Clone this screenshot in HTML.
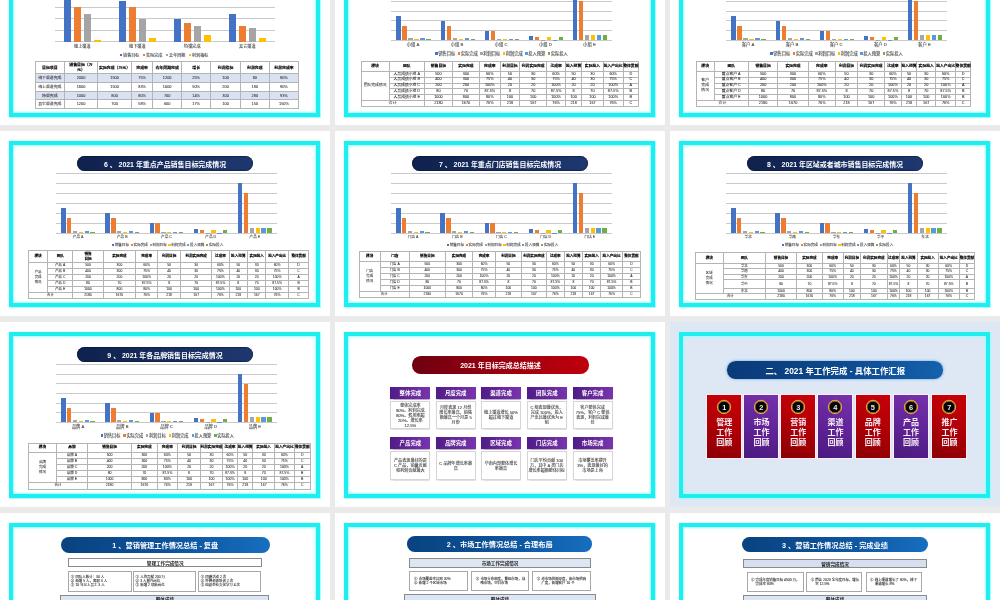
<!DOCTYPE html>
<html><head><meta charset="utf-8"><title>slides</title>
<style>
*{margin:0;padding:0}
html,body{width:1000px;height:600px;overflow:hidden;background:#eaeaea}
body{position:relative;font-family:"Liberation Sans","Noto Sans CJK SC",sans-serif}
.c{position:absolute;width:330px;height:185.4px;overflow:hidden}
.c div{position:absolute}
.c .t{display:flex;align-items:center;white-space:nowrap;overflow:visible}
.c .fr{left:9px;top:10.1px;width:311px;height:166.8px;border:4px solid #1eeef0;box-sizing:border-box;
  box-shadow:0 0 1.6px 1.2px rgba(150,255,255,.85), inset 0 0 1.6px 1.2px rgba(150,255,255,.85)}
</style></head><body>
<div class="c" style="left:0px;top:-60.4px;background:#fff"><div style="left:54.8px;top:101.7px;width:220.2px;height:1px;background:#c8cacd"></div><div style="left:54.8px;top:90.25px;width:220.2px;height:1px;background:#c8cacd"></div><div style="left:54.8px;top:78.8px;width:220.2px;height:1px;background:#c8cacd"></div><div style="left:54.8px;top:67.35px;width:220.2px;height:1px;background:#c8cacd"></div><div style="left:54.8px;top:55.9px;width:220.2px;height:1px;background:#c8cacd"></div><div style="left:54.8px;top:44.45px;width:220.2px;height:1px;background:#c8cacd"></div><div style="left:63.8px;top:56.4px;width:7.4px;height:45.8px;background:#4472c4"></div><div style="left:73.8px;top:67.85px;width:7.4px;height:34.35px;background:#ed7d31"></div><div style="left:83.8px;top:74.72px;width:7.4px;height:27.48px;background:#a5a5a5"></div><div style="left:93.8px;top:100.37px;width:7.4px;height:1.83px;background:#ffc000"></div><div class="t" style="left:54.8px;top:103.3px;width:55px;height:6px;font-size:4.1px;color:#404040;justify-content:center;text-align:center;-webkit-text-stroke:0.1px #555;">线上渠道</div><div style="left:118.8px;top:60.98px;width:7.4px;height:41.22px;background:#4472c4"></div><div style="left:128.8px;top:67.85px;width:7.4px;height:34.35px;background:#ed7d31"></div><div style="left:138.8px;top:79.3px;width:7.4px;height:22.9px;background:#a5a5a5"></div><div style="left:148.8px;top:98.08px;width:7.4px;height:4.12px;background:#ffc000"></div><div class="t" style="left:109.8px;top:103.3px;width:55px;height:6px;font-size:4.1px;color:#404040;justify-content:center;text-align:center;-webkit-text-stroke:0.1px #555;">线下渠道</div><div style="left:173.8px;top:79.3px;width:7.4px;height:22.9px;background:#4472c4"></div><div style="left:183.8px;top:83.88px;width:7.4px;height:18.32px;background:#ed7d31"></div><div style="left:193.8px;top:86.17px;width:7.4px;height:16.03px;background:#a5a5a5"></div><div style="left:203.8px;top:95.79px;width:7.4px;height:6.41px;background:#ffc000"></div><div class="t" style="left:164.8px;top:103.3px;width:55px;height:6px;font-size:4.1px;color:#404040;justify-content:center;text-align:center;-webkit-text-stroke:0.1px #555;">特渠完成</div><div style="left:228.8px;top:74.72px;width:7.4px;height:27.48px;background:#4472c4"></div><div style="left:238.8px;top:86.17px;width:7.4px;height:16.03px;background:#ed7d31"></div><div style="left:248.8px;top:88.46px;width:7.4px;height:13.74px;background:#a5a5a5"></div><div style="left:258.8px;top:98.76px;width:7.4px;height:3.44px;background:#ffc000"></div><div class="t" style="left:219.8px;top:103.3px;width:55px;height:6px;font-size:4.1px;color:#404040;justify-content:center;text-align:center;-webkit-text-stroke:0.1px #555;">其它渠道</div><div style="left:120.4px;top:114.75px;width:2.1px;height:2.1px;background:#4472c4"></div><div class="t" style="left:123.1px;top:112.8px;width:20.9px;height:6px;font-size:4.1px;color:#404040;justify-content:flex-start;text-align:left;-webkit-text-stroke:0.1px #555;">销售目标</div><div style="left:143.4px;top:114.75px;width:2.1px;height:2.1px;background:#ed7d31"></div><div class="t" style="left:146.1px;top:112.8px;width:20.9px;height:6px;font-size:4.1px;color:#404040;justify-content:flex-start;text-align:left;-webkit-text-stroke:0.1px #555;">实际完成</div><div style="left:166.4px;top:114.75px;width:2.1px;height:2.1px;background:#a5a5a5"></div><div class="t" style="left:169.1px;top:112.8px;width:20.9px;height:6px;font-size:4.1px;color:#404040;justify-content:flex-start;text-align:left;-webkit-text-stroke:0.1px #555;">去年同期</div><div style="left:189.4px;top:114.75px;width:2.1px;height:2.1px;background:#ffc000"></div><div class="t" style="left:192.1px;top:112.8px;width:20.9px;height:6px;font-size:4.1px;color:#404040;justify-content:flex-start;text-align:left;-webkit-text-stroke:0.1px #555;">利润指标</div><div style="left:35.3px;top:133.6px;width:263.3px;height:9.1px;background:#d9e1f2"></div><div style="left:35.3px;top:151.5px;width:263.3px;height:8.7px;background:#d9e1f2"></div><div style="left:63.95px;top:121.25px;width:0.9px;height:12.8px;background:#b4b4b4"></div><div style="left:34.85px;top:133.15px;width:30px;height:0.9px;background:#b4b4b4"></div><div class="t" style="left:35.3px;top:121.7px;width:29.1px;height:11.9px;font-size:3.9px;color:#000;font-weight:bold;justify-content:center;text-align:center;line-height:1.4;-webkit-text-stroke:0.1px #000;">目标项目</div><div style="left:97.15px;top:121.25px;width:0.9px;height:12.8px;background:#b4b4b4"></div><div style="left:63.95px;top:133.15px;width:34.1px;height:0.9px;background:#b4b4b4"></div><div class="t" style="left:64.4px;top:121.7px;width:33.2px;height:11.9px;font-size:3.9px;color:#000;font-weight:bold;justify-content:center;text-align:center;line-height:1.4;-webkit-text-stroke:0.1px #000;">销售目标（万<br>元）</div><div style="left:131.15px;top:121.25px;width:0.9px;height:12.8px;background:#b4b4b4"></div><div style="left:97.15px;top:133.15px;width:34.9px;height:0.9px;background:#b4b4b4"></div><div class="t" style="left:97.6px;top:121.7px;width:34px;height:11.9px;font-size:3.9px;color:#000;font-weight:bold;justify-content:center;text-align:center;line-height:1.4;-webkit-text-stroke:0.1px #000;">实际完成（万元）</div><div style="left:152.35px;top:121.25px;width:0.9px;height:12.8px;background:#b4b4b4"></div><div style="left:131.15px;top:133.15px;width:22.1px;height:0.9px;background:#b4b4b4"></div><div class="t" style="left:131.6px;top:121.7px;width:21.2px;height:11.9px;font-size:3.9px;color:#000;font-weight:bold;justify-content:center;text-align:center;line-height:1.4;-webkit-text-stroke:0.1px #000;">完成率</div><div style="left:181.05px;top:121.25px;width:0.9px;height:12.8px;background:#b4b4b4"></div><div style="left:152.35px;top:133.15px;width:29.6px;height:0.9px;background:#b4b4b4"></div><div class="t" style="left:152.8px;top:121.7px;width:28.7px;height:11.9px;font-size:3.9px;color:#000;font-weight:bold;justify-content:center;text-align:center;line-height:1.4;-webkit-text-stroke:0.1px #000;">去年同期完成</div><div style="left:210.35px;top:121.25px;width:0.9px;height:12.8px;background:#b4b4b4"></div><div style="left:181.05px;top:133.15px;width:30.2px;height:0.9px;background:#b4b4b4"></div><div class="t" style="left:181.5px;top:121.7px;width:29.3px;height:11.9px;font-size:3.9px;color:#000;font-weight:bold;justify-content:center;text-align:center;line-height:1.4;-webkit-text-stroke:0.1px #000;">增长</div><div style="left:239.95px;top:121.25px;width:0.9px;height:12.8px;background:#b4b4b4"></div><div style="left:210.35px;top:133.15px;width:30.5px;height:0.9px;background:#b4b4b4"></div><div class="t" style="left:210.8px;top:121.7px;width:29.6px;height:11.9px;font-size:3.9px;color:#000;font-weight:bold;justify-content:center;text-align:center;line-height:1.4;-webkit-text-stroke:0.1px #000;">利润指标</div><div style="left:268.85px;top:121.25px;width:0.9px;height:12.8px;background:#b4b4b4"></div><div style="left:239.95px;top:133.15px;width:29.8px;height:0.9px;background:#b4b4b4"></div><div class="t" style="left:240.4px;top:121.7px;width:28.9px;height:11.9px;font-size:3.9px;color:#000;font-weight:bold;justify-content:center;text-align:center;line-height:1.4;-webkit-text-stroke:0.1px #000;">利润完成</div><div style="left:298.15px;top:121.25px;width:0.9px;height:12.8px;background:#b4b4b4"></div><div style="left:268.85px;top:133.15px;width:30.2px;height:0.9px;background:#b4b4b4"></div><div class="t" style="left:269.3px;top:121.7px;width:29.3px;height:11.9px;font-size:3.9px;color:#000;font-weight:bold;justify-content:center;text-align:center;line-height:1.4;-webkit-text-stroke:0.1px #000;">利润完成率</div><div style="left:63.95px;top:133.15px;width:0.9px;height:10px;background:#b4b4b4"></div><div style="left:34.85px;top:142.25px;width:30px;height:0.9px;background:#b4b4b4"></div><div class="t" style="left:35.3px;top:133.6px;width:29.1px;height:9.1px;font-size:3.9px;color:#262626;justify-content:center;text-align:center;line-height:1.4;-webkit-text-stroke:0.05px #444;">线下渠道完成</div><div style="left:97.15px;top:133.15px;width:0.9px;height:10px;background:#b4b4b4"></div><div style="left:63.95px;top:142.25px;width:34.1px;height:0.9px;background:#b4b4b4"></div><div class="t" style="left:64.4px;top:133.6px;width:33.2px;height:9.1px;font-size:3.9px;color:#262626;justify-content:center;text-align:center;line-height:1.4;-webkit-text-stroke:0.05px #444;">2000</div><div style="left:131.15px;top:133.15px;width:0.9px;height:10px;background:#b4b4b4"></div><div style="left:97.15px;top:142.25px;width:34.9px;height:0.9px;background:#b4b4b4"></div><div class="t" style="left:97.6px;top:133.6px;width:34px;height:9.1px;font-size:3.9px;color:#262626;justify-content:center;text-align:center;line-height:1.4;-webkit-text-stroke:0.05px #444;">1500</div><div style="left:152.35px;top:133.15px;width:0.9px;height:10px;background:#b4b4b4"></div><div style="left:131.15px;top:142.25px;width:22.1px;height:0.9px;background:#b4b4b4"></div><div class="t" style="left:131.6px;top:133.6px;width:21.2px;height:9.1px;font-size:3.9px;color:#262626;justify-content:center;text-align:center;line-height:1.4;-webkit-text-stroke:0.05px #444;">75%</div><div style="left:181.05px;top:133.15px;width:0.9px;height:10px;background:#b4b4b4"></div><div style="left:152.35px;top:142.25px;width:29.6px;height:0.9px;background:#b4b4b4"></div><div class="t" style="left:152.8px;top:133.6px;width:28.7px;height:9.1px;font-size:3.9px;color:#262626;justify-content:center;text-align:center;line-height:1.4;-webkit-text-stroke:0.05px #444;">1200</div><div style="left:210.35px;top:133.15px;width:0.9px;height:10px;background:#b4b4b4"></div><div style="left:181.05px;top:142.25px;width:30.2px;height:0.9px;background:#b4b4b4"></div><div class="t" style="left:181.5px;top:133.6px;width:29.3px;height:9.1px;font-size:3.9px;color:#262626;justify-content:center;text-align:center;line-height:1.4;-webkit-text-stroke:0.05px #444;">25%</div><div style="left:239.95px;top:133.15px;width:0.9px;height:10px;background:#b4b4b4"></div><div style="left:210.35px;top:142.25px;width:30.5px;height:0.9px;background:#b4b4b4"></div><div class="t" style="left:210.8px;top:133.6px;width:29.6px;height:9.1px;font-size:3.9px;color:#262626;justify-content:center;text-align:center;line-height:1.4;-webkit-text-stroke:0.05px #444;">100</div><div style="left:268.85px;top:133.15px;width:0.9px;height:10px;background:#b4b4b4"></div><div style="left:239.95px;top:142.25px;width:29.8px;height:0.9px;background:#b4b4b4"></div><div class="t" style="left:240.4px;top:133.6px;width:28.9px;height:9.1px;font-size:3.9px;color:#262626;justify-content:center;text-align:center;line-height:1.4;-webkit-text-stroke:0.05px #444;">80</div><div style="left:298.15px;top:133.15px;width:0.9px;height:10px;background:#b4b4b4"></div><div style="left:268.85px;top:142.25px;width:30.2px;height:0.9px;background:#b4b4b4"></div><div class="t" style="left:269.3px;top:133.6px;width:29.3px;height:9.1px;font-size:3.9px;color:#262626;justify-content:center;text-align:center;line-height:1.4;-webkit-text-stroke:0.05px #444;">80%</div><div style="left:63.95px;top:142.25px;width:0.9px;height:9.7px;background:#b4b4b4"></div><div style="left:34.85px;top:151.05px;width:30px;height:0.9px;background:#b4b4b4"></div><div class="t" style="left:35.3px;top:142.7px;width:29.1px;height:8.8px;font-size:3.9px;color:#262626;justify-content:center;text-align:center;line-height:1.4;-webkit-text-stroke:0.05px #444;">线上渠道完成</div><div style="left:97.15px;top:142.25px;width:0.9px;height:9.7px;background:#b4b4b4"></div><div style="left:63.95px;top:151.05px;width:34.1px;height:0.9px;background:#b4b4b4"></div><div class="t" style="left:64.4px;top:142.7px;width:33.2px;height:8.8px;font-size:3.9px;color:#262626;justify-content:center;text-align:center;line-height:1.4;-webkit-text-stroke:0.05px #444;">1800</div><div style="left:131.15px;top:142.25px;width:0.9px;height:9.7px;background:#b4b4b4"></div><div style="left:97.15px;top:151.05px;width:34.9px;height:0.9px;background:#b4b4b4"></div><div class="t" style="left:97.6px;top:142.7px;width:34px;height:8.8px;font-size:3.9px;color:#262626;justify-content:center;text-align:center;line-height:1.4;-webkit-text-stroke:0.05px #444;">1500</div><div style="left:152.35px;top:142.25px;width:0.9px;height:9.7px;background:#b4b4b4"></div><div style="left:131.15px;top:151.05px;width:22.1px;height:0.9px;background:#b4b4b4"></div><div class="t" style="left:131.6px;top:142.7px;width:21.2px;height:8.8px;font-size:3.9px;color:#262626;justify-content:center;text-align:center;line-height:1.4;-webkit-text-stroke:0.05px #444;">83%</div><div style="left:181.05px;top:142.25px;width:0.9px;height:9.7px;background:#b4b4b4"></div><div style="left:152.35px;top:151.05px;width:29.6px;height:0.9px;background:#b4b4b4"></div><div class="t" style="left:152.8px;top:142.7px;width:28.7px;height:8.8px;font-size:3.9px;color:#262626;justify-content:center;text-align:center;line-height:1.4;-webkit-text-stroke:0.05px #444;">1000</div><div style="left:210.35px;top:142.25px;width:0.9px;height:9.7px;background:#b4b4b4"></div><div style="left:181.05px;top:151.05px;width:30.2px;height:0.9px;background:#b4b4b4"></div><div class="t" style="left:181.5px;top:142.7px;width:29.3px;height:8.8px;font-size:3.9px;color:#262626;justify-content:center;text-align:center;line-height:1.4;-webkit-text-stroke:0.05px #444;">50%</div><div style="left:239.95px;top:142.25px;width:0.9px;height:9.7px;background:#b4b4b4"></div><div style="left:210.35px;top:151.05px;width:30.5px;height:0.9px;background:#b4b4b4"></div><div class="t" style="left:210.8px;top:142.7px;width:29.6px;height:8.8px;font-size:3.9px;color:#262626;justify-content:center;text-align:center;line-height:1.4;-webkit-text-stroke:0.05px #444;">200</div><div style="left:268.85px;top:142.25px;width:0.9px;height:9.7px;background:#b4b4b4"></div><div style="left:239.95px;top:151.05px;width:29.8px;height:0.9px;background:#b4b4b4"></div><div class="t" style="left:240.4px;top:142.7px;width:28.9px;height:8.8px;font-size:3.9px;color:#262626;justify-content:center;text-align:center;line-height:1.4;-webkit-text-stroke:0.05px #444;">180</div><div style="left:298.15px;top:142.25px;width:0.9px;height:9.7px;background:#b4b4b4"></div><div style="left:268.85px;top:151.05px;width:30.2px;height:0.9px;background:#b4b4b4"></div><div class="t" style="left:269.3px;top:142.7px;width:29.3px;height:8.8px;font-size:3.9px;color:#262626;justify-content:center;text-align:center;line-height:1.4;-webkit-text-stroke:0.05px #444;">90%</div><div style="left:63.95px;top:151.05px;width:0.9px;height:9.6px;background:#b4b4b4"></div><div style="left:34.85px;top:159.75px;width:30px;height:0.9px;background:#b4b4b4"></div><div class="t" style="left:35.3px;top:151.5px;width:29.1px;height:8.7px;font-size:3.9px;color:#262626;justify-content:center;text-align:center;line-height:1.4;-webkit-text-stroke:0.05px #444;">特渠完成</div><div style="left:97.15px;top:151.05px;width:0.9px;height:9.6px;background:#b4b4b4"></div><div style="left:63.95px;top:159.75px;width:34.1px;height:0.9px;background:#b4b4b4"></div><div class="t" style="left:64.4px;top:151.5px;width:33.2px;height:8.7px;font-size:3.9px;color:#262626;justify-content:center;text-align:center;line-height:1.4;-webkit-text-stroke:0.05px #444;">1000</div><div style="left:131.15px;top:151.05px;width:0.9px;height:9.6px;background:#b4b4b4"></div><div style="left:97.15px;top:159.75px;width:34.9px;height:0.9px;background:#b4b4b4"></div><div class="t" style="left:97.6px;top:151.5px;width:34px;height:8.7px;font-size:3.9px;color:#262626;justify-content:center;text-align:center;line-height:1.4;-webkit-text-stroke:0.05px #444;">800</div><div style="left:152.35px;top:151.05px;width:0.9px;height:9.6px;background:#b4b4b4"></div><div style="left:131.15px;top:159.75px;width:22.1px;height:0.9px;background:#b4b4b4"></div><div class="t" style="left:131.6px;top:151.5px;width:21.2px;height:8.7px;font-size:3.9px;color:#262626;justify-content:center;text-align:center;line-height:1.4;-webkit-text-stroke:0.05px #444;">80%</div><div style="left:181.05px;top:151.05px;width:0.9px;height:9.6px;background:#b4b4b4"></div><div style="left:152.35px;top:159.75px;width:29.6px;height:0.9px;background:#b4b4b4"></div><div class="t" style="left:152.8px;top:151.5px;width:28.7px;height:8.7px;font-size:3.9px;color:#262626;justify-content:center;text-align:center;line-height:1.4;-webkit-text-stroke:0.05px #444;">700</div><div style="left:210.35px;top:151.05px;width:0.9px;height:9.6px;background:#b4b4b4"></div><div style="left:181.05px;top:159.75px;width:30.2px;height:0.9px;background:#b4b4b4"></div><div class="t" style="left:181.5px;top:151.5px;width:29.3px;height:8.7px;font-size:3.9px;color:#262626;justify-content:center;text-align:center;line-height:1.4;-webkit-text-stroke:0.05px #444;">14%</div><div style="left:239.95px;top:151.05px;width:0.9px;height:9.6px;background:#b4b4b4"></div><div style="left:210.35px;top:159.75px;width:30.5px;height:0.9px;background:#b4b4b4"></div><div class="t" style="left:210.8px;top:151.5px;width:29.6px;height:8.7px;font-size:3.9px;color:#262626;justify-content:center;text-align:center;line-height:1.4;-webkit-text-stroke:0.05px #444;">300</div><div style="left:268.85px;top:151.05px;width:0.9px;height:9.6px;background:#b4b4b4"></div><div style="left:239.95px;top:159.75px;width:29.8px;height:0.9px;background:#b4b4b4"></div><div class="t" style="left:240.4px;top:151.5px;width:28.9px;height:8.7px;font-size:3.9px;color:#262626;justify-content:center;text-align:center;line-height:1.4;-webkit-text-stroke:0.05px #444;">280</div><div style="left:298.15px;top:151.05px;width:0.9px;height:9.6px;background:#b4b4b4"></div><div style="left:268.85px;top:159.75px;width:30.2px;height:0.9px;background:#b4b4b4"></div><div class="t" style="left:269.3px;top:151.5px;width:29.3px;height:8.7px;font-size:3.9px;color:#262626;justify-content:center;text-align:center;line-height:1.4;-webkit-text-stroke:0.05px #444;">93%</div><div style="left:63.95px;top:159.75px;width:0.9px;height:9.7px;background:#b4b4b4"></div><div style="left:34.85px;top:168.55px;width:30px;height:0.9px;background:#b4b4b4"></div><div class="t" style="left:35.3px;top:160.2px;width:29.1px;height:8.8px;font-size:3.9px;color:#262626;justify-content:center;text-align:center;line-height:1.4;-webkit-text-stroke:0.05px #444;">其它渠道完成</div><div style="left:97.15px;top:159.75px;width:0.9px;height:9.7px;background:#b4b4b4"></div><div style="left:63.95px;top:168.55px;width:34.1px;height:0.9px;background:#b4b4b4"></div><div class="t" style="left:64.4px;top:160.2px;width:33.2px;height:8.8px;font-size:3.9px;color:#262626;justify-content:center;text-align:center;line-height:1.4;-webkit-text-stroke:0.05px #444;">1200</div><div style="left:131.15px;top:159.75px;width:0.9px;height:9.7px;background:#b4b4b4"></div><div style="left:97.15px;top:168.55px;width:34.9px;height:0.9px;background:#b4b4b4"></div><div class="t" style="left:97.6px;top:160.2px;width:34px;height:8.8px;font-size:3.9px;color:#262626;justify-content:center;text-align:center;line-height:1.4;-webkit-text-stroke:0.05px #444;">700</div><div style="left:152.35px;top:159.75px;width:0.9px;height:9.7px;background:#b4b4b4"></div><div style="left:131.15px;top:168.55px;width:22.1px;height:0.9px;background:#b4b4b4"></div><div class="t" style="left:131.6px;top:160.2px;width:21.2px;height:8.8px;font-size:3.9px;color:#262626;justify-content:center;text-align:center;line-height:1.4;-webkit-text-stroke:0.05px #444;">58%</div><div style="left:181.05px;top:159.75px;width:0.9px;height:9.7px;background:#b4b4b4"></div><div style="left:152.35px;top:168.55px;width:29.6px;height:0.9px;background:#b4b4b4"></div><div class="t" style="left:152.8px;top:160.2px;width:28.7px;height:8.8px;font-size:3.9px;color:#262626;justify-content:center;text-align:center;line-height:1.4;-webkit-text-stroke:0.05px #444;">600</div><div style="left:210.35px;top:159.75px;width:0.9px;height:9.7px;background:#b4b4b4"></div><div style="left:181.05px;top:168.55px;width:30.2px;height:0.9px;background:#b4b4b4"></div><div class="t" style="left:181.5px;top:160.2px;width:29.3px;height:8.8px;font-size:3.9px;color:#262626;justify-content:center;text-align:center;line-height:1.4;-webkit-text-stroke:0.05px #444;">17%</div><div style="left:239.95px;top:159.75px;width:0.9px;height:9.7px;background:#b4b4b4"></div><div style="left:210.35px;top:168.55px;width:30.5px;height:0.9px;background:#b4b4b4"></div><div class="t" style="left:210.8px;top:160.2px;width:29.6px;height:8.8px;font-size:3.9px;color:#262626;justify-content:center;text-align:center;line-height:1.4;-webkit-text-stroke:0.05px #444;">100</div><div style="left:268.85px;top:159.75px;width:0.9px;height:9.7px;background:#b4b4b4"></div><div style="left:239.95px;top:168.55px;width:29.8px;height:0.9px;background:#b4b4b4"></div><div class="t" style="left:240.4px;top:160.2px;width:28.9px;height:8.8px;font-size:3.9px;color:#262626;justify-content:center;text-align:center;line-height:1.4;-webkit-text-stroke:0.05px #444;">150</div><div style="left:298.15px;top:159.75px;width:0.9px;height:9.7px;background:#b4b4b4"></div><div style="left:268.85px;top:168.55px;width:30.2px;height:0.9px;background:#b4b4b4"></div><div class="t" style="left:269.3px;top:160.2px;width:29.3px;height:8.8px;font-size:3.9px;color:#262626;justify-content:center;text-align:center;line-height:1.4;-webkit-text-stroke:0.05px #444;">150%</div><div style="left:34.85px;top:121.25px;width:0.9px;height:48.2px;background:#b4b4b4"></div><div style="left:34.85px;top:121.25px;width:264.2px;height:0.9px;background:#b4b4b4"></div><div class="fr"></div></div><div class="c" style="left:335px;top:-60.4px;background:#fff"><div style="left:56px;top:100.1px;width:220.6px;height:1px;background:#c8cacd"></div><div style="left:56px;top:90.4px;width:220.6px;height:1px;background:#c8cacd"></div><div style="left:56px;top:80.7px;width:220.6px;height:1px;background:#c8cacd"></div><div style="left:56px;top:71px;width:220.6px;height:1px;background:#c8cacd"></div><div style="left:56px;top:61.3px;width:220.6px;height:1px;background:#c8cacd"></div><div style="left:56px;top:51.6px;width:220.6px;height:1px;background:#c8cacd"></div><div style="left:56px;top:41.9px;width:220.6px;height:1px;background:#c8cacd"></div><div style="left:61.4px;top:76.35px;width:4.5px;height:24.25px;background:#4472c4"></div><div style="left:67.4px;top:86.05px;width:4.5px;height:14.55px;background:#ed7d31"></div><div style="left:73.4px;top:98.17px;width:4.5px;height:2.42px;background:#a5a5a5"></div><div style="left:79.4px;top:99.14px;width:4.5px;height:1.45px;background:#ffc000"></div><div style="left:85.4px;top:98.17px;width:4.5px;height:2.42px;background:#5b9bd5"></div><div style="left:91.4px;top:99.14px;width:4.5px;height:1.45px;background:#70ad47"></div><div class="t" style="left:56px;top:101.8px;width:44.1px;height:6px;font-size:4.3px;color:#404040;justify-content:center;text-align:center;-webkit-text-stroke:0.1px #555;">小组 A</div><div style="left:105.5px;top:81.2px;width:4.5px;height:19.4px;background:#4472c4"></div><div style="left:111.5px;top:86.05px;width:4.5px;height:14.55px;background:#ed7d31"></div><div style="left:117.5px;top:98.66px;width:4.5px;height:1.94px;background:#a5a5a5"></div><div style="left:123.5px;top:99.14px;width:4.5px;height:1.45px;background:#ffc000"></div><div style="left:129.5px;top:98.66px;width:4.5px;height:1.94px;background:#5b9bd5"></div><div style="left:135.5px;top:99.14px;width:4.5px;height:1.45px;background:#70ad47"></div><div class="t" style="left:100.1px;top:101.8px;width:44.1px;height:6px;font-size:4.3px;color:#404040;justify-content:center;text-align:center;-webkit-text-stroke:0.1px #555;">小组 B</div><div style="left:149.6px;top:90.9px;width:4.5px;height:9.7px;background:#4472c4"></div><div style="left:155.6px;top:90.9px;width:4.5px;height:9.7px;background:#ed7d31"></div><div style="left:161.6px;top:99.63px;width:4.5px;height:0.97px;background:#a5a5a5"></div><div style="left:167.6px;top:99.63px;width:4.5px;height:0.97px;background:#ffc000"></div><div style="left:173.6px;top:99.63px;width:4.5px;height:0.97px;background:#5b9bd5"></div><div style="left:179.6px;top:99.63px;width:4.5px;height:0.97px;background:#70ad47"></div><div class="t" style="left:144.2px;top:101.8px;width:44.1px;height:6px;font-size:4.3px;color:#404040;justify-content:center;text-align:center;-webkit-text-stroke:0.1px #555;">小组 C</div><div style="left:193.7px;top:96.72px;width:4.5px;height:3.88px;background:#4472c4"></div><div style="left:199.7px;top:97.2px;width:4.5px;height:3.39px;background:#ed7d31"></div><div style="left:205.7px;top:100.21px;width:4.5px;height:0.39px;background:#a5a5a5"></div><div style="left:211.7px;top:97.2px;width:4.5px;height:3.39px;background:#ffc000"></div><div style="left:217.7px;top:100.21px;width:4.5px;height:0.39px;background:#5b9bd5"></div><div style="left:223.7px;top:97.2px;width:4.5px;height:3.39px;background:#70ad47"></div><div class="t" style="left:188.3px;top:101.8px;width:44.1px;height:6px;font-size:4.3px;color:#404040;justify-content:center;text-align:center;-webkit-text-stroke:0.1px #555;">小组 D</div><div style="left:237.8px;top:52.1px;width:4.5px;height:48.5px;background:#4472c4"></div><div style="left:243.8px;top:61.8px;width:4.5px;height:38.8px;background:#ed7d31"></div><div style="left:249.8px;top:95.75px;width:4.5px;height:4.85px;background:#a5a5a5"></div><div style="left:255.8px;top:95.75px;width:4.5px;height:4.85px;background:#ffc000"></div><div style="left:261.8px;top:95.75px;width:4.5px;height:4.85px;background:#5b9bd5"></div><div style="left:267.8px;top:95.75px;width:4.5px;height:4.85px;background:#70ad47"></div><div class="t" style="left:232.4px;top:101.8px;width:44.1px;height:6px;font-size:4.3px;color:#404040;justify-content:center;text-align:center;-webkit-text-stroke:0.1px #555;">小组 E</div><div style="left:100.2px;top:112.6px;width:2.4px;height:2.4px;background:#4472c4"></div><div class="t" style="left:103.2px;top:110.8px;width:20.1px;height:6px;font-size:4.3px;color:#404040;justify-content:flex-start;text-align:left;-webkit-text-stroke:0.1px #555;">销售目标</div><div style="left:122.7px;top:112.6px;width:2.4px;height:2.4px;background:#ed7d31"></div><div class="t" style="left:125.7px;top:110.8px;width:20.1px;height:6px;font-size:4.3px;color:#404040;justify-content:flex-start;text-align:left;-webkit-text-stroke:0.1px #555;">实际完成</div><div style="left:145.2px;top:112.6px;width:2.4px;height:2.4px;background:#a5a5a5"></div><div class="t" style="left:148.2px;top:110.8px;width:20.1px;height:6px;font-size:4.3px;color:#404040;justify-content:flex-start;text-align:left;-webkit-text-stroke:0.1px #555;">利润目标</div><div style="left:167.7px;top:112.6px;width:2.4px;height:2.4px;background:#ffc000"></div><div class="t" style="left:170.7px;top:110.8px;width:20.1px;height:6px;font-size:4.3px;color:#404040;justify-content:flex-start;text-align:left;-webkit-text-stroke:0.1px #555;">利润完成</div><div style="left:190.2px;top:112.6px;width:2.4px;height:2.4px;background:#5b9bd5"></div><div class="t" style="left:193.2px;top:110.8px;width:20.1px;height:6px;font-size:4.3px;color:#404040;justify-content:flex-start;text-align:left;-webkit-text-stroke:0.1px #555;">投入预算</div><div style="left:212.7px;top:112.6px;width:2.4px;height:2.4px;background:#70ad47"></div><div class="t" style="left:215.7px;top:110.8px;width:20.1px;height:6px;font-size:4.3px;color:#404040;justify-content:flex-start;text-align:left;-webkit-text-stroke:0.1px #555;">实际投入</div><div style="left:53.75px;top:121.05px;width:0.9px;height:11.1px;background:#b4b4b4"></div><div style="left:25.55px;top:131.25px;width:29.1px;height:0.9px;background:#b4b4b4"></div><div class="t" style="left:26px;top:121.5px;width:28.2px;height:10.2px;font-size:3.8px;color:#000;font-weight:bold;justify-content:center;text-align:center;line-height:1.4;-webkit-text-stroke:0.1px #000;">模块</div><div style="left:88.85px;top:121.05px;width:0.9px;height:11.1px;background:#b4b4b4"></div><div style="left:53.75px;top:131.25px;width:36px;height:0.9px;background:#b4b4b4"></div><div class="t" style="left:54.2px;top:121.5px;width:35.1px;height:10.2px;font-size:3.8px;color:#000;font-weight:bold;justify-content:center;text-align:center;line-height:1.4;-webkit-text-stroke:0.1px #000;">团队</div><div style="left:117.05px;top:121.05px;width:0.9px;height:11.1px;background:#b4b4b4"></div><div style="left:88.85px;top:131.25px;width:29.1px;height:0.9px;background:#b4b4b4"></div><div class="t" style="left:89.3px;top:121.5px;width:28.2px;height:10.2px;font-size:3.8px;color:#000;font-weight:bold;justify-content:center;text-align:center;line-height:1.4;-webkit-text-stroke:0.1px #000;">销售目标</div><div style="left:143.95px;top:121.05px;width:0.9px;height:11.1px;background:#b4b4b4"></div><div style="left:117.05px;top:131.25px;width:27.8px;height:0.9px;background:#b4b4b4"></div><div class="t" style="left:117.5px;top:121.5px;width:26.9px;height:10.2px;font-size:3.8px;color:#000;font-weight:bold;justify-content:center;text-align:center;line-height:1.4;-webkit-text-stroke:0.1px #000;">实际完成</div><div style="left:164.75px;top:121.05px;width:0.9px;height:11.1px;background:#b4b4b4"></div><div style="left:143.95px;top:131.25px;width:21.7px;height:0.9px;background:#b4b4b4"></div><div class="t" style="left:144.4px;top:121.5px;width:20.8px;height:10.2px;font-size:3.8px;color:#000;font-weight:bold;justify-content:center;text-align:center;line-height:1.4;-webkit-text-stroke:0.1px #000;">完成率</div><div style="left:184.25px;top:121.05px;width:0.9px;height:11.1px;background:#b4b4b4"></div><div style="left:164.75px;top:131.25px;width:20.4px;height:0.9px;background:#b4b4b4"></div><div class="t" style="left:165.2px;top:121.5px;width:19.5px;height:10.2px;font-size:3.8px;color:#000;font-weight:bold;justify-content:center;text-align:center;line-height:1.4;-webkit-text-stroke:0.1px #000;">利润目标</div><div style="left:211.25px;top:121.05px;width:0.9px;height:11.1px;background:#b4b4b4"></div><div style="left:184.25px;top:131.25px;width:27.9px;height:0.9px;background:#b4b4b4"></div><div class="t" style="left:184.7px;top:121.5px;width:27px;height:10.2px;font-size:3.8px;color:#000;font-weight:bold;justify-content:center;text-align:center;line-height:1.4;-webkit-text-stroke:0.1px #000;">利润实际完成</div><div style="left:230.05px;top:121.05px;width:0.9px;height:11.1px;background:#b4b4b4"></div><div style="left:211.25px;top:131.25px;width:19.7px;height:0.9px;background:#b4b4b4"></div><div class="t" style="left:211.7px;top:121.5px;width:18.8px;height:10.2px;font-size:3.8px;color:#000;font-weight:bold;justify-content:center;text-align:center;line-height:1.4;-webkit-text-stroke:0.1px #000;">达成率</div><div style="left:246.25px;top:121.05px;width:0.9px;height:11.1px;background:#b4b4b4"></div><div style="left:230.05px;top:131.25px;width:17.1px;height:0.9px;background:#b4b4b4"></div><div class="t" style="left:230.5px;top:121.5px;width:16.2px;height:10.2px;font-size:3.8px;color:#000;font-weight:bold;justify-content:center;text-align:center;line-height:1.4;-webkit-text-stroke:0.1px #000;">投入预算</div><div style="left:267.75px;top:121.05px;width:0.9px;height:11.1px;background:#b4b4b4"></div><div style="left:246.25px;top:131.25px;width:22.4px;height:0.9px;background:#b4b4b4"></div><div class="t" style="left:246.7px;top:121.5px;width:21.5px;height:10.2px;font-size:3.8px;color:#000;font-weight:bold;justify-content:center;text-align:center;line-height:1.4;-webkit-text-stroke:0.1px #000;">实际投入</div><div style="left:287.75px;top:121.05px;width:0.9px;height:11.1px;background:#b4b4b4"></div><div style="left:267.75px;top:131.25px;width:20.9px;height:0.9px;background:#b4b4b4"></div><div class="t" style="left:268.2px;top:121.5px;width:20px;height:10.2px;font-size:3.8px;color:#000;font-weight:bold;justify-content:center;text-align:center;line-height:1.4;-webkit-text-stroke:0.1px #000;">投入产出比</div><div style="left:303.15px;top:121.05px;width:0.9px;height:11.1px;background:#b4b4b4"></div><div style="left:287.75px;top:131.25px;width:16.3px;height:0.9px;background:#b4b4b4"></div><div class="t" style="left:288.2px;top:121.5px;width:15.4px;height:10.2px;font-size:3.8px;color:#000;font-weight:bold;justify-content:center;text-align:center;line-height:1.4;-webkit-text-stroke:0.1px #000;">整体贡献</div><div style="left:53.75px;top:131.25px;width:0.9px;height:29.8px;background:#b4b4b4"></div><div style="left:25.55px;top:160.15px;width:29.1px;height:0.9px;background:#b4b4b4"></div><div class="t" style="left:26px;top:131.7px;width:28.2px;height:28.9px;font-size:3.8px;color:#262626;justify-content:center;text-align:center;line-height:1.4;-webkit-text-stroke:0.05px #444;">团队完成情况</div><div style="left:88.85px;top:131.25px;width:0.9px;height:6.8px;background:#b4b4b4"></div><div style="left:53.75px;top:137.15px;width:36px;height:0.9px;background:#b4b4b4"></div><div class="t" style="left:54.2px;top:131.7px;width:35.1px;height:5.9px;font-size:3.8px;color:#262626;justify-content:center;text-align:center;line-height:1.4;-webkit-text-stroke:0.05px #444;">人员成绩小组 A</div><div style="left:117.05px;top:131.25px;width:0.9px;height:6.8px;background:#b4b4b4"></div><div style="left:88.85px;top:137.15px;width:29.1px;height:0.9px;background:#b4b4b4"></div><div class="t" style="left:89.3px;top:131.7px;width:28.2px;height:5.9px;font-size:3.8px;color:#262626;justify-content:center;text-align:center;line-height:1.4;-webkit-text-stroke:0.05px #444;">500</div><div style="left:143.95px;top:131.25px;width:0.9px;height:6.8px;background:#b4b4b4"></div><div style="left:117.05px;top:137.15px;width:27.8px;height:0.9px;background:#b4b4b4"></div><div class="t" style="left:117.5px;top:131.7px;width:26.9px;height:5.9px;font-size:3.8px;color:#262626;justify-content:center;text-align:center;line-height:1.4;-webkit-text-stroke:0.05px #444;">300</div><div style="left:164.75px;top:131.25px;width:0.9px;height:6.8px;background:#b4b4b4"></div><div style="left:143.95px;top:137.15px;width:21.7px;height:0.9px;background:#b4b4b4"></div><div class="t" style="left:144.4px;top:131.7px;width:20.8px;height:5.9px;font-size:3.8px;color:#262626;justify-content:center;text-align:center;line-height:1.4;-webkit-text-stroke:0.05px #444;">60%</div><div style="left:184.25px;top:131.25px;width:0.9px;height:6.8px;background:#b4b4b4"></div><div style="left:164.75px;top:137.15px;width:20.4px;height:0.9px;background:#b4b4b4"></div><div class="t" style="left:165.2px;top:131.7px;width:19.5px;height:5.9px;font-size:3.8px;color:#262626;justify-content:center;text-align:center;line-height:1.4;-webkit-text-stroke:0.05px #444;">50</div><div style="left:211.25px;top:131.25px;width:0.9px;height:6.8px;background:#b4b4b4"></div><div style="left:184.25px;top:137.15px;width:27.9px;height:0.9px;background:#b4b4b4"></div><div class="t" style="left:184.7px;top:131.7px;width:27px;height:5.9px;font-size:3.8px;color:#262626;justify-content:center;text-align:center;line-height:1.4;-webkit-text-stroke:0.05px #444;">30</div><div style="left:230.05px;top:131.25px;width:0.9px;height:6.8px;background:#b4b4b4"></div><div style="left:211.25px;top:137.15px;width:19.7px;height:0.9px;background:#b4b4b4"></div><div class="t" style="left:211.7px;top:131.7px;width:18.8px;height:5.9px;font-size:3.8px;color:#262626;justify-content:center;text-align:center;line-height:1.4;-webkit-text-stroke:0.05px #444;">60%</div><div style="left:246.25px;top:131.25px;width:0.9px;height:6.8px;background:#b4b4b4"></div><div style="left:230.05px;top:137.15px;width:17.1px;height:0.9px;background:#b4b4b4"></div><div class="t" style="left:230.5px;top:131.7px;width:16.2px;height:5.9px;font-size:3.8px;color:#262626;justify-content:center;text-align:center;line-height:1.4;-webkit-text-stroke:0.05px #444;">50</div><div style="left:267.75px;top:131.25px;width:0.9px;height:6.8px;background:#b4b4b4"></div><div style="left:246.25px;top:137.15px;width:22.4px;height:0.9px;background:#b4b4b4"></div><div class="t" style="left:246.7px;top:131.7px;width:21.5px;height:5.9px;font-size:3.8px;color:#262626;justify-content:center;text-align:center;line-height:1.4;-webkit-text-stroke:0.05px #444;">30</div><div style="left:287.75px;top:131.25px;width:0.9px;height:6.8px;background:#b4b4b4"></div><div style="left:267.75px;top:137.15px;width:20.9px;height:0.9px;background:#b4b4b4"></div><div class="t" style="left:268.2px;top:131.7px;width:20px;height:5.9px;font-size:3.8px;color:#262626;justify-content:center;text-align:center;line-height:1.4;-webkit-text-stroke:0.05px #444;">60%</div><div style="left:303.15px;top:131.25px;width:0.9px;height:6.8px;background:#b4b4b4"></div><div style="left:287.75px;top:137.15px;width:16.3px;height:0.9px;background:#b4b4b4"></div><div class="t" style="left:288.2px;top:131.7px;width:15.4px;height:5.9px;font-size:3.8px;color:#262626;justify-content:center;text-align:center;line-height:1.4;-webkit-text-stroke:0.05px #444;">D</div><div style="left:88.85px;top:137.15px;width:0.9px;height:6.8px;background:#b4b4b4"></div><div style="left:53.75px;top:143.05px;width:36px;height:0.9px;background:#b4b4b4"></div><div class="t" style="left:54.2px;top:137.6px;width:35.1px;height:5.9px;font-size:3.8px;color:#262626;justify-content:center;text-align:center;line-height:1.4;-webkit-text-stroke:0.05px #444;">人员成绩小组 B</div><div style="left:117.05px;top:137.15px;width:0.9px;height:6.8px;background:#b4b4b4"></div><div style="left:88.85px;top:143.05px;width:29.1px;height:0.9px;background:#b4b4b4"></div><div class="t" style="left:89.3px;top:137.6px;width:28.2px;height:5.9px;font-size:3.8px;color:#262626;justify-content:center;text-align:center;line-height:1.4;-webkit-text-stroke:0.05px #444;">400</div><div style="left:143.95px;top:137.15px;width:0.9px;height:6.8px;background:#b4b4b4"></div><div style="left:117.05px;top:143.05px;width:27.8px;height:0.9px;background:#b4b4b4"></div><div class="t" style="left:117.5px;top:137.6px;width:26.9px;height:5.9px;font-size:3.8px;color:#262626;justify-content:center;text-align:center;line-height:1.4;-webkit-text-stroke:0.05px #444;">300</div><div style="left:164.75px;top:137.15px;width:0.9px;height:6.8px;background:#b4b4b4"></div><div style="left:143.95px;top:143.05px;width:21.7px;height:0.9px;background:#b4b4b4"></div><div class="t" style="left:144.4px;top:137.6px;width:20.8px;height:5.9px;font-size:3.8px;color:#262626;justify-content:center;text-align:center;line-height:1.4;-webkit-text-stroke:0.05px #444;">75%</div><div style="left:184.25px;top:137.15px;width:0.9px;height:6.8px;background:#b4b4b4"></div><div style="left:164.75px;top:143.05px;width:20.4px;height:0.9px;background:#b4b4b4"></div><div class="t" style="left:165.2px;top:137.6px;width:19.5px;height:5.9px;font-size:3.8px;color:#262626;justify-content:center;text-align:center;line-height:1.4;-webkit-text-stroke:0.05px #444;">40</div><div style="left:211.25px;top:137.15px;width:0.9px;height:6.8px;background:#b4b4b4"></div><div style="left:184.25px;top:143.05px;width:27.9px;height:0.9px;background:#b4b4b4"></div><div class="t" style="left:184.7px;top:137.6px;width:27px;height:5.9px;font-size:3.8px;color:#262626;justify-content:center;text-align:center;line-height:1.4;-webkit-text-stroke:0.05px #444;">30</div><div style="left:230.05px;top:137.15px;width:0.9px;height:6.8px;background:#b4b4b4"></div><div style="left:211.25px;top:143.05px;width:19.7px;height:0.9px;background:#b4b4b4"></div><div class="t" style="left:211.7px;top:137.6px;width:18.8px;height:5.9px;font-size:3.8px;color:#262626;justify-content:center;text-align:center;line-height:1.4;-webkit-text-stroke:0.05px #444;">75%</div><div style="left:246.25px;top:137.15px;width:0.9px;height:6.8px;background:#b4b4b4"></div><div style="left:230.05px;top:143.05px;width:17.1px;height:0.9px;background:#b4b4b4"></div><div class="t" style="left:230.5px;top:137.6px;width:16.2px;height:5.9px;font-size:3.8px;color:#262626;justify-content:center;text-align:center;line-height:1.4;-webkit-text-stroke:0.05px #444;">40</div><div style="left:267.75px;top:137.15px;width:0.9px;height:6.8px;background:#b4b4b4"></div><div style="left:246.25px;top:143.05px;width:22.4px;height:0.9px;background:#b4b4b4"></div><div class="t" style="left:246.7px;top:137.6px;width:21.5px;height:5.9px;font-size:3.8px;color:#262626;justify-content:center;text-align:center;line-height:1.4;-webkit-text-stroke:0.05px #444;">30</div><div style="left:287.75px;top:137.15px;width:0.9px;height:6.8px;background:#b4b4b4"></div><div style="left:267.75px;top:143.05px;width:20.9px;height:0.9px;background:#b4b4b4"></div><div class="t" style="left:268.2px;top:137.6px;width:20px;height:5.9px;font-size:3.8px;color:#262626;justify-content:center;text-align:center;line-height:1.4;-webkit-text-stroke:0.05px #444;">75%</div><div style="left:303.15px;top:137.15px;width:0.9px;height:6.8px;background:#b4b4b4"></div><div style="left:287.75px;top:143.05px;width:16.3px;height:0.9px;background:#b4b4b4"></div><div class="t" style="left:288.2px;top:137.6px;width:15.4px;height:5.9px;font-size:3.8px;color:#262626;justify-content:center;text-align:center;line-height:1.4;-webkit-text-stroke:0.05px #444;">C</div><div style="left:88.85px;top:143.05px;width:0.9px;height:6.6px;background:#b4b4b4"></div><div style="left:53.75px;top:148.75px;width:36px;height:0.9px;background:#b4b4b4"></div><div class="t" style="left:54.2px;top:143.5px;width:35.1px;height:5.7px;font-size:3.8px;color:#262626;justify-content:center;text-align:center;line-height:1.4;-webkit-text-stroke:0.05px #444;">人员成绩小组 C</div><div style="left:117.05px;top:143.05px;width:0.9px;height:6.6px;background:#b4b4b4"></div><div style="left:88.85px;top:148.75px;width:29.1px;height:0.9px;background:#b4b4b4"></div><div class="t" style="left:89.3px;top:143.5px;width:28.2px;height:5.7px;font-size:3.8px;color:#262626;justify-content:center;text-align:center;line-height:1.4;-webkit-text-stroke:0.05px #444;">200</div><div style="left:143.95px;top:143.05px;width:0.9px;height:6.6px;background:#b4b4b4"></div><div style="left:117.05px;top:148.75px;width:27.8px;height:0.9px;background:#b4b4b4"></div><div class="t" style="left:117.5px;top:143.5px;width:26.9px;height:5.7px;font-size:3.8px;color:#262626;justify-content:center;text-align:center;line-height:1.4;-webkit-text-stroke:0.05px #444;">200</div><div style="left:164.75px;top:143.05px;width:0.9px;height:6.6px;background:#b4b4b4"></div><div style="left:143.95px;top:148.75px;width:21.7px;height:0.9px;background:#b4b4b4"></div><div class="t" style="left:144.4px;top:143.5px;width:20.8px;height:5.7px;font-size:3.8px;color:#262626;justify-content:center;text-align:center;line-height:1.4;-webkit-text-stroke:0.05px #444;">100%</div><div style="left:184.25px;top:143.05px;width:0.9px;height:6.6px;background:#b4b4b4"></div><div style="left:164.75px;top:148.75px;width:20.4px;height:0.9px;background:#b4b4b4"></div><div class="t" style="left:165.2px;top:143.5px;width:19.5px;height:5.7px;font-size:3.8px;color:#262626;justify-content:center;text-align:center;line-height:1.4;-webkit-text-stroke:0.05px #444;">20</div><div style="left:211.25px;top:143.05px;width:0.9px;height:6.6px;background:#b4b4b4"></div><div style="left:184.25px;top:148.75px;width:27.9px;height:0.9px;background:#b4b4b4"></div><div class="t" style="left:184.7px;top:143.5px;width:27px;height:5.7px;font-size:3.8px;color:#262626;justify-content:center;text-align:center;line-height:1.4;-webkit-text-stroke:0.05px #444;">20</div><div style="left:230.05px;top:143.05px;width:0.9px;height:6.6px;background:#b4b4b4"></div><div style="left:211.25px;top:148.75px;width:19.7px;height:0.9px;background:#b4b4b4"></div><div class="t" style="left:211.7px;top:143.5px;width:18.8px;height:5.7px;font-size:3.8px;color:#262626;justify-content:center;text-align:center;line-height:1.4;-webkit-text-stroke:0.05px #444;">100%</div><div style="left:246.25px;top:143.05px;width:0.9px;height:6.6px;background:#b4b4b4"></div><div style="left:230.05px;top:148.75px;width:17.1px;height:0.9px;background:#b4b4b4"></div><div class="t" style="left:230.5px;top:143.5px;width:16.2px;height:5.7px;font-size:3.8px;color:#262626;justify-content:center;text-align:center;line-height:1.4;-webkit-text-stroke:0.05px #444;">20</div><div style="left:267.75px;top:143.05px;width:0.9px;height:6.6px;background:#b4b4b4"></div><div style="left:246.25px;top:148.75px;width:22.4px;height:0.9px;background:#b4b4b4"></div><div class="t" style="left:246.7px;top:143.5px;width:21.5px;height:5.7px;font-size:3.8px;color:#262626;justify-content:center;text-align:center;line-height:1.4;-webkit-text-stroke:0.05px #444;">20</div><div style="left:287.75px;top:143.05px;width:0.9px;height:6.6px;background:#b4b4b4"></div><div style="left:267.75px;top:148.75px;width:20.9px;height:0.9px;background:#b4b4b4"></div><div class="t" style="left:268.2px;top:143.5px;width:20px;height:5.7px;font-size:3.8px;color:#262626;justify-content:center;text-align:center;line-height:1.4;-webkit-text-stroke:0.05px #444;">100%</div><div style="left:303.15px;top:143.05px;width:0.9px;height:6.6px;background:#b4b4b4"></div><div style="left:287.75px;top:148.75px;width:16.3px;height:0.9px;background:#b4b4b4"></div><div class="t" style="left:288.2px;top:143.5px;width:15.4px;height:5.7px;font-size:3.8px;color:#262626;justify-content:center;text-align:center;line-height:1.4;-webkit-text-stroke:0.05px #444;">A</div><div style="left:88.85px;top:148.75px;width:0.9px;height:6.5px;background:#b4b4b4"></div><div style="left:53.75px;top:154.35px;width:36px;height:0.9px;background:#b4b4b4"></div><div class="t" style="left:54.2px;top:149.2px;width:35.1px;height:5.6px;font-size:3.8px;color:#262626;justify-content:center;text-align:center;line-height:1.4;-webkit-text-stroke:0.05px #444;">人员成绩小组 D</div><div style="left:117.05px;top:148.75px;width:0.9px;height:6.5px;background:#b4b4b4"></div><div style="left:88.85px;top:154.35px;width:29.1px;height:0.9px;background:#b4b4b4"></div><div class="t" style="left:89.3px;top:149.2px;width:28.2px;height:5.6px;font-size:3.8px;color:#262626;justify-content:center;text-align:center;line-height:1.4;-webkit-text-stroke:0.05px #444;">80</div><div style="left:143.95px;top:148.75px;width:0.9px;height:6.5px;background:#b4b4b4"></div><div style="left:117.05px;top:154.35px;width:27.8px;height:0.9px;background:#b4b4b4"></div><div class="t" style="left:117.5px;top:149.2px;width:26.9px;height:5.6px;font-size:3.8px;color:#262626;justify-content:center;text-align:center;line-height:1.4;-webkit-text-stroke:0.05px #444;">70</div><div style="left:164.75px;top:148.75px;width:0.9px;height:6.5px;background:#b4b4b4"></div><div style="left:143.95px;top:154.35px;width:21.7px;height:0.9px;background:#b4b4b4"></div><div class="t" style="left:144.4px;top:149.2px;width:20.8px;height:5.6px;font-size:3.8px;color:#262626;justify-content:center;text-align:center;line-height:1.4;-webkit-text-stroke:0.05px #444;">87.5%</div><div style="left:184.25px;top:148.75px;width:0.9px;height:6.5px;background:#b4b4b4"></div><div style="left:164.75px;top:154.35px;width:20.4px;height:0.9px;background:#b4b4b4"></div><div class="t" style="left:165.2px;top:149.2px;width:19.5px;height:5.6px;font-size:3.8px;color:#262626;justify-content:center;text-align:center;line-height:1.4;-webkit-text-stroke:0.05px #444;">8</div><div style="left:211.25px;top:148.75px;width:0.9px;height:6.5px;background:#b4b4b4"></div><div style="left:184.25px;top:154.35px;width:27.9px;height:0.9px;background:#b4b4b4"></div><div class="t" style="left:184.7px;top:149.2px;width:27px;height:5.6px;font-size:3.8px;color:#262626;justify-content:center;text-align:center;line-height:1.4;-webkit-text-stroke:0.05px #444;">70</div><div style="left:230.05px;top:148.75px;width:0.9px;height:6.5px;background:#b4b4b4"></div><div style="left:211.25px;top:154.35px;width:19.7px;height:0.9px;background:#b4b4b4"></div><div class="t" style="left:211.7px;top:149.2px;width:18.8px;height:5.6px;font-size:3.8px;color:#262626;justify-content:center;text-align:center;line-height:1.4;-webkit-text-stroke:0.05px #444;">87.5%</div><div style="left:246.25px;top:148.75px;width:0.9px;height:6.5px;background:#b4b4b4"></div><div style="left:230.05px;top:154.35px;width:17.1px;height:0.9px;background:#b4b4b4"></div><div class="t" style="left:230.5px;top:149.2px;width:16.2px;height:5.6px;font-size:3.8px;color:#262626;justify-content:center;text-align:center;line-height:1.4;-webkit-text-stroke:0.05px #444;">8</div><div style="left:267.75px;top:148.75px;width:0.9px;height:6.5px;background:#b4b4b4"></div><div style="left:246.25px;top:154.35px;width:22.4px;height:0.9px;background:#b4b4b4"></div><div class="t" style="left:246.7px;top:149.2px;width:21.5px;height:5.6px;font-size:3.8px;color:#262626;justify-content:center;text-align:center;line-height:1.4;-webkit-text-stroke:0.05px #444;">70</div><div style="left:287.75px;top:148.75px;width:0.9px;height:6.5px;background:#b4b4b4"></div><div style="left:267.75px;top:154.35px;width:20.9px;height:0.9px;background:#b4b4b4"></div><div class="t" style="left:268.2px;top:149.2px;width:20px;height:5.6px;font-size:3.8px;color:#262626;justify-content:center;text-align:center;line-height:1.4;-webkit-text-stroke:0.05px #444;">87.5%</div><div style="left:303.15px;top:148.75px;width:0.9px;height:6.5px;background:#b4b4b4"></div><div style="left:287.75px;top:154.35px;width:16.3px;height:0.9px;background:#b4b4b4"></div><div class="t" style="left:288.2px;top:149.2px;width:15.4px;height:5.6px;font-size:3.8px;color:#262626;justify-content:center;text-align:center;line-height:1.4;-webkit-text-stroke:0.05px #444;">B</div><div style="left:88.85px;top:154.35px;width:0.9px;height:6.7px;background:#b4b4b4"></div><div style="left:53.75px;top:160.15px;width:36px;height:0.9px;background:#b4b4b4"></div><div class="t" style="left:54.2px;top:154.8px;width:35.1px;height:5.8px;font-size:3.8px;color:#262626;justify-content:center;text-align:center;line-height:1.4;-webkit-text-stroke:0.05px #444;">人员成绩小组 E</div><div style="left:117.05px;top:154.35px;width:0.9px;height:6.7px;background:#b4b4b4"></div><div style="left:88.85px;top:160.15px;width:29.1px;height:0.9px;background:#b4b4b4"></div><div class="t" style="left:89.3px;top:154.8px;width:28.2px;height:5.8px;font-size:3.8px;color:#262626;justify-content:center;text-align:center;line-height:1.4;-webkit-text-stroke:0.05px #444;">1000</div><div style="left:143.95px;top:154.35px;width:0.9px;height:6.7px;background:#b4b4b4"></div><div style="left:117.05px;top:160.15px;width:27.8px;height:0.9px;background:#b4b4b4"></div><div class="t" style="left:117.5px;top:154.8px;width:26.9px;height:5.8px;font-size:3.8px;color:#262626;justify-content:center;text-align:center;line-height:1.4;-webkit-text-stroke:0.05px #444;">800</div><div style="left:164.75px;top:154.35px;width:0.9px;height:6.7px;background:#b4b4b4"></div><div style="left:143.95px;top:160.15px;width:21.7px;height:0.9px;background:#b4b4b4"></div><div class="t" style="left:144.4px;top:154.8px;width:20.8px;height:5.8px;font-size:3.8px;color:#262626;justify-content:center;text-align:center;line-height:1.4;-webkit-text-stroke:0.05px #444;">80%</div><div style="left:184.25px;top:154.35px;width:0.9px;height:6.7px;background:#b4b4b4"></div><div style="left:164.75px;top:160.15px;width:20.4px;height:0.9px;background:#b4b4b4"></div><div class="t" style="left:165.2px;top:154.8px;width:19.5px;height:5.8px;font-size:3.8px;color:#262626;justify-content:center;text-align:center;line-height:1.4;-webkit-text-stroke:0.05px #444;">100</div><div style="left:211.25px;top:154.35px;width:0.9px;height:6.7px;background:#b4b4b4"></div><div style="left:184.25px;top:160.15px;width:27.9px;height:0.9px;background:#b4b4b4"></div><div class="t" style="left:184.7px;top:154.8px;width:27px;height:5.8px;font-size:3.8px;color:#262626;justify-content:center;text-align:center;line-height:1.4;-webkit-text-stroke:0.05px #444;">100</div><div style="left:230.05px;top:154.35px;width:0.9px;height:6.7px;background:#b4b4b4"></div><div style="left:211.25px;top:160.15px;width:19.7px;height:0.9px;background:#b4b4b4"></div><div class="t" style="left:211.7px;top:154.8px;width:18.8px;height:5.8px;font-size:3.8px;color:#262626;justify-content:center;text-align:center;line-height:1.4;-webkit-text-stroke:0.05px #444;">100%</div><div style="left:246.25px;top:154.35px;width:0.9px;height:6.7px;background:#b4b4b4"></div><div style="left:230.05px;top:160.15px;width:17.1px;height:0.9px;background:#b4b4b4"></div><div class="t" style="left:230.5px;top:154.8px;width:16.2px;height:5.8px;font-size:3.8px;color:#262626;justify-content:center;text-align:center;line-height:1.4;-webkit-text-stroke:0.05px #444;">100</div><div style="left:267.75px;top:154.35px;width:0.9px;height:6.7px;background:#b4b4b4"></div><div style="left:246.25px;top:160.15px;width:22.4px;height:0.9px;background:#b4b4b4"></div><div class="t" style="left:246.7px;top:154.8px;width:21.5px;height:5.8px;font-size:3.8px;color:#262626;justify-content:center;text-align:center;line-height:1.4;-webkit-text-stroke:0.05px #444;">100</div><div style="left:287.75px;top:154.35px;width:0.9px;height:6.7px;background:#b4b4b4"></div><div style="left:267.75px;top:160.15px;width:20.9px;height:0.9px;background:#b4b4b4"></div><div class="t" style="left:268.2px;top:154.8px;width:20px;height:5.8px;font-size:3.8px;color:#262626;justify-content:center;text-align:center;line-height:1.4;-webkit-text-stroke:0.05px #444;">100%</div><div style="left:303.15px;top:154.35px;width:0.9px;height:6.7px;background:#b4b4b4"></div><div style="left:287.75px;top:160.15px;width:16.3px;height:0.9px;background:#b4b4b4"></div><div class="t" style="left:288.2px;top:154.8px;width:15.4px;height:5.8px;font-size:3.8px;color:#262626;justify-content:center;text-align:center;line-height:1.4;-webkit-text-stroke:0.05px #444;">B</div><div style="left:88.85px;top:160.15px;width:0.9px;height:7.1px;background:#b4b4b4"></div><div style="left:25.55px;top:166.35px;width:64.2px;height:0.9px;background:#b4b4b4"></div><div class="t" style="left:26px;top:160.6px;width:63.3px;height:6.2px;font-size:3.8px;color:#262626;justify-content:center;text-align:center;line-height:1.4;-webkit-text-stroke:0.05px #444;">合计</div><div style="left:117.05px;top:160.15px;width:0.9px;height:7.1px;background:#b4b4b4"></div><div style="left:88.85px;top:166.35px;width:29.1px;height:0.9px;background:#b4b4b4"></div><div class="t" style="left:89.3px;top:160.6px;width:28.2px;height:6.2px;font-size:3.8px;color:#262626;justify-content:center;text-align:center;line-height:1.4;-webkit-text-stroke:0.05px #444;">2180</div><div style="left:143.95px;top:160.15px;width:0.9px;height:7.1px;background:#b4b4b4"></div><div style="left:117.05px;top:166.35px;width:27.8px;height:0.9px;background:#b4b4b4"></div><div class="t" style="left:117.5px;top:160.6px;width:26.9px;height:6.2px;font-size:3.8px;color:#262626;justify-content:center;text-align:center;line-height:1.4;-webkit-text-stroke:0.05px #444;">1670</div><div style="left:164.75px;top:160.15px;width:0.9px;height:7.1px;background:#b4b4b4"></div><div style="left:143.95px;top:166.35px;width:21.7px;height:0.9px;background:#b4b4b4"></div><div class="t" style="left:144.4px;top:160.6px;width:20.8px;height:6.2px;font-size:3.8px;color:#262626;justify-content:center;text-align:center;line-height:1.4;-webkit-text-stroke:0.05px #444;">76%</div><div style="left:184.25px;top:160.15px;width:0.9px;height:7.1px;background:#b4b4b4"></div><div style="left:164.75px;top:166.35px;width:20.4px;height:0.9px;background:#b4b4b4"></div><div class="t" style="left:165.2px;top:160.6px;width:19.5px;height:6.2px;font-size:3.8px;color:#262626;justify-content:center;text-align:center;line-height:1.4;-webkit-text-stroke:0.05px #444;">218</div><div style="left:211.25px;top:160.15px;width:0.9px;height:7.1px;background:#b4b4b4"></div><div style="left:184.25px;top:166.35px;width:27.9px;height:0.9px;background:#b4b4b4"></div><div class="t" style="left:184.7px;top:160.6px;width:27px;height:6.2px;font-size:3.8px;color:#262626;justify-content:center;text-align:center;line-height:1.4;-webkit-text-stroke:0.05px #444;">167</div><div style="left:230.05px;top:160.15px;width:0.9px;height:7.1px;background:#b4b4b4"></div><div style="left:211.25px;top:166.35px;width:19.7px;height:0.9px;background:#b4b4b4"></div><div class="t" style="left:211.7px;top:160.6px;width:18.8px;height:6.2px;font-size:3.8px;color:#262626;justify-content:center;text-align:center;line-height:1.4;-webkit-text-stroke:0.05px #444;">76%</div><div style="left:246.25px;top:160.15px;width:0.9px;height:7.1px;background:#b4b4b4"></div><div style="left:230.05px;top:166.35px;width:17.1px;height:0.9px;background:#b4b4b4"></div><div class="t" style="left:230.5px;top:160.6px;width:16.2px;height:6.2px;font-size:3.8px;color:#262626;justify-content:center;text-align:center;line-height:1.4;-webkit-text-stroke:0.05px #444;">218</div><div style="left:267.75px;top:160.15px;width:0.9px;height:7.1px;background:#b4b4b4"></div><div style="left:246.25px;top:166.35px;width:22.4px;height:0.9px;background:#b4b4b4"></div><div class="t" style="left:246.7px;top:160.6px;width:21.5px;height:6.2px;font-size:3.8px;color:#262626;justify-content:center;text-align:center;line-height:1.4;-webkit-text-stroke:0.05px #444;">167</div><div style="left:287.75px;top:160.15px;width:0.9px;height:7.1px;background:#b4b4b4"></div><div style="left:267.75px;top:166.35px;width:20.9px;height:0.9px;background:#b4b4b4"></div><div class="t" style="left:268.2px;top:160.6px;width:20px;height:6.2px;font-size:3.8px;color:#262626;justify-content:center;text-align:center;line-height:1.4;-webkit-text-stroke:0.05px #444;">76%</div><div style="left:303.15px;top:160.15px;width:0.9px;height:7.1px;background:#b4b4b4"></div><div style="left:287.75px;top:166.35px;width:16.3px;height:0.9px;background:#b4b4b4"></div><div class="t" style="left:288.2px;top:160.6px;width:15.4px;height:6.2px;font-size:3.8px;color:#262626;justify-content:center;text-align:center;line-height:1.4;-webkit-text-stroke:0.05px #444;">C</div><div style="left:25.55px;top:121.05px;width:0.9px;height:46.2px;background:#b4b4b4"></div><div style="left:25.55px;top:121.05px;width:278.5px;height:0.9px;background:#b4b4b4"></div><div class="fr"></div></div><div class="c" style="left:670px;top:-60.4px;background:#fff"><div style="left:56px;top:100.1px;width:220.6px;height:1px;background:#c8cacd"></div><div style="left:56px;top:90.4px;width:220.6px;height:1px;background:#c8cacd"></div><div style="left:56px;top:80.7px;width:220.6px;height:1px;background:#c8cacd"></div><div style="left:56px;top:71px;width:220.6px;height:1px;background:#c8cacd"></div><div style="left:56px;top:61.3px;width:220.6px;height:1px;background:#c8cacd"></div><div style="left:56px;top:51.6px;width:220.6px;height:1px;background:#c8cacd"></div><div style="left:56px;top:41.9px;width:220.6px;height:1px;background:#c8cacd"></div><div style="left:61.4px;top:76.35px;width:4.5px;height:24.25px;background:#4472c4"></div><div style="left:67.4px;top:86.05px;width:4.5px;height:14.55px;background:#ed7d31"></div><div style="left:73.4px;top:98.17px;width:4.5px;height:2.42px;background:#a5a5a5"></div><div style="left:79.4px;top:99.14px;width:4.5px;height:1.45px;background:#ffc000"></div><div style="left:85.4px;top:98.17px;width:4.5px;height:2.42px;background:#5b9bd5"></div><div style="left:91.4px;top:99.14px;width:4.5px;height:1.45px;background:#70ad47"></div><div class="t" style="left:56px;top:101.8px;width:44.1px;height:6px;font-size:4.3px;color:#404040;justify-content:center;text-align:center;-webkit-text-stroke:0.1px #555;">客户 A</div><div style="left:105.5px;top:81.2px;width:4.5px;height:19.4px;background:#4472c4"></div><div style="left:111.5px;top:86.05px;width:4.5px;height:14.55px;background:#ed7d31"></div><div style="left:117.5px;top:98.66px;width:4.5px;height:1.94px;background:#a5a5a5"></div><div style="left:123.5px;top:99.14px;width:4.5px;height:1.45px;background:#ffc000"></div><div style="left:129.5px;top:98.66px;width:4.5px;height:1.94px;background:#5b9bd5"></div><div style="left:135.5px;top:99.14px;width:4.5px;height:1.45px;background:#70ad47"></div><div class="t" style="left:100.1px;top:101.8px;width:44.1px;height:6px;font-size:4.3px;color:#404040;justify-content:center;text-align:center;-webkit-text-stroke:0.1px #555;">客户 B</div><div style="left:149.6px;top:90.9px;width:4.5px;height:9.7px;background:#4472c4"></div><div style="left:155.6px;top:90.9px;width:4.5px;height:9.7px;background:#ed7d31"></div><div style="left:161.6px;top:99.63px;width:4.5px;height:0.97px;background:#a5a5a5"></div><div style="left:167.6px;top:99.63px;width:4.5px;height:0.97px;background:#ffc000"></div><div style="left:173.6px;top:99.63px;width:4.5px;height:0.97px;background:#5b9bd5"></div><div style="left:179.6px;top:99.63px;width:4.5px;height:0.97px;background:#70ad47"></div><div class="t" style="left:144.2px;top:101.8px;width:44.1px;height:6px;font-size:4.3px;color:#404040;justify-content:center;text-align:center;-webkit-text-stroke:0.1px #555;">客户 C</div><div style="left:193.7px;top:96.72px;width:4.5px;height:3.88px;background:#4472c4"></div><div style="left:199.7px;top:97.2px;width:4.5px;height:3.39px;background:#ed7d31"></div><div style="left:205.7px;top:100.21px;width:4.5px;height:0.39px;background:#a5a5a5"></div><div style="left:211.7px;top:97.2px;width:4.5px;height:3.39px;background:#ffc000"></div><div style="left:217.7px;top:100.21px;width:4.5px;height:0.39px;background:#5b9bd5"></div><div style="left:223.7px;top:97.2px;width:4.5px;height:3.39px;background:#70ad47"></div><div class="t" style="left:188.3px;top:101.8px;width:44.1px;height:6px;font-size:4.3px;color:#404040;justify-content:center;text-align:center;-webkit-text-stroke:0.1px #555;">客户 D</div><div style="left:237.8px;top:52.1px;width:4.5px;height:48.5px;background:#4472c4"></div><div style="left:243.8px;top:61.8px;width:4.5px;height:38.8px;background:#ed7d31"></div><div style="left:249.8px;top:95.75px;width:4.5px;height:4.85px;background:#a5a5a5"></div><div style="left:255.8px;top:95.75px;width:4.5px;height:4.85px;background:#ffc000"></div><div style="left:261.8px;top:95.75px;width:4.5px;height:4.85px;background:#5b9bd5"></div><div style="left:267.8px;top:95.75px;width:4.5px;height:4.85px;background:#70ad47"></div><div class="t" style="left:232.4px;top:101.8px;width:44.1px;height:6px;font-size:4.3px;color:#404040;justify-content:center;text-align:center;-webkit-text-stroke:0.1px #555;">客户 E</div><div style="left:100.2px;top:112.6px;width:2.4px;height:2.4px;background:#4472c4"></div><div class="t" style="left:103.2px;top:110.8px;width:20.1px;height:6px;font-size:4.3px;color:#404040;justify-content:flex-start;text-align:left;-webkit-text-stroke:0.1px #555;">销售目标</div><div style="left:122.7px;top:112.6px;width:2.4px;height:2.4px;background:#ed7d31"></div><div class="t" style="left:125.7px;top:110.8px;width:20.1px;height:6px;font-size:4.3px;color:#404040;justify-content:flex-start;text-align:left;-webkit-text-stroke:0.1px #555;">实际完成</div><div style="left:145.2px;top:112.6px;width:2.4px;height:2.4px;background:#a5a5a5"></div><div class="t" style="left:148.2px;top:110.8px;width:20.1px;height:6px;font-size:4.3px;color:#404040;justify-content:flex-start;text-align:left;-webkit-text-stroke:0.1px #555;">利润目标</div><div style="left:167.7px;top:112.6px;width:2.4px;height:2.4px;background:#ffc000"></div><div class="t" style="left:170.7px;top:110.8px;width:20.1px;height:6px;font-size:4.3px;color:#404040;justify-content:flex-start;text-align:left;-webkit-text-stroke:0.1px #555;">利润完成</div><div style="left:190.2px;top:112.6px;width:2.4px;height:2.4px;background:#5b9bd5"></div><div class="t" style="left:193.2px;top:110.8px;width:20.1px;height:6px;font-size:4.3px;color:#404040;justify-content:flex-start;text-align:left;-webkit-text-stroke:0.1px #555;">投入预算</div><div style="left:212.7px;top:112.6px;width:2.4px;height:2.4px;background:#70ad47"></div><div class="t" style="left:215.7px;top:110.8px;width:20.1px;height:6px;font-size:4.3px;color:#404040;justify-content:flex-start;text-align:left;-webkit-text-stroke:0.1px #555;">实际投入</div><div style="left:43.55px;top:121.05px;width:0.9px;height:11.1px;background:#b4b4b4"></div><div style="left:25.85px;top:131.25px;width:18.6px;height:0.9px;background:#b4b4b4"></div><div class="t" style="left:26.3px;top:121.5px;width:17.7px;height:10.2px;font-size:3.8px;color:#000;font-weight:bold;justify-content:center;text-align:center;line-height:1.4;-webkit-text-stroke:0.1px #000;">模块</div><div style="left:78.05px;top:121.05px;width:0.9px;height:11.1px;background:#b4b4b4"></div><div style="left:43.55px;top:131.25px;width:35.4px;height:0.9px;background:#b4b4b4"></div><div class="t" style="left:44px;top:121.5px;width:34.5px;height:10.2px;font-size:3.8px;color:#000;font-weight:bold;justify-content:center;text-align:center;line-height:1.4;-webkit-text-stroke:0.1px #000;">团队</div><div style="left:107.25px;top:121.05px;width:0.9px;height:11.1px;background:#b4b4b4"></div><div style="left:78.05px;top:131.25px;width:30.1px;height:0.9px;background:#b4b4b4"></div><div class="t" style="left:78.5px;top:121.5px;width:29.2px;height:10.2px;font-size:3.8px;color:#000;font-weight:bold;justify-content:center;text-align:center;line-height:1.4;-webkit-text-stroke:0.1px #000;">销售目标</div><div style="left:137.95px;top:121.05px;width:0.9px;height:11.1px;background:#b4b4b4"></div><div style="left:107.25px;top:131.25px;width:31.6px;height:0.9px;background:#b4b4b4"></div><div class="t" style="left:107.7px;top:121.5px;width:30.7px;height:10.2px;font-size:3.8px;color:#000;font-weight:bold;justify-content:center;text-align:center;line-height:1.4;-webkit-text-stroke:0.1px #000;">实际完成</div><div style="left:164.75px;top:121.05px;width:0.9px;height:11.1px;background:#b4b4b4"></div><div style="left:137.95px;top:131.25px;width:27.7px;height:0.9px;background:#b4b4b4"></div><div class="t" style="left:138.4px;top:121.5px;width:26.8px;height:10.2px;font-size:3.8px;color:#000;font-weight:bold;justify-content:center;text-align:center;line-height:1.4;-webkit-text-stroke:0.1px #000;">完成率</div><div style="left:187.35px;top:121.05px;width:0.9px;height:11.1px;background:#b4b4b4"></div><div style="left:164.75px;top:131.25px;width:23.5px;height:0.9px;background:#b4b4b4"></div><div class="t" style="left:165.2px;top:121.5px;width:22.6px;height:10.2px;font-size:3.8px;color:#000;font-weight:bold;justify-content:center;text-align:center;line-height:1.4;-webkit-text-stroke:0.1px #000;">利润目标</div><div style="left:214.05px;top:121.05px;width:0.9px;height:11.1px;background:#b4b4b4"></div><div style="left:187.35px;top:131.25px;width:27.6px;height:0.9px;background:#b4b4b4"></div><div class="t" style="left:187.8px;top:121.5px;width:26.7px;height:10.2px;font-size:3.8px;color:#000;font-weight:bold;justify-content:center;text-align:center;line-height:1.4;-webkit-text-stroke:0.1px #000;">利润实际完成</div><div style="left:230.95px;top:121.05px;width:0.9px;height:11.1px;background:#b4b4b4"></div><div style="left:214.05px;top:131.25px;width:17.8px;height:0.9px;background:#b4b4b4"></div><div class="t" style="left:214.5px;top:121.5px;width:16.9px;height:10.2px;font-size:3.8px;color:#000;font-weight:bold;justify-content:center;text-align:center;line-height:1.4;-webkit-text-stroke:0.1px #000;">达成率</div><div style="left:246.25px;top:121.05px;width:0.9px;height:11.1px;background:#b4b4b4"></div><div style="left:230.95px;top:131.25px;width:16.2px;height:0.9px;background:#b4b4b4"></div><div class="t" style="left:231.4px;top:121.5px;width:15.3px;height:10.2px;font-size:3.8px;color:#000;font-weight:bold;justify-content:center;text-align:center;line-height:1.4;-webkit-text-stroke:0.1px #000;">投入预算</div><div style="left:265.25px;top:121.05px;width:0.9px;height:11.1px;background:#b4b4b4"></div><div style="left:246.25px;top:131.25px;width:19.9px;height:0.9px;background:#b4b4b4"></div><div class="t" style="left:246.7px;top:121.5px;width:19px;height:10.2px;font-size:3.8px;color:#000;font-weight:bold;justify-content:center;text-align:center;line-height:1.4;-webkit-text-stroke:0.1px #000;">实际投入</div><div style="left:285.25px;top:121.05px;width:0.9px;height:11.1px;background:#b4b4b4"></div><div style="left:265.25px;top:131.25px;width:20.9px;height:0.9px;background:#b4b4b4"></div><div class="t" style="left:265.7px;top:121.5px;width:20px;height:10.2px;font-size:3.8px;color:#000;font-weight:bold;justify-content:center;text-align:center;line-height:1.4;-webkit-text-stroke:0.1px #000;">投入产出比</div><div style="left:300.25px;top:121.05px;width:0.9px;height:11.1px;background:#b4b4b4"></div><div style="left:285.25px;top:131.25px;width:15.9px;height:0.9px;background:#b4b4b4"></div><div class="t" style="left:285.7px;top:121.5px;width:15px;height:10.2px;font-size:3.8px;color:#000;font-weight:bold;justify-content:center;text-align:center;line-height:1.4;-webkit-text-stroke:0.1px #000;">整体贡献</div><div style="left:43.55px;top:131.25px;width:0.9px;height:29.8px;background:#b4b4b4"></div><div style="left:25.85px;top:160.15px;width:18.6px;height:0.9px;background:#b4b4b4"></div><div class="t" style="left:26.3px;top:131.7px;width:17.7px;height:28.9px;font-size:3.8px;color:#262626;justify-content:center;text-align:center;line-height:1.4;-webkit-text-stroke:0.05px #444;">客户<br>完成<br>情况</div><div style="left:78.05px;top:131.25px;width:0.9px;height:6.8px;background:#b4b4b4"></div><div style="left:43.55px;top:137.15px;width:35.4px;height:0.9px;background:#b4b4b4"></div><div class="t" style="left:44px;top:131.7px;width:34.5px;height:5.9px;font-size:3.8px;color:#262626;justify-content:center;text-align:center;line-height:1.4;-webkit-text-stroke:0.05px #444;">重点客户 A</div><div style="left:107.25px;top:131.25px;width:0.9px;height:6.8px;background:#b4b4b4"></div><div style="left:78.05px;top:137.15px;width:30.1px;height:0.9px;background:#b4b4b4"></div><div class="t" style="left:78.5px;top:131.7px;width:29.2px;height:5.9px;font-size:3.8px;color:#262626;justify-content:center;text-align:center;line-height:1.4;-webkit-text-stroke:0.05px #444;">500</div><div style="left:137.95px;top:131.25px;width:0.9px;height:6.8px;background:#b4b4b4"></div><div style="left:107.25px;top:137.15px;width:31.6px;height:0.9px;background:#b4b4b4"></div><div class="t" style="left:107.7px;top:131.7px;width:30.7px;height:5.9px;font-size:3.8px;color:#262626;justify-content:center;text-align:center;line-height:1.4;-webkit-text-stroke:0.05px #444;">300</div><div style="left:164.75px;top:131.25px;width:0.9px;height:6.8px;background:#b4b4b4"></div><div style="left:137.95px;top:137.15px;width:27.7px;height:0.9px;background:#b4b4b4"></div><div class="t" style="left:138.4px;top:131.7px;width:26.8px;height:5.9px;font-size:3.8px;color:#262626;justify-content:center;text-align:center;line-height:1.4;-webkit-text-stroke:0.05px #444;">60%</div><div style="left:187.35px;top:131.25px;width:0.9px;height:6.8px;background:#b4b4b4"></div><div style="left:164.75px;top:137.15px;width:23.5px;height:0.9px;background:#b4b4b4"></div><div class="t" style="left:165.2px;top:131.7px;width:22.6px;height:5.9px;font-size:3.8px;color:#262626;justify-content:center;text-align:center;line-height:1.4;-webkit-text-stroke:0.05px #444;">50</div><div style="left:214.05px;top:131.25px;width:0.9px;height:6.8px;background:#b4b4b4"></div><div style="left:187.35px;top:137.15px;width:27.6px;height:0.9px;background:#b4b4b4"></div><div class="t" style="left:187.8px;top:131.7px;width:26.7px;height:5.9px;font-size:3.8px;color:#262626;justify-content:center;text-align:center;line-height:1.4;-webkit-text-stroke:0.05px #444;">30</div><div style="left:230.95px;top:131.25px;width:0.9px;height:6.8px;background:#b4b4b4"></div><div style="left:214.05px;top:137.15px;width:17.8px;height:0.9px;background:#b4b4b4"></div><div class="t" style="left:214.5px;top:131.7px;width:16.9px;height:5.9px;font-size:3.8px;color:#262626;justify-content:center;text-align:center;line-height:1.4;-webkit-text-stroke:0.05px #444;">60%</div><div style="left:246.25px;top:131.25px;width:0.9px;height:6.8px;background:#b4b4b4"></div><div style="left:230.95px;top:137.15px;width:16.2px;height:0.9px;background:#b4b4b4"></div><div class="t" style="left:231.4px;top:131.7px;width:15.3px;height:5.9px;font-size:3.8px;color:#262626;justify-content:center;text-align:center;line-height:1.4;-webkit-text-stroke:0.05px #444;">50</div><div style="left:265.25px;top:131.25px;width:0.9px;height:6.8px;background:#b4b4b4"></div><div style="left:246.25px;top:137.15px;width:19.9px;height:0.9px;background:#b4b4b4"></div><div class="t" style="left:246.7px;top:131.7px;width:19px;height:5.9px;font-size:3.8px;color:#262626;justify-content:center;text-align:center;line-height:1.4;-webkit-text-stroke:0.05px #444;">30</div><div style="left:285.25px;top:131.25px;width:0.9px;height:6.8px;background:#b4b4b4"></div><div style="left:265.25px;top:137.15px;width:20.9px;height:0.9px;background:#b4b4b4"></div><div class="t" style="left:265.7px;top:131.7px;width:20px;height:5.9px;font-size:3.8px;color:#262626;justify-content:center;text-align:center;line-height:1.4;-webkit-text-stroke:0.05px #444;">60%</div><div style="left:300.25px;top:131.25px;width:0.9px;height:6.8px;background:#b4b4b4"></div><div style="left:285.25px;top:137.15px;width:15.9px;height:0.9px;background:#b4b4b4"></div><div class="t" style="left:285.7px;top:131.7px;width:15px;height:5.9px;font-size:3.8px;color:#262626;justify-content:center;text-align:center;line-height:1.4;-webkit-text-stroke:0.05px #444;">D</div><div style="left:78.05px;top:137.15px;width:0.9px;height:6.8px;background:#b4b4b4"></div><div style="left:43.55px;top:143.05px;width:35.4px;height:0.9px;background:#b4b4b4"></div><div class="t" style="left:44px;top:137.6px;width:34.5px;height:5.9px;font-size:3.8px;color:#262626;justify-content:center;text-align:center;line-height:1.4;-webkit-text-stroke:0.05px #444;">重点客户 B</div><div style="left:107.25px;top:137.15px;width:0.9px;height:6.8px;background:#b4b4b4"></div><div style="left:78.05px;top:143.05px;width:30.1px;height:0.9px;background:#b4b4b4"></div><div class="t" style="left:78.5px;top:137.6px;width:29.2px;height:5.9px;font-size:3.8px;color:#262626;justify-content:center;text-align:center;line-height:1.4;-webkit-text-stroke:0.05px #444;">400</div><div style="left:137.95px;top:137.15px;width:0.9px;height:6.8px;background:#b4b4b4"></div><div style="left:107.25px;top:143.05px;width:31.6px;height:0.9px;background:#b4b4b4"></div><div class="t" style="left:107.7px;top:137.6px;width:30.7px;height:5.9px;font-size:3.8px;color:#262626;justify-content:center;text-align:center;line-height:1.4;-webkit-text-stroke:0.05px #444;">300</div><div style="left:164.75px;top:137.15px;width:0.9px;height:6.8px;background:#b4b4b4"></div><div style="left:137.95px;top:143.05px;width:27.7px;height:0.9px;background:#b4b4b4"></div><div class="t" style="left:138.4px;top:137.6px;width:26.8px;height:5.9px;font-size:3.8px;color:#262626;justify-content:center;text-align:center;line-height:1.4;-webkit-text-stroke:0.05px #444;">75%</div><div style="left:187.35px;top:137.15px;width:0.9px;height:6.8px;background:#b4b4b4"></div><div style="left:164.75px;top:143.05px;width:23.5px;height:0.9px;background:#b4b4b4"></div><div class="t" style="left:165.2px;top:137.6px;width:22.6px;height:5.9px;font-size:3.8px;color:#262626;justify-content:center;text-align:center;line-height:1.4;-webkit-text-stroke:0.05px #444;">40</div><div style="left:214.05px;top:137.15px;width:0.9px;height:6.8px;background:#b4b4b4"></div><div style="left:187.35px;top:143.05px;width:27.6px;height:0.9px;background:#b4b4b4"></div><div class="t" style="left:187.8px;top:137.6px;width:26.7px;height:5.9px;font-size:3.8px;color:#262626;justify-content:center;text-align:center;line-height:1.4;-webkit-text-stroke:0.05px #444;">30</div><div style="left:230.95px;top:137.15px;width:0.9px;height:6.8px;background:#b4b4b4"></div><div style="left:214.05px;top:143.05px;width:17.8px;height:0.9px;background:#b4b4b4"></div><div class="t" style="left:214.5px;top:137.6px;width:16.9px;height:5.9px;font-size:3.8px;color:#262626;justify-content:center;text-align:center;line-height:1.4;-webkit-text-stroke:0.05px #444;">75%</div><div style="left:246.25px;top:137.15px;width:0.9px;height:6.8px;background:#b4b4b4"></div><div style="left:230.95px;top:143.05px;width:16.2px;height:0.9px;background:#b4b4b4"></div><div class="t" style="left:231.4px;top:137.6px;width:15.3px;height:5.9px;font-size:3.8px;color:#262626;justify-content:center;text-align:center;line-height:1.4;-webkit-text-stroke:0.05px #444;">40</div><div style="left:265.25px;top:137.15px;width:0.9px;height:6.8px;background:#b4b4b4"></div><div style="left:246.25px;top:143.05px;width:19.9px;height:0.9px;background:#b4b4b4"></div><div class="t" style="left:246.7px;top:137.6px;width:19px;height:5.9px;font-size:3.8px;color:#262626;justify-content:center;text-align:center;line-height:1.4;-webkit-text-stroke:0.05px #444;">30</div><div style="left:285.25px;top:137.15px;width:0.9px;height:6.8px;background:#b4b4b4"></div><div style="left:265.25px;top:143.05px;width:20.9px;height:0.9px;background:#b4b4b4"></div><div class="t" style="left:265.7px;top:137.6px;width:20px;height:5.9px;font-size:3.8px;color:#262626;justify-content:center;text-align:center;line-height:1.4;-webkit-text-stroke:0.05px #444;">75%</div><div style="left:300.25px;top:137.15px;width:0.9px;height:6.8px;background:#b4b4b4"></div><div style="left:285.25px;top:143.05px;width:15.9px;height:0.9px;background:#b4b4b4"></div><div class="t" style="left:285.7px;top:137.6px;width:15px;height:5.9px;font-size:3.8px;color:#262626;justify-content:center;text-align:center;line-height:1.4;-webkit-text-stroke:0.05px #444;">C</div><div style="left:78.05px;top:143.05px;width:0.9px;height:6.6px;background:#b4b4b4"></div><div style="left:43.55px;top:148.75px;width:35.4px;height:0.9px;background:#b4b4b4"></div><div class="t" style="left:44px;top:143.5px;width:34.5px;height:5.7px;font-size:3.8px;color:#262626;justify-content:center;text-align:center;line-height:1.4;-webkit-text-stroke:0.05px #444;">重点客户 C</div><div style="left:107.25px;top:143.05px;width:0.9px;height:6.6px;background:#b4b4b4"></div><div style="left:78.05px;top:148.75px;width:30.1px;height:0.9px;background:#b4b4b4"></div><div class="t" style="left:78.5px;top:143.5px;width:29.2px;height:5.7px;font-size:3.8px;color:#262626;justify-content:center;text-align:center;line-height:1.4;-webkit-text-stroke:0.05px #444;">200</div><div style="left:137.95px;top:143.05px;width:0.9px;height:6.6px;background:#b4b4b4"></div><div style="left:107.25px;top:148.75px;width:31.6px;height:0.9px;background:#b4b4b4"></div><div class="t" style="left:107.7px;top:143.5px;width:30.7px;height:5.7px;font-size:3.8px;color:#262626;justify-content:center;text-align:center;line-height:1.4;-webkit-text-stroke:0.05px #444;">200</div><div style="left:164.75px;top:143.05px;width:0.9px;height:6.6px;background:#b4b4b4"></div><div style="left:137.95px;top:148.75px;width:27.7px;height:0.9px;background:#b4b4b4"></div><div class="t" style="left:138.4px;top:143.5px;width:26.8px;height:5.7px;font-size:3.8px;color:#262626;justify-content:center;text-align:center;line-height:1.4;-webkit-text-stroke:0.05px #444;">100%</div><div style="left:187.35px;top:143.05px;width:0.9px;height:6.6px;background:#b4b4b4"></div><div style="left:164.75px;top:148.75px;width:23.5px;height:0.9px;background:#b4b4b4"></div><div class="t" style="left:165.2px;top:143.5px;width:22.6px;height:5.7px;font-size:3.8px;color:#262626;justify-content:center;text-align:center;line-height:1.4;-webkit-text-stroke:0.05px #444;">20</div><div style="left:214.05px;top:143.05px;width:0.9px;height:6.6px;background:#b4b4b4"></div><div style="left:187.35px;top:148.75px;width:27.6px;height:0.9px;background:#b4b4b4"></div><div class="t" style="left:187.8px;top:143.5px;width:26.7px;height:5.7px;font-size:3.8px;color:#262626;justify-content:center;text-align:center;line-height:1.4;-webkit-text-stroke:0.05px #444;">20</div><div style="left:230.95px;top:143.05px;width:0.9px;height:6.6px;background:#b4b4b4"></div><div style="left:214.05px;top:148.75px;width:17.8px;height:0.9px;background:#b4b4b4"></div><div class="t" style="left:214.5px;top:143.5px;width:16.9px;height:5.7px;font-size:3.8px;color:#262626;justify-content:center;text-align:center;line-height:1.4;-webkit-text-stroke:0.05px #444;">100%</div><div style="left:246.25px;top:143.05px;width:0.9px;height:6.6px;background:#b4b4b4"></div><div style="left:230.95px;top:148.75px;width:16.2px;height:0.9px;background:#b4b4b4"></div><div class="t" style="left:231.4px;top:143.5px;width:15.3px;height:5.7px;font-size:3.8px;color:#262626;justify-content:center;text-align:center;line-height:1.4;-webkit-text-stroke:0.05px #444;">20</div><div style="left:265.25px;top:143.05px;width:0.9px;height:6.6px;background:#b4b4b4"></div><div style="left:246.25px;top:148.75px;width:19.9px;height:0.9px;background:#b4b4b4"></div><div class="t" style="left:246.7px;top:143.5px;width:19px;height:5.7px;font-size:3.8px;color:#262626;justify-content:center;text-align:center;line-height:1.4;-webkit-text-stroke:0.05px #444;">20</div><div style="left:285.25px;top:143.05px;width:0.9px;height:6.6px;background:#b4b4b4"></div><div style="left:265.25px;top:148.75px;width:20.9px;height:0.9px;background:#b4b4b4"></div><div class="t" style="left:265.7px;top:143.5px;width:20px;height:5.7px;font-size:3.8px;color:#262626;justify-content:center;text-align:center;line-height:1.4;-webkit-text-stroke:0.05px #444;">100%</div><div style="left:300.25px;top:143.05px;width:0.9px;height:6.6px;background:#b4b4b4"></div><div style="left:285.25px;top:148.75px;width:15.9px;height:0.9px;background:#b4b4b4"></div><div class="t" style="left:285.7px;top:143.5px;width:15px;height:5.7px;font-size:3.8px;color:#262626;justify-content:center;text-align:center;line-height:1.4;-webkit-text-stroke:0.05px #444;">A</div><div style="left:78.05px;top:148.75px;width:0.9px;height:6.5px;background:#b4b4b4"></div><div style="left:43.55px;top:154.35px;width:35.4px;height:0.9px;background:#b4b4b4"></div><div class="t" style="left:44px;top:149.2px;width:34.5px;height:5.6px;font-size:3.8px;color:#262626;justify-content:center;text-align:center;line-height:1.4;-webkit-text-stroke:0.05px #444;">重点客户 D</div><div style="left:107.25px;top:148.75px;width:0.9px;height:6.5px;background:#b4b4b4"></div><div style="left:78.05px;top:154.35px;width:30.1px;height:0.9px;background:#b4b4b4"></div><div class="t" style="left:78.5px;top:149.2px;width:29.2px;height:5.6px;font-size:3.8px;color:#262626;justify-content:center;text-align:center;line-height:1.4;-webkit-text-stroke:0.05px #444;">80</div><div style="left:137.95px;top:148.75px;width:0.9px;height:6.5px;background:#b4b4b4"></div><div style="left:107.25px;top:154.35px;width:31.6px;height:0.9px;background:#b4b4b4"></div><div class="t" style="left:107.7px;top:149.2px;width:30.7px;height:5.6px;font-size:3.8px;color:#262626;justify-content:center;text-align:center;line-height:1.4;-webkit-text-stroke:0.05px #444;">70</div><div style="left:164.75px;top:148.75px;width:0.9px;height:6.5px;background:#b4b4b4"></div><div style="left:137.95px;top:154.35px;width:27.7px;height:0.9px;background:#b4b4b4"></div><div class="t" style="left:138.4px;top:149.2px;width:26.8px;height:5.6px;font-size:3.8px;color:#262626;justify-content:center;text-align:center;line-height:1.4;-webkit-text-stroke:0.05px #444;">87.5%</div><div style="left:187.35px;top:148.75px;width:0.9px;height:6.5px;background:#b4b4b4"></div><div style="left:164.75px;top:154.35px;width:23.5px;height:0.9px;background:#b4b4b4"></div><div class="t" style="left:165.2px;top:149.2px;width:22.6px;height:5.6px;font-size:3.8px;color:#262626;justify-content:center;text-align:center;line-height:1.4;-webkit-text-stroke:0.05px #444;">8</div><div style="left:214.05px;top:148.75px;width:0.9px;height:6.5px;background:#b4b4b4"></div><div style="left:187.35px;top:154.35px;width:27.6px;height:0.9px;background:#b4b4b4"></div><div class="t" style="left:187.8px;top:149.2px;width:26.7px;height:5.6px;font-size:3.8px;color:#262626;justify-content:center;text-align:center;line-height:1.4;-webkit-text-stroke:0.05px #444;">70</div><div style="left:230.95px;top:148.75px;width:0.9px;height:6.5px;background:#b4b4b4"></div><div style="left:214.05px;top:154.35px;width:17.8px;height:0.9px;background:#b4b4b4"></div><div class="t" style="left:214.5px;top:149.2px;width:16.9px;height:5.6px;font-size:3.8px;color:#262626;justify-content:center;text-align:center;line-height:1.4;-webkit-text-stroke:0.05px #444;">87.5%</div><div style="left:246.25px;top:148.75px;width:0.9px;height:6.5px;background:#b4b4b4"></div><div style="left:230.95px;top:154.35px;width:16.2px;height:0.9px;background:#b4b4b4"></div><div class="t" style="left:231.4px;top:149.2px;width:15.3px;height:5.6px;font-size:3.8px;color:#262626;justify-content:center;text-align:center;line-height:1.4;-webkit-text-stroke:0.05px #444;">8</div><div style="left:265.25px;top:148.75px;width:0.9px;height:6.5px;background:#b4b4b4"></div><div style="left:246.25px;top:154.35px;width:19.9px;height:0.9px;background:#b4b4b4"></div><div class="t" style="left:246.7px;top:149.2px;width:19px;height:5.6px;font-size:3.8px;color:#262626;justify-content:center;text-align:center;line-height:1.4;-webkit-text-stroke:0.05px #444;">70</div><div style="left:285.25px;top:148.75px;width:0.9px;height:6.5px;background:#b4b4b4"></div><div style="left:265.25px;top:154.35px;width:20.9px;height:0.9px;background:#b4b4b4"></div><div class="t" style="left:265.7px;top:149.2px;width:20px;height:5.6px;font-size:3.8px;color:#262626;justify-content:center;text-align:center;line-height:1.4;-webkit-text-stroke:0.05px #444;">87.5%</div><div style="left:300.25px;top:148.75px;width:0.9px;height:6.5px;background:#b4b4b4"></div><div style="left:285.25px;top:154.35px;width:15.9px;height:0.9px;background:#b4b4b4"></div><div class="t" style="left:285.7px;top:149.2px;width:15px;height:5.6px;font-size:3.8px;color:#262626;justify-content:center;text-align:center;line-height:1.4;-webkit-text-stroke:0.05px #444;">B</div><div style="left:78.05px;top:154.35px;width:0.9px;height:6.7px;background:#b4b4b4"></div><div style="left:43.55px;top:160.15px;width:35.4px;height:0.9px;background:#b4b4b4"></div><div class="t" style="left:44px;top:154.8px;width:34.5px;height:5.8px;font-size:3.8px;color:#262626;justify-content:center;text-align:center;line-height:1.4;-webkit-text-stroke:0.05px #444;">重点客户 E</div><div style="left:107.25px;top:154.35px;width:0.9px;height:6.7px;background:#b4b4b4"></div><div style="left:78.05px;top:160.15px;width:30.1px;height:0.9px;background:#b4b4b4"></div><div class="t" style="left:78.5px;top:154.8px;width:29.2px;height:5.8px;font-size:3.8px;color:#262626;justify-content:center;text-align:center;line-height:1.4;-webkit-text-stroke:0.05px #444;">1000</div><div style="left:137.95px;top:154.35px;width:0.9px;height:6.7px;background:#b4b4b4"></div><div style="left:107.25px;top:160.15px;width:31.6px;height:0.9px;background:#b4b4b4"></div><div class="t" style="left:107.7px;top:154.8px;width:30.7px;height:5.8px;font-size:3.8px;color:#262626;justify-content:center;text-align:center;line-height:1.4;-webkit-text-stroke:0.05px #444;">800</div><div style="left:164.75px;top:154.35px;width:0.9px;height:6.7px;background:#b4b4b4"></div><div style="left:137.95px;top:160.15px;width:27.7px;height:0.9px;background:#b4b4b4"></div><div class="t" style="left:138.4px;top:154.8px;width:26.8px;height:5.8px;font-size:3.8px;color:#262626;justify-content:center;text-align:center;line-height:1.4;-webkit-text-stroke:0.05px #444;">80%</div><div style="left:187.35px;top:154.35px;width:0.9px;height:6.7px;background:#b4b4b4"></div><div style="left:164.75px;top:160.15px;width:23.5px;height:0.9px;background:#b4b4b4"></div><div class="t" style="left:165.2px;top:154.8px;width:22.6px;height:5.8px;font-size:3.8px;color:#262626;justify-content:center;text-align:center;line-height:1.4;-webkit-text-stroke:0.05px #444;">100</div><div style="left:214.05px;top:154.35px;width:0.9px;height:6.7px;background:#b4b4b4"></div><div style="left:187.35px;top:160.15px;width:27.6px;height:0.9px;background:#b4b4b4"></div><div class="t" style="left:187.8px;top:154.8px;width:26.7px;height:5.8px;font-size:3.8px;color:#262626;justify-content:center;text-align:center;line-height:1.4;-webkit-text-stroke:0.05px #444;">100</div><div style="left:230.95px;top:154.35px;width:0.9px;height:6.7px;background:#b4b4b4"></div><div style="left:214.05px;top:160.15px;width:17.8px;height:0.9px;background:#b4b4b4"></div><div class="t" style="left:214.5px;top:154.8px;width:16.9px;height:5.8px;font-size:3.8px;color:#262626;justify-content:center;text-align:center;line-height:1.4;-webkit-text-stroke:0.05px #444;">100%</div><div style="left:246.25px;top:154.35px;width:0.9px;height:6.7px;background:#b4b4b4"></div><div style="left:230.95px;top:160.15px;width:16.2px;height:0.9px;background:#b4b4b4"></div><div class="t" style="left:231.4px;top:154.8px;width:15.3px;height:5.8px;font-size:3.8px;color:#262626;justify-content:center;text-align:center;line-height:1.4;-webkit-text-stroke:0.05px #444;">100</div><div style="left:265.25px;top:154.35px;width:0.9px;height:6.7px;background:#b4b4b4"></div><div style="left:246.25px;top:160.15px;width:19.9px;height:0.9px;background:#b4b4b4"></div><div class="t" style="left:246.7px;top:154.8px;width:19px;height:5.8px;font-size:3.8px;color:#262626;justify-content:center;text-align:center;line-height:1.4;-webkit-text-stroke:0.05px #444;">100</div><div style="left:285.25px;top:154.35px;width:0.9px;height:6.7px;background:#b4b4b4"></div><div style="left:265.25px;top:160.15px;width:20.9px;height:0.9px;background:#b4b4b4"></div><div class="t" style="left:265.7px;top:154.8px;width:20px;height:5.8px;font-size:3.8px;color:#262626;justify-content:center;text-align:center;line-height:1.4;-webkit-text-stroke:0.05px #444;">100%</div><div style="left:300.25px;top:154.35px;width:0.9px;height:6.7px;background:#b4b4b4"></div><div style="left:285.25px;top:160.15px;width:15.9px;height:0.9px;background:#b4b4b4"></div><div class="t" style="left:285.7px;top:154.8px;width:15px;height:5.8px;font-size:3.8px;color:#262626;justify-content:center;text-align:center;line-height:1.4;-webkit-text-stroke:0.05px #444;">B</div><div style="left:78.05px;top:160.15px;width:0.9px;height:7.1px;background:#b4b4b4"></div><div style="left:25.85px;top:166.35px;width:53.1px;height:0.9px;background:#b4b4b4"></div><div class="t" style="left:26.3px;top:160.6px;width:52.2px;height:6.2px;font-size:3.8px;color:#262626;justify-content:center;text-align:center;line-height:1.4;-webkit-text-stroke:0.05px #444;">合计</div><div style="left:107.25px;top:160.15px;width:0.9px;height:7.1px;background:#b4b4b4"></div><div style="left:78.05px;top:166.35px;width:30.1px;height:0.9px;background:#b4b4b4"></div><div class="t" style="left:78.5px;top:160.6px;width:29.2px;height:6.2px;font-size:3.8px;color:#262626;justify-content:center;text-align:center;line-height:1.4;-webkit-text-stroke:0.05px #444;">2180</div><div style="left:137.95px;top:160.15px;width:0.9px;height:7.1px;background:#b4b4b4"></div><div style="left:107.25px;top:166.35px;width:31.6px;height:0.9px;background:#b4b4b4"></div><div class="t" style="left:107.7px;top:160.6px;width:30.7px;height:6.2px;font-size:3.8px;color:#262626;justify-content:center;text-align:center;line-height:1.4;-webkit-text-stroke:0.05px #444;">1670</div><div style="left:164.75px;top:160.15px;width:0.9px;height:7.1px;background:#b4b4b4"></div><div style="left:137.95px;top:166.35px;width:27.7px;height:0.9px;background:#b4b4b4"></div><div class="t" style="left:138.4px;top:160.6px;width:26.8px;height:6.2px;font-size:3.8px;color:#262626;justify-content:center;text-align:center;line-height:1.4;-webkit-text-stroke:0.05px #444;">76%</div><div style="left:187.35px;top:160.15px;width:0.9px;height:7.1px;background:#b4b4b4"></div><div style="left:164.75px;top:166.35px;width:23.5px;height:0.9px;background:#b4b4b4"></div><div class="t" style="left:165.2px;top:160.6px;width:22.6px;height:6.2px;font-size:3.8px;color:#262626;justify-content:center;text-align:center;line-height:1.4;-webkit-text-stroke:0.05px #444;">218</div><div style="left:214.05px;top:160.15px;width:0.9px;height:7.1px;background:#b4b4b4"></div><div style="left:187.35px;top:166.35px;width:27.6px;height:0.9px;background:#b4b4b4"></div><div class="t" style="left:187.8px;top:160.6px;width:26.7px;height:6.2px;font-size:3.8px;color:#262626;justify-content:center;text-align:center;line-height:1.4;-webkit-text-stroke:0.05px #444;">167</div><div style="left:230.95px;top:160.15px;width:0.9px;height:7.1px;background:#b4b4b4"></div><div style="left:214.05px;top:166.35px;width:17.8px;height:0.9px;background:#b4b4b4"></div><div class="t" style="left:214.5px;top:160.6px;width:16.9px;height:6.2px;font-size:3.8px;color:#262626;justify-content:center;text-align:center;line-height:1.4;-webkit-text-stroke:0.05px #444;">76%</div><div style="left:246.25px;top:160.15px;width:0.9px;height:7.1px;background:#b4b4b4"></div><div style="left:230.95px;top:166.35px;width:16.2px;height:0.9px;background:#b4b4b4"></div><div class="t" style="left:231.4px;top:160.6px;width:15.3px;height:6.2px;font-size:3.8px;color:#262626;justify-content:center;text-align:center;line-height:1.4;-webkit-text-stroke:0.05px #444;">218</div><div style="left:265.25px;top:160.15px;width:0.9px;height:7.1px;background:#b4b4b4"></div><div style="left:246.25px;top:166.35px;width:19.9px;height:0.9px;background:#b4b4b4"></div><div class="t" style="left:246.7px;top:160.6px;width:19px;height:6.2px;font-size:3.8px;color:#262626;justify-content:center;text-align:center;line-height:1.4;-webkit-text-stroke:0.05px #444;">167</div><div style="left:285.25px;top:160.15px;width:0.9px;height:7.1px;background:#b4b4b4"></div><div style="left:265.25px;top:166.35px;width:20.9px;height:0.9px;background:#b4b4b4"></div><div class="t" style="left:265.7px;top:160.6px;width:20px;height:6.2px;font-size:3.8px;color:#262626;justify-content:center;text-align:center;line-height:1.4;-webkit-text-stroke:0.05px #444;">76%</div><div style="left:300.25px;top:160.15px;width:0.9px;height:7.1px;background:#b4b4b4"></div><div style="left:285.25px;top:166.35px;width:15.9px;height:0.9px;background:#b4b4b4"></div><div class="t" style="left:285.7px;top:160.6px;width:15px;height:6.2px;font-size:3.8px;color:#262626;justify-content:center;text-align:center;line-height:1.4;-webkit-text-stroke:0.05px #444;">C</div><div style="left:25.85px;top:121.05px;width:0.9px;height:46.2px;background:#b4b4b4"></div><div style="left:25.85px;top:121.05px;width:275.3px;height:0.9px;background:#b4b4b4"></div><div class="fr"></div></div><div class="c" style="left:0px;top:130.6px;background:#fff"><div style="left:77px;top:25.5px;width:176px;height:15.4px;border-radius:7.7px;background:linear-gradient(90deg,#0f214d 0%,#172d5f 50%,#1e3870 100%);box-shadow:inset 0 0 0.7px 0.5px rgba(8,16,40,.8);"></div><div class="t" style="left:77px;top:25.5px;width:176px;height:15.4px;font-size:6.95px;color:#fff;font-weight:bold;justify-content:center;text-align:center;">6 、 2021 年重点产品销售目标完成情况</div><div style="left:56px;top:102.2px;width:220.6px;height:1px;background:#c8cacd"></div><div style="left:56px;top:92.2px;width:220.6px;height:1px;background:#c8cacd"></div><div style="left:56px;top:82.2px;width:220.6px;height:1px;background:#c8cacd"></div><div style="left:56px;top:72.2px;width:220.6px;height:1px;background:#c8cacd"></div><div style="left:56px;top:62.2px;width:220.6px;height:1px;background:#c8cacd"></div><div style="left:56px;top:52.2px;width:220.6px;height:1px;background:#c8cacd"></div><div style="left:56px;top:42.2px;width:220.6px;height:1px;background:#c8cacd"></div><div style="left:61.2px;top:77.7px;width:4.35px;height:25px;background:#4472c4"></div><div style="left:67.05px;top:87.7px;width:4.35px;height:15px;background:#ed7d31"></div><div style="left:72.9px;top:100.2px;width:4.35px;height:2.5px;background:#a5a5a5"></div><div style="left:78.75px;top:101.2px;width:4.35px;height:1.5px;background:#ffc000"></div><div style="left:84.6px;top:100.2px;width:4.35px;height:2.5px;background:#5b9bd5"></div><div style="left:90.45px;top:101.2px;width:4.35px;height:1.5px;background:#70ad47"></div><div class="t" style="left:56px;top:103.1px;width:44.2px;height:6px;font-size:3.6px;color:#404040;justify-content:center;text-align:center;-webkit-text-stroke:0.1px #555;">产品 A</div><div style="left:105.4px;top:82.7px;width:4.35px;height:20px;background:#4472c4"></div><div style="left:111.25px;top:87.7px;width:4.35px;height:15px;background:#ed7d31"></div><div style="left:117.1px;top:100.7px;width:4.35px;height:2px;background:#a5a5a5"></div><div style="left:122.95px;top:101.2px;width:4.35px;height:1.5px;background:#ffc000"></div><div style="left:128.8px;top:100.7px;width:4.35px;height:2px;background:#5b9bd5"></div><div style="left:134.65px;top:101.2px;width:4.35px;height:1.5px;background:#70ad47"></div><div class="t" style="left:100.2px;top:103.1px;width:44.2px;height:6px;font-size:3.6px;color:#404040;justify-content:center;text-align:center;-webkit-text-stroke:0.1px #555;">产品 B</div><div style="left:149.6px;top:92.7px;width:4.35px;height:10px;background:#4472c4"></div><div style="left:155.45px;top:92.7px;width:4.35px;height:10px;background:#ed7d31"></div><div style="left:161.3px;top:101.7px;width:4.35px;height:1px;background:#a5a5a5"></div><div style="left:167.15px;top:101.7px;width:4.35px;height:1px;background:#ffc000"></div><div style="left:173px;top:101.7px;width:4.35px;height:1px;background:#5b9bd5"></div><div style="left:178.85px;top:101.7px;width:4.35px;height:1px;background:#70ad47"></div><div class="t" style="left:144.4px;top:103.1px;width:44.2px;height:6px;font-size:3.6px;color:#404040;justify-content:center;text-align:center;-webkit-text-stroke:0.1px #555;">产品 C</div><div style="left:193.8px;top:98.7px;width:4.35px;height:4px;background:#4472c4"></div><div style="left:199.65px;top:99.2px;width:4.35px;height:3.5px;background:#ed7d31"></div><div style="left:205.5px;top:102.3px;width:4.35px;height:0.4px;background:#a5a5a5"></div><div style="left:211.35px;top:99.2px;width:4.35px;height:3.5px;background:#ffc000"></div><div style="left:217.2px;top:102.3px;width:4.35px;height:0.4px;background:#5b9bd5"></div><div style="left:223.05px;top:99.2px;width:4.35px;height:3.5px;background:#70ad47"></div><div class="t" style="left:188.6px;top:103.1px;width:44.2px;height:6px;font-size:3.6px;color:#404040;justify-content:center;text-align:center;-webkit-text-stroke:0.1px #555;">产品 D</div><div style="left:238px;top:52.7px;width:4.35px;height:50px;background:#4472c4"></div><div style="left:243.85px;top:62.7px;width:4.35px;height:40px;background:#ed7d31"></div><div style="left:249.7px;top:97.7px;width:4.35px;height:5px;background:#a5a5a5"></div><div style="left:255.55px;top:97.7px;width:4.35px;height:5px;background:#ffc000"></div><div style="left:261.4px;top:97.7px;width:4.35px;height:5px;background:#5b9bd5"></div><div style="left:267.25px;top:97.7px;width:4.35px;height:5px;background:#70ad47"></div><div class="t" style="left:232.8px;top:103.1px;width:44.2px;height:6px;font-size:3.6px;color:#404040;justify-content:center;text-align:center;-webkit-text-stroke:0.1px #555;">产品 E</div><div style="left:111.9px;top:113px;width:2.2px;height:2.2px;background:#4472c4"></div><div class="t" style="left:114.7px;top:111.1px;width:16.65px;height:6px;font-size:3.6px;color:#404040;justify-content:flex-start;text-align:left;-webkit-text-stroke:0.1px #555;">销售目标</div><div style="left:130.75px;top:113px;width:2.2px;height:2.2px;background:#ed7d31"></div><div class="t" style="left:133.55px;top:111.1px;width:16.65px;height:6px;font-size:3.6px;color:#404040;justify-content:flex-start;text-align:left;-webkit-text-stroke:0.1px #555;">实际完成</div><div style="left:149.6px;top:113px;width:2.2px;height:2.2px;background:#a5a5a5"></div><div class="t" style="left:152.4px;top:111.1px;width:16.65px;height:6px;font-size:3.6px;color:#404040;justify-content:flex-start;text-align:left;-webkit-text-stroke:0.1px #555;">利润目标</div><div style="left:168.45px;top:113px;width:2.2px;height:2.2px;background:#ffc000"></div><div class="t" style="left:171.25px;top:111.1px;width:16.65px;height:6px;font-size:3.6px;color:#404040;justify-content:flex-start;text-align:left;-webkit-text-stroke:0.1px #555;">利润完成</div><div style="left:187.3px;top:113px;width:2.2px;height:2.2px;background:#5b9bd5"></div><div class="t" style="left:190.1px;top:111.1px;width:16.65px;height:6px;font-size:3.6px;color:#404040;justify-content:flex-start;text-align:left;-webkit-text-stroke:0.1px #555;">投入预算</div><div style="left:206.15px;top:113px;width:2.2px;height:2.2px;background:#70ad47"></div><div class="t" style="left:208.95px;top:111.1px;width:16.65px;height:6px;font-size:3.6px;color:#404040;justify-content:flex-start;text-align:left;-webkit-text-stroke:0.1px #555;">实际投入</div><div style="left:47.35px;top:119.45px;width:0.9px;height:13.1px;background:#b4b4b4"></div><div style="left:27.85px;top:131.65px;width:20.4px;height:0.9px;background:#b4b4b4"></div><div class="t" style="left:28.3px;top:119.9px;width:19.5px;height:12.2px;font-size:3.6px;color:#000;font-weight:bold;justify-content:center;text-align:center;line-height:1.4;-webkit-text-stroke:0.1px #000;">模块</div><div style="left:72.25px;top:119.45px;width:0.9px;height:13.1px;background:#b4b4b4"></div><div style="left:47.35px;top:131.65px;width:25.8px;height:0.9px;background:#b4b4b4"></div><div class="t" style="left:47.8px;top:119.9px;width:24.9px;height:12.2px;font-size:3.6px;color:#000;font-weight:bold;justify-content:center;text-align:center;line-height:1.4;-webkit-text-stroke:0.1px #000;">团队</div><div style="left:102.85px;top:119.45px;width:0.9px;height:13.1px;background:#b4b4b4"></div><div style="left:72.25px;top:131.65px;width:31.5px;height:0.9px;background:#b4b4b4"></div><div class="t" style="left:72.7px;top:119.9px;width:30.6px;height:12.2px;font-size:3.6px;color:#000;font-weight:bold;justify-content:center;text-align:center;line-height:1.4;-webkit-text-stroke:0.1px #000;">销售<br>目标</div><div style="left:135.15px;top:119.45px;width:0.9px;height:13.1px;background:#b4b4b4"></div><div style="left:102.85px;top:131.65px;width:33.2px;height:0.9px;background:#b4b4b4"></div><div class="t" style="left:103.3px;top:119.9px;width:32.3px;height:12.2px;font-size:3.6px;color:#000;font-weight:bold;justify-content:center;text-align:center;line-height:1.4;-webkit-text-stroke:0.1px #000;">实际完成</div><div style="left:157.25px;top:119.45px;width:0.9px;height:13.1px;background:#b4b4b4"></div><div style="left:135.15px;top:131.65px;width:23px;height:0.9px;background:#b4b4b4"></div><div class="t" style="left:135.6px;top:119.9px;width:22.1px;height:12.2px;font-size:3.6px;color:#000;font-weight:bold;justify-content:center;text-align:center;line-height:1.4;-webkit-text-stroke:0.1px #000;">完成率</div><div style="left:180.05px;top:119.45px;width:0.9px;height:13.1px;background:#b4b4b4"></div><div style="left:157.25px;top:131.65px;width:23.7px;height:0.9px;background:#b4b4b4"></div><div class="t" style="left:157.7px;top:119.9px;width:22.8px;height:12.2px;font-size:3.6px;color:#000;font-weight:bold;justify-content:center;text-align:center;line-height:1.4;-webkit-text-stroke:0.1px #000;">利润目标</div><div style="left:211.45px;top:119.45px;width:0.9px;height:13.1px;background:#b4b4b4"></div><div style="left:180.05px;top:131.65px;width:32.3px;height:0.9px;background:#b4b4b4"></div><div class="t" style="left:180.5px;top:119.9px;width:31.4px;height:12.2px;font-size:3.6px;color:#000;font-weight:bold;justify-content:center;text-align:center;line-height:1.4;-webkit-text-stroke:0.1px #000;">利润实际完成</div><div style="left:228.55px;top:119.45px;width:0.9px;height:13.1px;background:#b4b4b4"></div><div style="left:211.45px;top:131.65px;width:18px;height:0.9px;background:#b4b4b4"></div><div class="t" style="left:211.9px;top:119.9px;width:17.1px;height:12.2px;font-size:3.6px;color:#000;font-weight:bold;justify-content:center;text-align:center;line-height:1.4;-webkit-text-stroke:0.1px #000;">达成率</div><div style="left:247.15px;top:119.45px;width:0.9px;height:13.1px;background:#b4b4b4"></div><div style="left:228.55px;top:131.65px;width:19.5px;height:0.9px;background:#b4b4b4"></div><div class="t" style="left:229px;top:119.9px;width:18.6px;height:12.2px;font-size:3.6px;color:#000;font-weight:bold;justify-content:center;text-align:center;line-height:1.4;-webkit-text-stroke:0.1px #000;">投入预算</div><div style="left:265.45px;top:119.45px;width:0.9px;height:13.1px;background:#b4b4b4"></div><div style="left:247.15px;top:131.65px;width:19.2px;height:0.9px;background:#b4b4b4"></div><div class="t" style="left:247.6px;top:119.9px;width:18.3px;height:12.2px;font-size:3.6px;color:#000;font-weight:bold;justify-content:center;text-align:center;line-height:1.4;-webkit-text-stroke:0.1px #000;">实际投入</div><div style="left:287.95px;top:119.45px;width:0.9px;height:13.1px;background:#b4b4b4"></div><div style="left:265.45px;top:131.65px;width:23.4px;height:0.9px;background:#b4b4b4"></div><div class="t" style="left:265.9px;top:119.9px;width:22.5px;height:12.2px;font-size:3.6px;color:#000;font-weight:bold;justify-content:center;text-align:center;line-height:1.4;-webkit-text-stroke:0.1px #000;">投入产出比</div><div style="left:308.35px;top:119.45px;width:0.9px;height:13.1px;background:#b4b4b4"></div><div style="left:287.95px;top:131.65px;width:21.3px;height:0.9px;background:#b4b4b4"></div><div class="t" style="left:288.4px;top:119.9px;width:20.4px;height:12.2px;font-size:3.6px;color:#000;font-weight:bold;justify-content:center;text-align:center;line-height:1.4;-webkit-text-stroke:0.1px #000;">整体贡献</div><div style="left:47.35px;top:131.65px;width:0.9px;height:30.7px;background:#b4b4b4"></div><div style="left:27.85px;top:161.45px;width:20.4px;height:0.9px;background:#b4b4b4"></div><div class="t" style="left:28.3px;top:132.1px;width:19.5px;height:29.8px;font-size:3.4px;color:#262626;justify-content:center;text-align:center;line-height:1.4;-webkit-text-stroke:0.05px #444;">产品<br>完成<br>情况</div><div style="left:72.25px;top:131.65px;width:0.9px;height:6.7px;background:#b4b4b4"></div><div style="left:47.35px;top:137.45px;width:25.8px;height:0.9px;background:#b4b4b4"></div><div class="t" style="left:47.8px;top:132.1px;width:24.9px;height:5.8px;font-size:3.4px;color:#262626;justify-content:center;text-align:center;line-height:1.4;-webkit-text-stroke:0.05px #444;">产品 A</div><div style="left:102.85px;top:131.65px;width:0.9px;height:6.7px;background:#b4b4b4"></div><div style="left:72.25px;top:137.45px;width:31.5px;height:0.9px;background:#b4b4b4"></div><div class="t" style="left:72.7px;top:132.1px;width:30.6px;height:5.8px;font-size:3.4px;color:#262626;justify-content:center;text-align:center;line-height:1.4;-webkit-text-stroke:0.05px #444;">500</div><div style="left:135.15px;top:131.65px;width:0.9px;height:6.7px;background:#b4b4b4"></div><div style="left:102.85px;top:137.45px;width:33.2px;height:0.9px;background:#b4b4b4"></div><div class="t" style="left:103.3px;top:132.1px;width:32.3px;height:5.8px;font-size:3.4px;color:#262626;justify-content:center;text-align:center;line-height:1.4;-webkit-text-stroke:0.05px #444;">300</div><div style="left:157.25px;top:131.65px;width:0.9px;height:6.7px;background:#b4b4b4"></div><div style="left:135.15px;top:137.45px;width:23px;height:0.9px;background:#b4b4b4"></div><div class="t" style="left:135.6px;top:132.1px;width:22.1px;height:5.8px;font-size:3.4px;color:#262626;justify-content:center;text-align:center;line-height:1.4;-webkit-text-stroke:0.05px #444;">60%</div><div style="left:180.05px;top:131.65px;width:0.9px;height:6.7px;background:#b4b4b4"></div><div style="left:157.25px;top:137.45px;width:23.7px;height:0.9px;background:#b4b4b4"></div><div class="t" style="left:157.7px;top:132.1px;width:22.8px;height:5.8px;font-size:3.4px;color:#262626;justify-content:center;text-align:center;line-height:1.4;-webkit-text-stroke:0.05px #444;">50</div><div style="left:211.45px;top:131.65px;width:0.9px;height:6.7px;background:#b4b4b4"></div><div style="left:180.05px;top:137.45px;width:32.3px;height:0.9px;background:#b4b4b4"></div><div class="t" style="left:180.5px;top:132.1px;width:31.4px;height:5.8px;font-size:3.4px;color:#262626;justify-content:center;text-align:center;line-height:1.4;-webkit-text-stroke:0.05px #444;">30</div><div style="left:228.55px;top:131.65px;width:0.9px;height:6.7px;background:#b4b4b4"></div><div style="left:211.45px;top:137.45px;width:18px;height:0.9px;background:#b4b4b4"></div><div class="t" style="left:211.9px;top:132.1px;width:17.1px;height:5.8px;font-size:3.4px;color:#262626;justify-content:center;text-align:center;line-height:1.4;-webkit-text-stroke:0.05px #444;">60%</div><div style="left:247.15px;top:131.65px;width:0.9px;height:6.7px;background:#b4b4b4"></div><div style="left:228.55px;top:137.45px;width:19.5px;height:0.9px;background:#b4b4b4"></div><div class="t" style="left:229px;top:132.1px;width:18.6px;height:5.8px;font-size:3.4px;color:#262626;justify-content:center;text-align:center;line-height:1.4;-webkit-text-stroke:0.05px #444;">50</div><div style="left:265.45px;top:131.65px;width:0.9px;height:6.7px;background:#b4b4b4"></div><div style="left:247.15px;top:137.45px;width:19.2px;height:0.9px;background:#b4b4b4"></div><div class="t" style="left:247.6px;top:132.1px;width:18.3px;height:5.8px;font-size:3.4px;color:#262626;justify-content:center;text-align:center;line-height:1.4;-webkit-text-stroke:0.05px #444;">30</div><div style="left:287.95px;top:131.65px;width:0.9px;height:6.7px;background:#b4b4b4"></div><div style="left:265.45px;top:137.45px;width:23.4px;height:0.9px;background:#b4b4b4"></div><div class="t" style="left:265.9px;top:132.1px;width:22.5px;height:5.8px;font-size:3.4px;color:#262626;justify-content:center;text-align:center;line-height:1.4;-webkit-text-stroke:0.05px #444;">60%</div><div style="left:308.35px;top:131.65px;width:0.9px;height:6.7px;background:#b4b4b4"></div><div style="left:287.95px;top:137.45px;width:21.3px;height:0.9px;background:#b4b4b4"></div><div class="t" style="left:288.4px;top:132.1px;width:20.4px;height:5.8px;font-size:3.4px;color:#262626;justify-content:center;text-align:center;line-height:1.4;-webkit-text-stroke:0.05px #444;">D</div><div style="left:72.25px;top:137.45px;width:0.9px;height:7.1px;background:#b4b4b4"></div><div style="left:47.35px;top:143.65px;width:25.8px;height:0.9px;background:#b4b4b4"></div><div class="t" style="left:47.8px;top:137.9px;width:24.9px;height:6.2px;font-size:3.4px;color:#262626;justify-content:center;text-align:center;line-height:1.4;-webkit-text-stroke:0.05px #444;">产品 B</div><div style="left:102.85px;top:137.45px;width:0.9px;height:7.1px;background:#b4b4b4"></div><div style="left:72.25px;top:143.65px;width:31.5px;height:0.9px;background:#b4b4b4"></div><div class="t" style="left:72.7px;top:137.9px;width:30.6px;height:6.2px;font-size:3.4px;color:#262626;justify-content:center;text-align:center;line-height:1.4;-webkit-text-stroke:0.05px #444;">400</div><div style="left:135.15px;top:137.45px;width:0.9px;height:7.1px;background:#b4b4b4"></div><div style="left:102.85px;top:143.65px;width:33.2px;height:0.9px;background:#b4b4b4"></div><div class="t" style="left:103.3px;top:137.9px;width:32.3px;height:6.2px;font-size:3.4px;color:#262626;justify-content:center;text-align:center;line-height:1.4;-webkit-text-stroke:0.05px #444;">300</div><div style="left:157.25px;top:137.45px;width:0.9px;height:7.1px;background:#b4b4b4"></div><div style="left:135.15px;top:143.65px;width:23px;height:0.9px;background:#b4b4b4"></div><div class="t" style="left:135.6px;top:137.9px;width:22.1px;height:6.2px;font-size:3.4px;color:#262626;justify-content:center;text-align:center;line-height:1.4;-webkit-text-stroke:0.05px #444;">75%</div><div style="left:180.05px;top:137.45px;width:0.9px;height:7.1px;background:#b4b4b4"></div><div style="left:157.25px;top:143.65px;width:23.7px;height:0.9px;background:#b4b4b4"></div><div class="t" style="left:157.7px;top:137.9px;width:22.8px;height:6.2px;font-size:3.4px;color:#262626;justify-content:center;text-align:center;line-height:1.4;-webkit-text-stroke:0.05px #444;">40</div><div style="left:211.45px;top:137.45px;width:0.9px;height:7.1px;background:#b4b4b4"></div><div style="left:180.05px;top:143.65px;width:32.3px;height:0.9px;background:#b4b4b4"></div><div class="t" style="left:180.5px;top:137.9px;width:31.4px;height:6.2px;font-size:3.4px;color:#262626;justify-content:center;text-align:center;line-height:1.4;-webkit-text-stroke:0.05px #444;">30</div><div style="left:228.55px;top:137.45px;width:0.9px;height:7.1px;background:#b4b4b4"></div><div style="left:211.45px;top:143.65px;width:18px;height:0.9px;background:#b4b4b4"></div><div class="t" style="left:211.9px;top:137.9px;width:17.1px;height:6.2px;font-size:3.4px;color:#262626;justify-content:center;text-align:center;line-height:1.4;-webkit-text-stroke:0.05px #444;">75%</div><div style="left:247.15px;top:137.45px;width:0.9px;height:7.1px;background:#b4b4b4"></div><div style="left:228.55px;top:143.65px;width:19.5px;height:0.9px;background:#b4b4b4"></div><div class="t" style="left:229px;top:137.9px;width:18.6px;height:6.2px;font-size:3.4px;color:#262626;justify-content:center;text-align:center;line-height:1.4;-webkit-text-stroke:0.05px #444;">40</div><div style="left:265.45px;top:137.45px;width:0.9px;height:7.1px;background:#b4b4b4"></div><div style="left:247.15px;top:143.65px;width:19.2px;height:0.9px;background:#b4b4b4"></div><div class="t" style="left:247.6px;top:137.9px;width:18.3px;height:6.2px;font-size:3.4px;color:#262626;justify-content:center;text-align:center;line-height:1.4;-webkit-text-stroke:0.05px #444;">30</div><div style="left:287.95px;top:137.45px;width:0.9px;height:7.1px;background:#b4b4b4"></div><div style="left:265.45px;top:143.65px;width:23.4px;height:0.9px;background:#b4b4b4"></div><div class="t" style="left:265.9px;top:137.9px;width:22.5px;height:6.2px;font-size:3.4px;color:#262626;justify-content:center;text-align:center;line-height:1.4;-webkit-text-stroke:0.05px #444;">75%</div><div style="left:308.35px;top:137.45px;width:0.9px;height:7.1px;background:#b4b4b4"></div><div style="left:287.95px;top:143.65px;width:21.3px;height:0.9px;background:#b4b4b4"></div><div class="t" style="left:288.4px;top:137.9px;width:20.4px;height:6.2px;font-size:3.4px;color:#262626;justify-content:center;text-align:center;line-height:1.4;-webkit-text-stroke:0.05px #444;">C</div><div style="left:72.25px;top:143.65px;width:0.9px;height:6.7px;background:#b4b4b4"></div><div style="left:47.35px;top:149.45px;width:25.8px;height:0.9px;background:#b4b4b4"></div><div class="t" style="left:47.8px;top:144.1px;width:24.9px;height:5.8px;font-size:3.4px;color:#262626;justify-content:center;text-align:center;line-height:1.4;-webkit-text-stroke:0.05px #444;">产品 C</div><div style="left:102.85px;top:143.65px;width:0.9px;height:6.7px;background:#b4b4b4"></div><div style="left:72.25px;top:149.45px;width:31.5px;height:0.9px;background:#b4b4b4"></div><div class="t" style="left:72.7px;top:144.1px;width:30.6px;height:5.8px;font-size:3.4px;color:#262626;justify-content:center;text-align:center;line-height:1.4;-webkit-text-stroke:0.05px #444;">200</div><div style="left:135.15px;top:143.65px;width:0.9px;height:6.7px;background:#b4b4b4"></div><div style="left:102.85px;top:149.45px;width:33.2px;height:0.9px;background:#b4b4b4"></div><div class="t" style="left:103.3px;top:144.1px;width:32.3px;height:5.8px;font-size:3.4px;color:#262626;justify-content:center;text-align:center;line-height:1.4;-webkit-text-stroke:0.05px #444;">200</div><div style="left:157.25px;top:143.65px;width:0.9px;height:6.7px;background:#b4b4b4"></div><div style="left:135.15px;top:149.45px;width:23px;height:0.9px;background:#b4b4b4"></div><div class="t" style="left:135.6px;top:144.1px;width:22.1px;height:5.8px;font-size:3.4px;color:#262626;justify-content:center;text-align:center;line-height:1.4;-webkit-text-stroke:0.05px #444;">100%</div><div style="left:180.05px;top:143.65px;width:0.9px;height:6.7px;background:#b4b4b4"></div><div style="left:157.25px;top:149.45px;width:23.7px;height:0.9px;background:#b4b4b4"></div><div class="t" style="left:157.7px;top:144.1px;width:22.8px;height:5.8px;font-size:3.4px;color:#262626;justify-content:center;text-align:center;line-height:1.4;-webkit-text-stroke:0.05px #444;">20</div><div style="left:211.45px;top:143.65px;width:0.9px;height:6.7px;background:#b4b4b4"></div><div style="left:180.05px;top:149.45px;width:32.3px;height:0.9px;background:#b4b4b4"></div><div class="t" style="left:180.5px;top:144.1px;width:31.4px;height:5.8px;font-size:3.4px;color:#262626;justify-content:center;text-align:center;line-height:1.4;-webkit-text-stroke:0.05px #444;">20</div><div style="left:228.55px;top:143.65px;width:0.9px;height:6.7px;background:#b4b4b4"></div><div style="left:211.45px;top:149.45px;width:18px;height:0.9px;background:#b4b4b4"></div><div class="t" style="left:211.9px;top:144.1px;width:17.1px;height:5.8px;font-size:3.4px;color:#262626;justify-content:center;text-align:center;line-height:1.4;-webkit-text-stroke:0.05px #444;">100%</div><div style="left:247.15px;top:143.65px;width:0.9px;height:6.7px;background:#b4b4b4"></div><div style="left:228.55px;top:149.45px;width:19.5px;height:0.9px;background:#b4b4b4"></div><div class="t" style="left:229px;top:144.1px;width:18.6px;height:5.8px;font-size:3.4px;color:#262626;justify-content:center;text-align:center;line-height:1.4;-webkit-text-stroke:0.05px #444;">20</div><div style="left:265.45px;top:143.65px;width:0.9px;height:6.7px;background:#b4b4b4"></div><div style="left:247.15px;top:149.45px;width:19.2px;height:0.9px;background:#b4b4b4"></div><div class="t" style="left:247.6px;top:144.1px;width:18.3px;height:5.8px;font-size:3.4px;color:#262626;justify-content:center;text-align:center;line-height:1.4;-webkit-text-stroke:0.05px #444;">20</div><div style="left:287.95px;top:143.65px;width:0.9px;height:6.7px;background:#b4b4b4"></div><div style="left:265.45px;top:149.45px;width:23.4px;height:0.9px;background:#b4b4b4"></div><div class="t" style="left:265.9px;top:144.1px;width:22.5px;height:5.8px;font-size:3.4px;color:#262626;justify-content:center;text-align:center;line-height:1.4;-webkit-text-stroke:0.05px #444;">100%</div><div style="left:308.35px;top:143.65px;width:0.9px;height:6.7px;background:#b4b4b4"></div><div style="left:287.95px;top:149.45px;width:21.3px;height:0.9px;background:#b4b4b4"></div><div class="t" style="left:288.4px;top:144.1px;width:20.4px;height:5.8px;font-size:3.4px;color:#262626;justify-content:center;text-align:center;line-height:1.4;-webkit-text-stroke:0.05px #444;">A</div><div style="left:72.25px;top:149.45px;width:0.9px;height:6.9px;background:#b4b4b4"></div><div style="left:47.35px;top:155.45px;width:25.8px;height:0.9px;background:#b4b4b4"></div><div class="t" style="left:47.8px;top:149.9px;width:24.9px;height:6px;font-size:3.4px;color:#262626;justify-content:center;text-align:center;line-height:1.4;-webkit-text-stroke:0.05px #444;">产品 D</div><div style="left:102.85px;top:149.45px;width:0.9px;height:6.9px;background:#b4b4b4"></div><div style="left:72.25px;top:155.45px;width:31.5px;height:0.9px;background:#b4b4b4"></div><div class="t" style="left:72.7px;top:149.9px;width:30.6px;height:6px;font-size:3.4px;color:#262626;justify-content:center;text-align:center;line-height:1.4;-webkit-text-stroke:0.05px #444;">80</div><div style="left:135.15px;top:149.45px;width:0.9px;height:6.9px;background:#b4b4b4"></div><div style="left:102.85px;top:155.45px;width:33.2px;height:0.9px;background:#b4b4b4"></div><div class="t" style="left:103.3px;top:149.9px;width:32.3px;height:6px;font-size:3.4px;color:#262626;justify-content:center;text-align:center;line-height:1.4;-webkit-text-stroke:0.05px #444;">70</div><div style="left:157.25px;top:149.45px;width:0.9px;height:6.9px;background:#b4b4b4"></div><div style="left:135.15px;top:155.45px;width:23px;height:0.9px;background:#b4b4b4"></div><div class="t" style="left:135.6px;top:149.9px;width:22.1px;height:6px;font-size:3.4px;color:#262626;justify-content:center;text-align:center;line-height:1.4;-webkit-text-stroke:0.05px #444;">87.5%</div><div style="left:180.05px;top:149.45px;width:0.9px;height:6.9px;background:#b4b4b4"></div><div style="left:157.25px;top:155.45px;width:23.7px;height:0.9px;background:#b4b4b4"></div><div class="t" style="left:157.7px;top:149.9px;width:22.8px;height:6px;font-size:3.4px;color:#262626;justify-content:center;text-align:center;line-height:1.4;-webkit-text-stroke:0.05px #444;">8</div><div style="left:211.45px;top:149.45px;width:0.9px;height:6.9px;background:#b4b4b4"></div><div style="left:180.05px;top:155.45px;width:32.3px;height:0.9px;background:#b4b4b4"></div><div class="t" style="left:180.5px;top:149.9px;width:31.4px;height:6px;font-size:3.4px;color:#262626;justify-content:center;text-align:center;line-height:1.4;-webkit-text-stroke:0.05px #444;">70</div><div style="left:228.55px;top:149.45px;width:0.9px;height:6.9px;background:#b4b4b4"></div><div style="left:211.45px;top:155.45px;width:18px;height:0.9px;background:#b4b4b4"></div><div class="t" style="left:211.9px;top:149.9px;width:17.1px;height:6px;font-size:3.4px;color:#262626;justify-content:center;text-align:center;line-height:1.4;-webkit-text-stroke:0.05px #444;">87.5%</div><div style="left:247.15px;top:149.45px;width:0.9px;height:6.9px;background:#b4b4b4"></div><div style="left:228.55px;top:155.45px;width:19.5px;height:0.9px;background:#b4b4b4"></div><div class="t" style="left:229px;top:149.9px;width:18.6px;height:6px;font-size:3.4px;color:#262626;justify-content:center;text-align:center;line-height:1.4;-webkit-text-stroke:0.05px #444;">8</div><div style="left:265.45px;top:149.45px;width:0.9px;height:6.9px;background:#b4b4b4"></div><div style="left:247.15px;top:155.45px;width:19.2px;height:0.9px;background:#b4b4b4"></div><div class="t" style="left:247.6px;top:149.9px;width:18.3px;height:6px;font-size:3.4px;color:#262626;justify-content:center;text-align:center;line-height:1.4;-webkit-text-stroke:0.05px #444;">70</div><div style="left:287.95px;top:149.45px;width:0.9px;height:6.9px;background:#b4b4b4"></div><div style="left:265.45px;top:155.45px;width:23.4px;height:0.9px;background:#b4b4b4"></div><div class="t" style="left:265.9px;top:149.9px;width:22.5px;height:6px;font-size:3.4px;color:#262626;justify-content:center;text-align:center;line-height:1.4;-webkit-text-stroke:0.05px #444;">87.5%</div><div style="left:308.35px;top:149.45px;width:0.9px;height:6.9px;background:#b4b4b4"></div><div style="left:287.95px;top:155.45px;width:21.3px;height:0.9px;background:#b4b4b4"></div><div class="t" style="left:288.4px;top:149.9px;width:20.4px;height:6px;font-size:3.4px;color:#262626;justify-content:center;text-align:center;line-height:1.4;-webkit-text-stroke:0.05px #444;">B</div><div style="left:72.25px;top:155.45px;width:0.9px;height:6.9px;background:#b4b4b4"></div><div style="left:47.35px;top:161.45px;width:25.8px;height:0.9px;background:#b4b4b4"></div><div class="t" style="left:47.8px;top:155.9px;width:24.9px;height:6px;font-size:3.4px;color:#262626;justify-content:center;text-align:center;line-height:1.4;-webkit-text-stroke:0.05px #444;">产品 E</div><div style="left:102.85px;top:155.45px;width:0.9px;height:6.9px;background:#b4b4b4"></div><div style="left:72.25px;top:161.45px;width:31.5px;height:0.9px;background:#b4b4b4"></div><div class="t" style="left:72.7px;top:155.9px;width:30.6px;height:6px;font-size:3.4px;color:#262626;justify-content:center;text-align:center;line-height:1.4;-webkit-text-stroke:0.05px #444;">1000</div><div style="left:135.15px;top:155.45px;width:0.9px;height:6.9px;background:#b4b4b4"></div><div style="left:102.85px;top:161.45px;width:33.2px;height:0.9px;background:#b4b4b4"></div><div class="t" style="left:103.3px;top:155.9px;width:32.3px;height:6px;font-size:3.4px;color:#262626;justify-content:center;text-align:center;line-height:1.4;-webkit-text-stroke:0.05px #444;">800</div><div style="left:157.25px;top:155.45px;width:0.9px;height:6.9px;background:#b4b4b4"></div><div style="left:135.15px;top:161.45px;width:23px;height:0.9px;background:#b4b4b4"></div><div class="t" style="left:135.6px;top:155.9px;width:22.1px;height:6px;font-size:3.4px;color:#262626;justify-content:center;text-align:center;line-height:1.4;-webkit-text-stroke:0.05px #444;">80%</div><div style="left:180.05px;top:155.45px;width:0.9px;height:6.9px;background:#b4b4b4"></div><div style="left:157.25px;top:161.45px;width:23.7px;height:0.9px;background:#b4b4b4"></div><div class="t" style="left:157.7px;top:155.9px;width:22.8px;height:6px;font-size:3.4px;color:#262626;justify-content:center;text-align:center;line-height:1.4;-webkit-text-stroke:0.05px #444;">100</div><div style="left:211.45px;top:155.45px;width:0.9px;height:6.9px;background:#b4b4b4"></div><div style="left:180.05px;top:161.45px;width:32.3px;height:0.9px;background:#b4b4b4"></div><div class="t" style="left:180.5px;top:155.9px;width:31.4px;height:6px;font-size:3.4px;color:#262626;justify-content:center;text-align:center;line-height:1.4;-webkit-text-stroke:0.05px #444;">100</div><div style="left:228.55px;top:155.45px;width:0.9px;height:6.9px;background:#b4b4b4"></div><div style="left:211.45px;top:161.45px;width:18px;height:0.9px;background:#b4b4b4"></div><div class="t" style="left:211.9px;top:155.9px;width:17.1px;height:6px;font-size:3.4px;color:#262626;justify-content:center;text-align:center;line-height:1.4;-webkit-text-stroke:0.05px #444;">100%</div><div style="left:247.15px;top:155.45px;width:0.9px;height:6.9px;background:#b4b4b4"></div><div style="left:228.55px;top:161.45px;width:19.5px;height:0.9px;background:#b4b4b4"></div><div class="t" style="left:229px;top:155.9px;width:18.6px;height:6px;font-size:3.4px;color:#262626;justify-content:center;text-align:center;line-height:1.4;-webkit-text-stroke:0.05px #444;">100</div><div style="left:265.45px;top:155.45px;width:0.9px;height:6.9px;background:#b4b4b4"></div><div style="left:247.15px;top:161.45px;width:19.2px;height:0.9px;background:#b4b4b4"></div><div class="t" style="left:247.6px;top:155.9px;width:18.3px;height:6px;font-size:3.4px;color:#262626;justify-content:center;text-align:center;line-height:1.4;-webkit-text-stroke:0.05px #444;">100</div><div style="left:287.95px;top:155.45px;width:0.9px;height:6.9px;background:#b4b4b4"></div><div style="left:265.45px;top:161.45px;width:23.4px;height:0.9px;background:#b4b4b4"></div><div class="t" style="left:265.9px;top:155.9px;width:22.5px;height:6px;font-size:3.4px;color:#262626;justify-content:center;text-align:center;line-height:1.4;-webkit-text-stroke:0.05px #444;">100%</div><div style="left:308.35px;top:155.45px;width:0.9px;height:6.9px;background:#b4b4b4"></div><div style="left:287.95px;top:161.45px;width:21.3px;height:0.9px;background:#b4b4b4"></div><div class="t" style="left:288.4px;top:155.9px;width:20.4px;height:6px;font-size:3.4px;color:#262626;justify-content:center;text-align:center;line-height:1.4;-webkit-text-stroke:0.05px #444;">B</div><div style="left:72.25px;top:161.45px;width:0.9px;height:6.9px;background:#b4b4b4"></div><div style="left:27.85px;top:167.45px;width:45.3px;height:0.9px;background:#b4b4b4"></div><div class="t" style="left:28.3px;top:161.9px;width:44.4px;height:6px;font-size:3.4px;color:#262626;justify-content:center;text-align:center;line-height:1.4;-webkit-text-stroke:0.05px #444;">合计</div><div style="left:102.85px;top:161.45px;width:0.9px;height:6.9px;background:#b4b4b4"></div><div style="left:72.25px;top:167.45px;width:31.5px;height:0.9px;background:#b4b4b4"></div><div class="t" style="left:72.7px;top:161.9px;width:30.6px;height:6px;font-size:3.4px;color:#262626;justify-content:center;text-align:center;line-height:1.4;-webkit-text-stroke:0.05px #444;">2180</div><div style="left:135.15px;top:161.45px;width:0.9px;height:6.9px;background:#b4b4b4"></div><div style="left:102.85px;top:167.45px;width:33.2px;height:0.9px;background:#b4b4b4"></div><div class="t" style="left:103.3px;top:161.9px;width:32.3px;height:6px;font-size:3.4px;color:#262626;justify-content:center;text-align:center;line-height:1.4;-webkit-text-stroke:0.05px #444;">1670</div><div style="left:157.25px;top:161.45px;width:0.9px;height:6.9px;background:#b4b4b4"></div><div style="left:135.15px;top:167.45px;width:23px;height:0.9px;background:#b4b4b4"></div><div class="t" style="left:135.6px;top:161.9px;width:22.1px;height:6px;font-size:3.4px;color:#262626;justify-content:center;text-align:center;line-height:1.4;-webkit-text-stroke:0.05px #444;">76%</div><div style="left:180.05px;top:161.45px;width:0.9px;height:6.9px;background:#b4b4b4"></div><div style="left:157.25px;top:167.45px;width:23.7px;height:0.9px;background:#b4b4b4"></div><div class="t" style="left:157.7px;top:161.9px;width:22.8px;height:6px;font-size:3.4px;color:#262626;justify-content:center;text-align:center;line-height:1.4;-webkit-text-stroke:0.05px #444;">218</div><div style="left:211.45px;top:161.45px;width:0.9px;height:6.9px;background:#b4b4b4"></div><div style="left:180.05px;top:167.45px;width:32.3px;height:0.9px;background:#b4b4b4"></div><div class="t" style="left:180.5px;top:161.9px;width:31.4px;height:6px;font-size:3.4px;color:#262626;justify-content:center;text-align:center;line-height:1.4;-webkit-text-stroke:0.05px #444;">167</div><div style="left:228.55px;top:161.45px;width:0.9px;height:6.9px;background:#b4b4b4"></div><div style="left:211.45px;top:167.45px;width:18px;height:0.9px;background:#b4b4b4"></div><div class="t" style="left:211.9px;top:161.9px;width:17.1px;height:6px;font-size:3.4px;color:#262626;justify-content:center;text-align:center;line-height:1.4;-webkit-text-stroke:0.05px #444;">76%</div><div style="left:247.15px;top:161.45px;width:0.9px;height:6.9px;background:#b4b4b4"></div><div style="left:228.55px;top:167.45px;width:19.5px;height:0.9px;background:#b4b4b4"></div><div class="t" style="left:229px;top:161.9px;width:18.6px;height:6px;font-size:3.4px;color:#262626;justify-content:center;text-align:center;line-height:1.4;-webkit-text-stroke:0.05px #444;">218</div><div style="left:265.45px;top:161.45px;width:0.9px;height:6.9px;background:#b4b4b4"></div><div style="left:247.15px;top:167.45px;width:19.2px;height:0.9px;background:#b4b4b4"></div><div class="t" style="left:247.6px;top:161.9px;width:18.3px;height:6px;font-size:3.4px;color:#262626;justify-content:center;text-align:center;line-height:1.4;-webkit-text-stroke:0.05px #444;">167</div><div style="left:287.95px;top:161.45px;width:0.9px;height:6.9px;background:#b4b4b4"></div><div style="left:265.45px;top:167.45px;width:23.4px;height:0.9px;background:#b4b4b4"></div><div class="t" style="left:265.9px;top:161.9px;width:22.5px;height:6px;font-size:3.4px;color:#262626;justify-content:center;text-align:center;line-height:1.4;-webkit-text-stroke:0.05px #444;">76%</div><div style="left:308.35px;top:161.45px;width:0.9px;height:6.9px;background:#b4b4b4"></div><div style="left:287.95px;top:167.45px;width:21.3px;height:0.9px;background:#b4b4b4"></div><div class="t" style="left:288.4px;top:161.9px;width:20.4px;height:6px;font-size:3.4px;color:#262626;justify-content:center;text-align:center;line-height:1.4;-webkit-text-stroke:0.05px #444;">C</div><div style="left:27.85px;top:119.45px;width:0.9px;height:48.9px;background:#b4b4b4"></div><div style="left:27.85px;top:119.45px;width:281.4px;height:0.9px;background:#b4b4b4"></div><div class="fr"></div></div><div class="c" style="left:335px;top:130.6px;background:#fff"><div style="left:77px;top:25.5px;width:176px;height:15.4px;border-radius:7.7px;background:linear-gradient(90deg,#0f214d 0%,#172d5f 50%,#1e3870 100%);box-shadow:inset 0 0 0.7px 0.5px rgba(8,16,40,.8);"></div><div class="t" style="left:77px;top:25.5px;width:176px;height:15.4px;font-size:6.95px;color:#fff;font-weight:bold;justify-content:center;text-align:center;">7 、 2021 年重点门店销售目标完成情况</div><div style="left:56px;top:102.2px;width:220.6px;height:1px;background:#c8cacd"></div><div style="left:56px;top:92.2px;width:220.6px;height:1px;background:#c8cacd"></div><div style="left:56px;top:82.2px;width:220.6px;height:1px;background:#c8cacd"></div><div style="left:56px;top:72.2px;width:220.6px;height:1px;background:#c8cacd"></div><div style="left:56px;top:62.2px;width:220.6px;height:1px;background:#c8cacd"></div><div style="left:56px;top:52.2px;width:220.6px;height:1px;background:#c8cacd"></div><div style="left:56px;top:42.2px;width:220.6px;height:1px;background:#c8cacd"></div><div style="left:61.2px;top:77.7px;width:4.35px;height:25px;background:#4472c4"></div><div style="left:67.05px;top:87.7px;width:4.35px;height:15px;background:#ed7d31"></div><div style="left:72.9px;top:100.2px;width:4.35px;height:2.5px;background:#a5a5a5"></div><div style="left:78.75px;top:101.2px;width:4.35px;height:1.5px;background:#ffc000"></div><div style="left:84.6px;top:100.2px;width:4.35px;height:2.5px;background:#5b9bd5"></div><div style="left:90.45px;top:101.2px;width:4.35px;height:1.5px;background:#70ad47"></div><div class="t" style="left:56px;top:103.1px;width:44.2px;height:6px;font-size:3.6px;color:#404040;justify-content:center;text-align:center;-webkit-text-stroke:0.1px #555;">门店 A</div><div style="left:105.4px;top:82.7px;width:4.35px;height:20px;background:#4472c4"></div><div style="left:111.25px;top:87.7px;width:4.35px;height:15px;background:#ed7d31"></div><div style="left:117.1px;top:100.7px;width:4.35px;height:2px;background:#a5a5a5"></div><div style="left:122.95px;top:101.2px;width:4.35px;height:1.5px;background:#ffc000"></div><div style="left:128.8px;top:100.7px;width:4.35px;height:2px;background:#5b9bd5"></div><div style="left:134.65px;top:101.2px;width:4.35px;height:1.5px;background:#70ad47"></div><div class="t" style="left:100.2px;top:103.1px;width:44.2px;height:6px;font-size:3.6px;color:#404040;justify-content:center;text-align:center;-webkit-text-stroke:0.1px #555;">门店 B</div><div style="left:149.6px;top:92.7px;width:4.35px;height:10px;background:#4472c4"></div><div style="left:155.45px;top:92.7px;width:4.35px;height:10px;background:#ed7d31"></div><div style="left:161.3px;top:101.7px;width:4.35px;height:1px;background:#a5a5a5"></div><div style="left:167.15px;top:101.7px;width:4.35px;height:1px;background:#ffc000"></div><div style="left:173px;top:101.7px;width:4.35px;height:1px;background:#5b9bd5"></div><div style="left:178.85px;top:101.7px;width:4.35px;height:1px;background:#70ad47"></div><div class="t" style="left:144.4px;top:103.1px;width:44.2px;height:6px;font-size:3.6px;color:#404040;justify-content:center;text-align:center;-webkit-text-stroke:0.1px #555;">门店 C</div><div style="left:193.8px;top:98.7px;width:4.35px;height:4px;background:#4472c4"></div><div style="left:199.65px;top:99.2px;width:4.35px;height:3.5px;background:#ed7d31"></div><div style="left:205.5px;top:102.3px;width:4.35px;height:0.4px;background:#a5a5a5"></div><div style="left:211.35px;top:99.2px;width:4.35px;height:3.5px;background:#ffc000"></div><div style="left:217.2px;top:102.3px;width:4.35px;height:0.4px;background:#5b9bd5"></div><div style="left:223.05px;top:99.2px;width:4.35px;height:3.5px;background:#70ad47"></div><div class="t" style="left:188.6px;top:103.1px;width:44.2px;height:6px;font-size:3.6px;color:#404040;justify-content:center;text-align:center;-webkit-text-stroke:0.1px #555;">门店 D</div><div style="left:238px;top:52.7px;width:4.35px;height:50px;background:#4472c4"></div><div style="left:243.85px;top:62.7px;width:4.35px;height:40px;background:#ed7d31"></div><div style="left:249.7px;top:97.7px;width:4.35px;height:5px;background:#a5a5a5"></div><div style="left:255.55px;top:97.7px;width:4.35px;height:5px;background:#ffc000"></div><div style="left:261.4px;top:97.7px;width:4.35px;height:5px;background:#5b9bd5"></div><div style="left:267.25px;top:97.7px;width:4.35px;height:5px;background:#70ad47"></div><div class="t" style="left:232.8px;top:103.1px;width:44.2px;height:6px;font-size:3.6px;color:#404040;justify-content:center;text-align:center;-webkit-text-stroke:0.1px #555;">门店 E</div><div style="left:111.9px;top:113px;width:2.2px;height:2.2px;background:#4472c4"></div><div class="t" style="left:114.7px;top:111.1px;width:16.65px;height:6px;font-size:3.6px;color:#404040;justify-content:flex-start;text-align:left;-webkit-text-stroke:0.1px #555;">销售目标</div><div style="left:130.75px;top:113px;width:2.2px;height:2.2px;background:#ed7d31"></div><div class="t" style="left:133.55px;top:111.1px;width:16.65px;height:6px;font-size:3.6px;color:#404040;justify-content:flex-start;text-align:left;-webkit-text-stroke:0.1px #555;">实际完成</div><div style="left:149.6px;top:113px;width:2.2px;height:2.2px;background:#a5a5a5"></div><div class="t" style="left:152.4px;top:111.1px;width:16.65px;height:6px;font-size:3.6px;color:#404040;justify-content:flex-start;text-align:left;-webkit-text-stroke:0.1px #555;">利润目标</div><div style="left:168.45px;top:113px;width:2.2px;height:2.2px;background:#ffc000"></div><div class="t" style="left:171.25px;top:111.1px;width:16.65px;height:6px;font-size:3.6px;color:#404040;justify-content:flex-start;text-align:left;-webkit-text-stroke:0.1px #555;">利润完成</div><div style="left:187.3px;top:113px;width:2.2px;height:2.2px;background:#5b9bd5"></div><div class="t" style="left:190.1px;top:111.1px;width:16.65px;height:6px;font-size:3.6px;color:#404040;justify-content:flex-start;text-align:left;-webkit-text-stroke:0.1px #555;">投入预算</div><div style="left:206.15px;top:113px;width:2.2px;height:2.2px;background:#70ad47"></div><div class="t" style="left:208.95px;top:111.1px;width:16.65px;height:6px;font-size:3.6px;color:#404040;justify-content:flex-start;text-align:left;-webkit-text-stroke:0.1px #555;">实际投入</div><div style="left:44.75px;top:120.25px;width:0.9px;height:11.1px;background:#b4b4b4"></div><div style="left:23.75px;top:130.45px;width:21.9px;height:0.9px;background:#b4b4b4"></div><div class="t" style="left:24.2px;top:120.7px;width:21px;height:10.2px;font-size:3.6px;color:#000;font-weight:bold;justify-content:center;text-align:center;line-height:1.4;-webkit-text-stroke:0.1px #000;">模块</div><div style="left:73.85px;top:120.25px;width:0.9px;height:11.1px;background:#b4b4b4"></div><div style="left:44.75px;top:130.45px;width:30px;height:0.9px;background:#b4b4b4"></div><div class="t" style="left:45.2px;top:120.7px;width:29.1px;height:10.2px;font-size:3.6px;color:#000;font-weight:bold;justify-content:center;text-align:center;line-height:1.4;-webkit-text-stroke:0.1px #000;">门店</div><div style="left:109.85px;top:120.25px;width:0.9px;height:11.1px;background:#b4b4b4"></div><div style="left:73.85px;top:130.45px;width:36.9px;height:0.9px;background:#b4b4b4"></div><div class="t" style="left:74.3px;top:120.7px;width:36px;height:10.2px;font-size:3.6px;color:#000;font-weight:bold;justify-content:center;text-align:center;line-height:1.4;-webkit-text-stroke:0.1px #000;">销售目标</div><div style="left:137.25px;top:120.25px;width:0.9px;height:11.1px;background:#b4b4b4"></div><div style="left:109.85px;top:130.45px;width:28.3px;height:0.9px;background:#b4b4b4"></div><div class="t" style="left:110.3px;top:120.7px;width:27.4px;height:10.2px;font-size:3.6px;color:#000;font-weight:bold;justify-content:center;text-align:center;line-height:1.4;-webkit-text-stroke:0.1px #000;">实际完成</div><div style="left:160.05px;top:120.25px;width:0.9px;height:11.1px;background:#b4b4b4"></div><div style="left:137.25px;top:130.45px;width:23.7px;height:0.9px;background:#b4b4b4"></div><div class="t" style="left:137.7px;top:120.7px;width:22.8px;height:10.2px;font-size:3.6px;color:#000;font-weight:bold;justify-content:center;text-align:center;line-height:1.4;-webkit-text-stroke:0.1px #000;">完成率</div><div style="left:185.75px;top:120.25px;width:0.9px;height:11.1px;background:#b4b4b4"></div><div style="left:160.05px;top:130.45px;width:26.6px;height:0.9px;background:#b4b4b4"></div><div class="t" style="left:160.5px;top:120.7px;width:25.7px;height:10.2px;font-size:3.6px;color:#000;font-weight:bold;justify-content:center;text-align:center;line-height:1.4;-webkit-text-stroke:0.1px #000;">利润目标</div><div style="left:211.25px;top:120.25px;width:0.9px;height:11.1px;background:#b4b4b4"></div><div style="left:185.75px;top:130.45px;width:26.4px;height:0.9px;background:#b4b4b4"></div><div class="t" style="left:186.2px;top:120.7px;width:25.5px;height:10.2px;font-size:3.6px;color:#000;font-weight:bold;justify-content:center;text-align:center;line-height:1.4;-webkit-text-stroke:0.1px #000;">利润实际完成</div><div style="left:228.55px;top:120.25px;width:0.9px;height:11.1px;background:#b4b4b4"></div><div style="left:211.25px;top:130.45px;width:18.2px;height:0.9px;background:#b4b4b4"></div><div class="t" style="left:211.7px;top:120.7px;width:17.3px;height:10.2px;font-size:3.6px;color:#000;font-weight:bold;justify-content:center;text-align:center;line-height:1.4;-webkit-text-stroke:0.1px #000;">达成率</div><div style="left:247.25px;top:120.25px;width:0.9px;height:11.1px;background:#b4b4b4"></div><div style="left:228.55px;top:130.45px;width:19.6px;height:0.9px;background:#b4b4b4"></div><div class="t" style="left:229px;top:120.7px;width:18.7px;height:10.2px;font-size:3.6px;color:#000;font-weight:bold;justify-content:center;text-align:center;line-height:1.4;-webkit-text-stroke:0.1px #000;">投入预算</div><div style="left:265.25px;top:120.25px;width:0.9px;height:11.1px;background:#b4b4b4"></div><div style="left:247.25px;top:130.45px;width:18.9px;height:0.9px;background:#b4b4b4"></div><div class="t" style="left:247.7px;top:120.7px;width:18px;height:10.2px;font-size:3.6px;color:#000;font-weight:bold;justify-content:center;text-align:center;line-height:1.4;-webkit-text-stroke:0.1px #000;">实际投入</div><div style="left:286.95px;top:120.25px;width:0.9px;height:11.1px;background:#b4b4b4"></div><div style="left:265.25px;top:130.45px;width:22.6px;height:0.9px;background:#b4b4b4"></div><div class="t" style="left:265.7px;top:120.7px;width:21.7px;height:10.2px;font-size:3.6px;color:#000;font-weight:bold;justify-content:center;text-align:center;line-height:1.4;-webkit-text-stroke:0.1px #000;">投入产出比</div><div style="left:304.95px;top:120.25px;width:0.9px;height:11.1px;background:#b4b4b4"></div><div style="left:286.95px;top:130.45px;width:18.9px;height:0.9px;background:#b4b4b4"></div><div class="t" style="left:287.4px;top:120.7px;width:18px;height:10.2px;font-size:3.6px;color:#000;font-weight:bold;justify-content:center;text-align:center;line-height:1.4;-webkit-text-stroke:0.1px #000;">整体贡献</div><div style="left:44.75px;top:130.45px;width:0.9px;height:30.9px;background:#b4b4b4"></div><div style="left:23.75px;top:160.45px;width:21.9px;height:0.9px;background:#b4b4b4"></div><div class="t" style="left:24.2px;top:130.9px;width:21px;height:30px;font-size:3.4px;color:#262626;justify-content:center;text-align:center;line-height:1.4;-webkit-text-stroke:0.05px #444;">门店<br>完成<br>情况</div><div style="left:73.85px;top:130.45px;width:0.9px;height:6.9px;background:#b4b4b4"></div><div style="left:44.75px;top:136.45px;width:30px;height:0.9px;background:#b4b4b4"></div><div class="t" style="left:45.2px;top:130.9px;width:29.1px;height:6px;font-size:3.4px;color:#262626;justify-content:center;text-align:center;line-height:1.4;-webkit-text-stroke:0.05px #444;">门店 A</div><div style="left:109.85px;top:130.45px;width:0.9px;height:6.9px;background:#b4b4b4"></div><div style="left:73.85px;top:136.45px;width:36.9px;height:0.9px;background:#b4b4b4"></div><div class="t" style="left:74.3px;top:130.9px;width:36px;height:6px;font-size:3.4px;color:#262626;justify-content:center;text-align:center;line-height:1.4;-webkit-text-stroke:0.05px #444;">500</div><div style="left:137.25px;top:130.45px;width:0.9px;height:6.9px;background:#b4b4b4"></div><div style="left:109.85px;top:136.45px;width:28.3px;height:0.9px;background:#b4b4b4"></div><div class="t" style="left:110.3px;top:130.9px;width:27.4px;height:6px;font-size:3.4px;color:#262626;justify-content:center;text-align:center;line-height:1.4;-webkit-text-stroke:0.05px #444;">300</div><div style="left:160.05px;top:130.45px;width:0.9px;height:6.9px;background:#b4b4b4"></div><div style="left:137.25px;top:136.45px;width:23.7px;height:0.9px;background:#b4b4b4"></div><div class="t" style="left:137.7px;top:130.9px;width:22.8px;height:6px;font-size:3.4px;color:#262626;justify-content:center;text-align:center;line-height:1.4;-webkit-text-stroke:0.05px #444;">60%</div><div style="left:185.75px;top:130.45px;width:0.9px;height:6.9px;background:#b4b4b4"></div><div style="left:160.05px;top:136.45px;width:26.6px;height:0.9px;background:#b4b4b4"></div><div class="t" style="left:160.5px;top:130.9px;width:25.7px;height:6px;font-size:3.4px;color:#262626;justify-content:center;text-align:center;line-height:1.4;-webkit-text-stroke:0.05px #444;">50</div><div style="left:211.25px;top:130.45px;width:0.9px;height:6.9px;background:#b4b4b4"></div><div style="left:185.75px;top:136.45px;width:26.4px;height:0.9px;background:#b4b4b4"></div><div class="t" style="left:186.2px;top:130.9px;width:25.5px;height:6px;font-size:3.4px;color:#262626;justify-content:center;text-align:center;line-height:1.4;-webkit-text-stroke:0.05px #444;">30</div><div style="left:228.55px;top:130.45px;width:0.9px;height:6.9px;background:#b4b4b4"></div><div style="left:211.25px;top:136.45px;width:18.2px;height:0.9px;background:#b4b4b4"></div><div class="t" style="left:211.7px;top:130.9px;width:17.3px;height:6px;font-size:3.4px;color:#262626;justify-content:center;text-align:center;line-height:1.4;-webkit-text-stroke:0.05px #444;">60%</div><div style="left:247.25px;top:130.45px;width:0.9px;height:6.9px;background:#b4b4b4"></div><div style="left:228.55px;top:136.45px;width:19.6px;height:0.9px;background:#b4b4b4"></div><div class="t" style="left:229px;top:130.9px;width:18.7px;height:6px;font-size:3.4px;color:#262626;justify-content:center;text-align:center;line-height:1.4;-webkit-text-stroke:0.05px #444;">50</div><div style="left:265.25px;top:130.45px;width:0.9px;height:6.9px;background:#b4b4b4"></div><div style="left:247.25px;top:136.45px;width:18.9px;height:0.9px;background:#b4b4b4"></div><div class="t" style="left:247.7px;top:130.9px;width:18px;height:6px;font-size:3.4px;color:#262626;justify-content:center;text-align:center;line-height:1.4;-webkit-text-stroke:0.05px #444;">30</div><div style="left:286.95px;top:130.45px;width:0.9px;height:6.9px;background:#b4b4b4"></div><div style="left:265.25px;top:136.45px;width:22.6px;height:0.9px;background:#b4b4b4"></div><div class="t" style="left:265.7px;top:130.9px;width:21.7px;height:6px;font-size:3.4px;color:#262626;justify-content:center;text-align:center;line-height:1.4;-webkit-text-stroke:0.05px #444;">60%</div><div style="left:304.95px;top:130.45px;width:0.9px;height:6.9px;background:#b4b4b4"></div><div style="left:286.95px;top:136.45px;width:18.9px;height:0.9px;background:#b4b4b4"></div><div class="t" style="left:287.4px;top:130.9px;width:18px;height:6px;font-size:3.4px;color:#262626;justify-content:center;text-align:center;line-height:1.4;-webkit-text-stroke:0.05px #444;">D</div><div style="left:73.85px;top:136.45px;width:0.9px;height:6.9px;background:#b4b4b4"></div><div style="left:44.75px;top:142.45px;width:30px;height:0.9px;background:#b4b4b4"></div><div class="t" style="left:45.2px;top:136.9px;width:29.1px;height:6px;font-size:3.4px;color:#262626;justify-content:center;text-align:center;line-height:1.4;-webkit-text-stroke:0.05px #444;">门店 B</div><div style="left:109.85px;top:136.45px;width:0.9px;height:6.9px;background:#b4b4b4"></div><div style="left:73.85px;top:142.45px;width:36.9px;height:0.9px;background:#b4b4b4"></div><div class="t" style="left:74.3px;top:136.9px;width:36px;height:6px;font-size:3.4px;color:#262626;justify-content:center;text-align:center;line-height:1.4;-webkit-text-stroke:0.05px #444;">400</div><div style="left:137.25px;top:136.45px;width:0.9px;height:6.9px;background:#b4b4b4"></div><div style="left:109.85px;top:142.45px;width:28.3px;height:0.9px;background:#b4b4b4"></div><div class="t" style="left:110.3px;top:136.9px;width:27.4px;height:6px;font-size:3.4px;color:#262626;justify-content:center;text-align:center;line-height:1.4;-webkit-text-stroke:0.05px #444;">300</div><div style="left:160.05px;top:136.45px;width:0.9px;height:6.9px;background:#b4b4b4"></div><div style="left:137.25px;top:142.45px;width:23.7px;height:0.9px;background:#b4b4b4"></div><div class="t" style="left:137.7px;top:136.9px;width:22.8px;height:6px;font-size:3.4px;color:#262626;justify-content:center;text-align:center;line-height:1.4;-webkit-text-stroke:0.05px #444;">75%</div><div style="left:185.75px;top:136.45px;width:0.9px;height:6.9px;background:#b4b4b4"></div><div style="left:160.05px;top:142.45px;width:26.6px;height:0.9px;background:#b4b4b4"></div><div class="t" style="left:160.5px;top:136.9px;width:25.7px;height:6px;font-size:3.4px;color:#262626;justify-content:center;text-align:center;line-height:1.4;-webkit-text-stroke:0.05px #444;">40</div><div style="left:211.25px;top:136.45px;width:0.9px;height:6.9px;background:#b4b4b4"></div><div style="left:185.75px;top:142.45px;width:26.4px;height:0.9px;background:#b4b4b4"></div><div class="t" style="left:186.2px;top:136.9px;width:25.5px;height:6px;font-size:3.4px;color:#262626;justify-content:center;text-align:center;line-height:1.4;-webkit-text-stroke:0.05px #444;">30</div><div style="left:228.55px;top:136.45px;width:0.9px;height:6.9px;background:#b4b4b4"></div><div style="left:211.25px;top:142.45px;width:18.2px;height:0.9px;background:#b4b4b4"></div><div class="t" style="left:211.7px;top:136.9px;width:17.3px;height:6px;font-size:3.4px;color:#262626;justify-content:center;text-align:center;line-height:1.4;-webkit-text-stroke:0.05px #444;">75%</div><div style="left:247.25px;top:136.45px;width:0.9px;height:6.9px;background:#b4b4b4"></div><div style="left:228.55px;top:142.45px;width:19.6px;height:0.9px;background:#b4b4b4"></div><div class="t" style="left:229px;top:136.9px;width:18.7px;height:6px;font-size:3.4px;color:#262626;justify-content:center;text-align:center;line-height:1.4;-webkit-text-stroke:0.05px #444;">40</div><div style="left:265.25px;top:136.45px;width:0.9px;height:6.9px;background:#b4b4b4"></div><div style="left:247.25px;top:142.45px;width:18.9px;height:0.9px;background:#b4b4b4"></div><div class="t" style="left:247.7px;top:136.9px;width:18px;height:6px;font-size:3.4px;color:#262626;justify-content:center;text-align:center;line-height:1.4;-webkit-text-stroke:0.05px #444;">30</div><div style="left:286.95px;top:136.45px;width:0.9px;height:6.9px;background:#b4b4b4"></div><div style="left:265.25px;top:142.45px;width:22.6px;height:0.9px;background:#b4b4b4"></div><div class="t" style="left:265.7px;top:136.9px;width:21.7px;height:6px;font-size:3.4px;color:#262626;justify-content:center;text-align:center;line-height:1.4;-webkit-text-stroke:0.05px #444;">75%</div><div style="left:304.95px;top:136.45px;width:0.9px;height:6.9px;background:#b4b4b4"></div><div style="left:286.95px;top:142.45px;width:18.9px;height:0.9px;background:#b4b4b4"></div><div class="t" style="left:287.4px;top:136.9px;width:18px;height:6px;font-size:3.4px;color:#262626;justify-content:center;text-align:center;line-height:1.4;-webkit-text-stroke:0.05px #444;">C</div><div style="left:73.85px;top:142.45px;width:0.9px;height:6.9px;background:#b4b4b4"></div><div style="left:44.75px;top:148.45px;width:30px;height:0.9px;background:#b4b4b4"></div><div class="t" style="left:45.2px;top:142.9px;width:29.1px;height:6px;font-size:3.4px;color:#262626;justify-content:center;text-align:center;line-height:1.4;-webkit-text-stroke:0.05px #444;">门店 C</div><div style="left:109.85px;top:142.45px;width:0.9px;height:6.9px;background:#b4b4b4"></div><div style="left:73.85px;top:148.45px;width:36.9px;height:0.9px;background:#b4b4b4"></div><div class="t" style="left:74.3px;top:142.9px;width:36px;height:6px;font-size:3.4px;color:#262626;justify-content:center;text-align:center;line-height:1.4;-webkit-text-stroke:0.05px #444;">200</div><div style="left:137.25px;top:142.45px;width:0.9px;height:6.9px;background:#b4b4b4"></div><div style="left:109.85px;top:148.45px;width:28.3px;height:0.9px;background:#b4b4b4"></div><div class="t" style="left:110.3px;top:142.9px;width:27.4px;height:6px;font-size:3.4px;color:#262626;justify-content:center;text-align:center;line-height:1.4;-webkit-text-stroke:0.05px #444;">200</div><div style="left:160.05px;top:142.45px;width:0.9px;height:6.9px;background:#b4b4b4"></div><div style="left:137.25px;top:148.45px;width:23.7px;height:0.9px;background:#b4b4b4"></div><div class="t" style="left:137.7px;top:142.9px;width:22.8px;height:6px;font-size:3.4px;color:#262626;justify-content:center;text-align:center;line-height:1.4;-webkit-text-stroke:0.05px #444;">100%</div><div style="left:185.75px;top:142.45px;width:0.9px;height:6.9px;background:#b4b4b4"></div><div style="left:160.05px;top:148.45px;width:26.6px;height:0.9px;background:#b4b4b4"></div><div class="t" style="left:160.5px;top:142.9px;width:25.7px;height:6px;font-size:3.4px;color:#262626;justify-content:center;text-align:center;line-height:1.4;-webkit-text-stroke:0.05px #444;">20</div><div style="left:211.25px;top:142.45px;width:0.9px;height:6.9px;background:#b4b4b4"></div><div style="left:185.75px;top:148.45px;width:26.4px;height:0.9px;background:#b4b4b4"></div><div class="t" style="left:186.2px;top:142.9px;width:25.5px;height:6px;font-size:3.4px;color:#262626;justify-content:center;text-align:center;line-height:1.4;-webkit-text-stroke:0.05px #444;">20</div><div style="left:228.55px;top:142.45px;width:0.9px;height:6.9px;background:#b4b4b4"></div><div style="left:211.25px;top:148.45px;width:18.2px;height:0.9px;background:#b4b4b4"></div><div class="t" style="left:211.7px;top:142.9px;width:17.3px;height:6px;font-size:3.4px;color:#262626;justify-content:center;text-align:center;line-height:1.4;-webkit-text-stroke:0.05px #444;">100%</div><div style="left:247.25px;top:142.45px;width:0.9px;height:6.9px;background:#b4b4b4"></div><div style="left:228.55px;top:148.45px;width:19.6px;height:0.9px;background:#b4b4b4"></div><div class="t" style="left:229px;top:142.9px;width:18.7px;height:6px;font-size:3.4px;color:#262626;justify-content:center;text-align:center;line-height:1.4;-webkit-text-stroke:0.05px #444;">20</div><div style="left:265.25px;top:142.45px;width:0.9px;height:6.9px;background:#b4b4b4"></div><div style="left:247.25px;top:148.45px;width:18.9px;height:0.9px;background:#b4b4b4"></div><div class="t" style="left:247.7px;top:142.9px;width:18px;height:6px;font-size:3.4px;color:#262626;justify-content:center;text-align:center;line-height:1.4;-webkit-text-stroke:0.05px #444;">20</div><div style="left:286.95px;top:142.45px;width:0.9px;height:6.9px;background:#b4b4b4"></div><div style="left:265.25px;top:148.45px;width:22.6px;height:0.9px;background:#b4b4b4"></div><div class="t" style="left:265.7px;top:142.9px;width:21.7px;height:6px;font-size:3.4px;color:#262626;justify-content:center;text-align:center;line-height:1.4;-webkit-text-stroke:0.05px #444;">100%</div><div style="left:304.95px;top:142.45px;width:0.9px;height:6.9px;background:#b4b4b4"></div><div style="left:286.95px;top:148.45px;width:18.9px;height:0.9px;background:#b4b4b4"></div><div class="t" style="left:287.4px;top:142.9px;width:18px;height:6px;font-size:3.4px;color:#262626;justify-content:center;text-align:center;line-height:1.4;-webkit-text-stroke:0.05px #444;">A</div><div style="left:73.85px;top:148.45px;width:0.9px;height:6.9px;background:#b4b4b4"></div><div style="left:44.75px;top:154.45px;width:30px;height:0.9px;background:#b4b4b4"></div><div class="t" style="left:45.2px;top:148.9px;width:29.1px;height:6px;font-size:3.4px;color:#262626;justify-content:center;text-align:center;line-height:1.4;-webkit-text-stroke:0.05px #444;">门店 D</div><div style="left:109.85px;top:148.45px;width:0.9px;height:6.9px;background:#b4b4b4"></div><div style="left:73.85px;top:154.45px;width:36.9px;height:0.9px;background:#b4b4b4"></div><div class="t" style="left:74.3px;top:148.9px;width:36px;height:6px;font-size:3.4px;color:#262626;justify-content:center;text-align:center;line-height:1.4;-webkit-text-stroke:0.05px #444;">80</div><div style="left:137.25px;top:148.45px;width:0.9px;height:6.9px;background:#b4b4b4"></div><div style="left:109.85px;top:154.45px;width:28.3px;height:0.9px;background:#b4b4b4"></div><div class="t" style="left:110.3px;top:148.9px;width:27.4px;height:6px;font-size:3.4px;color:#262626;justify-content:center;text-align:center;line-height:1.4;-webkit-text-stroke:0.05px #444;">70</div><div style="left:160.05px;top:148.45px;width:0.9px;height:6.9px;background:#b4b4b4"></div><div style="left:137.25px;top:154.45px;width:23.7px;height:0.9px;background:#b4b4b4"></div><div class="t" style="left:137.7px;top:148.9px;width:22.8px;height:6px;font-size:3.4px;color:#262626;justify-content:center;text-align:center;line-height:1.4;-webkit-text-stroke:0.05px #444;">87.5%</div><div style="left:185.75px;top:148.45px;width:0.9px;height:6.9px;background:#b4b4b4"></div><div style="left:160.05px;top:154.45px;width:26.6px;height:0.9px;background:#b4b4b4"></div><div class="t" style="left:160.5px;top:148.9px;width:25.7px;height:6px;font-size:3.4px;color:#262626;justify-content:center;text-align:center;line-height:1.4;-webkit-text-stroke:0.05px #444;">8</div><div style="left:211.25px;top:148.45px;width:0.9px;height:6.9px;background:#b4b4b4"></div><div style="left:185.75px;top:154.45px;width:26.4px;height:0.9px;background:#b4b4b4"></div><div class="t" style="left:186.2px;top:148.9px;width:25.5px;height:6px;font-size:3.4px;color:#262626;justify-content:center;text-align:center;line-height:1.4;-webkit-text-stroke:0.05px #444;">70</div><div style="left:228.55px;top:148.45px;width:0.9px;height:6.9px;background:#b4b4b4"></div><div style="left:211.25px;top:154.45px;width:18.2px;height:0.9px;background:#b4b4b4"></div><div class="t" style="left:211.7px;top:148.9px;width:17.3px;height:6px;font-size:3.4px;color:#262626;justify-content:center;text-align:center;line-height:1.4;-webkit-text-stroke:0.05px #444;">87.5%</div><div style="left:247.25px;top:148.45px;width:0.9px;height:6.9px;background:#b4b4b4"></div><div style="left:228.55px;top:154.45px;width:19.6px;height:0.9px;background:#b4b4b4"></div><div class="t" style="left:229px;top:148.9px;width:18.7px;height:6px;font-size:3.4px;color:#262626;justify-content:center;text-align:center;line-height:1.4;-webkit-text-stroke:0.05px #444;">8</div><div style="left:265.25px;top:148.45px;width:0.9px;height:6.9px;background:#b4b4b4"></div><div style="left:247.25px;top:154.45px;width:18.9px;height:0.9px;background:#b4b4b4"></div><div class="t" style="left:247.7px;top:148.9px;width:18px;height:6px;font-size:3.4px;color:#262626;justify-content:center;text-align:center;line-height:1.4;-webkit-text-stroke:0.05px #444;">70</div><div style="left:286.95px;top:148.45px;width:0.9px;height:6.9px;background:#b4b4b4"></div><div style="left:265.25px;top:154.45px;width:22.6px;height:0.9px;background:#b4b4b4"></div><div class="t" style="left:265.7px;top:148.9px;width:21.7px;height:6px;font-size:3.4px;color:#262626;justify-content:center;text-align:center;line-height:1.4;-webkit-text-stroke:0.05px #444;">87.5%</div><div style="left:304.95px;top:148.45px;width:0.9px;height:6.9px;background:#b4b4b4"></div><div style="left:286.95px;top:154.45px;width:18.9px;height:0.9px;background:#b4b4b4"></div><div class="t" style="left:287.4px;top:148.9px;width:18px;height:6px;font-size:3.4px;color:#262626;justify-content:center;text-align:center;line-height:1.4;-webkit-text-stroke:0.05px #444;">B</div><div style="left:73.85px;top:154.45px;width:0.9px;height:6.9px;background:#b4b4b4"></div><div style="left:44.75px;top:160.45px;width:30px;height:0.9px;background:#b4b4b4"></div><div class="t" style="left:45.2px;top:154.9px;width:29.1px;height:6px;font-size:3.4px;color:#262626;justify-content:center;text-align:center;line-height:1.4;-webkit-text-stroke:0.05px #444;">门店 E</div><div style="left:109.85px;top:154.45px;width:0.9px;height:6.9px;background:#b4b4b4"></div><div style="left:73.85px;top:160.45px;width:36.9px;height:0.9px;background:#b4b4b4"></div><div class="t" style="left:74.3px;top:154.9px;width:36px;height:6px;font-size:3.4px;color:#262626;justify-content:center;text-align:center;line-height:1.4;-webkit-text-stroke:0.05px #444;">1000</div><div style="left:137.25px;top:154.45px;width:0.9px;height:6.9px;background:#b4b4b4"></div><div style="left:109.85px;top:160.45px;width:28.3px;height:0.9px;background:#b4b4b4"></div><div class="t" style="left:110.3px;top:154.9px;width:27.4px;height:6px;font-size:3.4px;color:#262626;justify-content:center;text-align:center;line-height:1.4;-webkit-text-stroke:0.05px #444;">800</div><div style="left:160.05px;top:154.45px;width:0.9px;height:6.9px;background:#b4b4b4"></div><div style="left:137.25px;top:160.45px;width:23.7px;height:0.9px;background:#b4b4b4"></div><div class="t" style="left:137.7px;top:154.9px;width:22.8px;height:6px;font-size:3.4px;color:#262626;justify-content:center;text-align:center;line-height:1.4;-webkit-text-stroke:0.05px #444;">80%</div><div style="left:185.75px;top:154.45px;width:0.9px;height:6.9px;background:#b4b4b4"></div><div style="left:160.05px;top:160.45px;width:26.6px;height:0.9px;background:#b4b4b4"></div><div class="t" style="left:160.5px;top:154.9px;width:25.7px;height:6px;font-size:3.4px;color:#262626;justify-content:center;text-align:center;line-height:1.4;-webkit-text-stroke:0.05px #444;">100</div><div style="left:211.25px;top:154.45px;width:0.9px;height:6.9px;background:#b4b4b4"></div><div style="left:185.75px;top:160.45px;width:26.4px;height:0.9px;background:#b4b4b4"></div><div class="t" style="left:186.2px;top:154.9px;width:25.5px;height:6px;font-size:3.4px;color:#262626;justify-content:center;text-align:center;line-height:1.4;-webkit-text-stroke:0.05px #444;">100</div><div style="left:228.55px;top:154.45px;width:0.9px;height:6.9px;background:#b4b4b4"></div><div style="left:211.25px;top:160.45px;width:18.2px;height:0.9px;background:#b4b4b4"></div><div class="t" style="left:211.7px;top:154.9px;width:17.3px;height:6px;font-size:3.4px;color:#262626;justify-content:center;text-align:center;line-height:1.4;-webkit-text-stroke:0.05px #444;">100%</div><div style="left:247.25px;top:154.45px;width:0.9px;height:6.9px;background:#b4b4b4"></div><div style="left:228.55px;top:160.45px;width:19.6px;height:0.9px;background:#b4b4b4"></div><div class="t" style="left:229px;top:154.9px;width:18.7px;height:6px;font-size:3.4px;color:#262626;justify-content:center;text-align:center;line-height:1.4;-webkit-text-stroke:0.05px #444;">100</div><div style="left:265.25px;top:154.45px;width:0.9px;height:6.9px;background:#b4b4b4"></div><div style="left:247.25px;top:160.45px;width:18.9px;height:0.9px;background:#b4b4b4"></div><div class="t" style="left:247.7px;top:154.9px;width:18px;height:6px;font-size:3.4px;color:#262626;justify-content:center;text-align:center;line-height:1.4;-webkit-text-stroke:0.05px #444;">100</div><div style="left:286.95px;top:154.45px;width:0.9px;height:6.9px;background:#b4b4b4"></div><div style="left:265.25px;top:160.45px;width:22.6px;height:0.9px;background:#b4b4b4"></div><div class="t" style="left:265.7px;top:154.9px;width:21.7px;height:6px;font-size:3.4px;color:#262626;justify-content:center;text-align:center;line-height:1.4;-webkit-text-stroke:0.05px #444;">100%</div><div style="left:304.95px;top:154.45px;width:0.9px;height:6.9px;background:#b4b4b4"></div><div style="left:286.95px;top:160.45px;width:18.9px;height:0.9px;background:#b4b4b4"></div><div class="t" style="left:287.4px;top:154.9px;width:18px;height:6px;font-size:3.4px;color:#262626;justify-content:center;text-align:center;line-height:1.4;-webkit-text-stroke:0.05px #444;">B</div><div style="left:73.85px;top:160.45px;width:0.9px;height:6.9px;background:#b4b4b4"></div><div style="left:23.75px;top:166.45px;width:51px;height:0.9px;background:#b4b4b4"></div><div class="t" style="left:24.2px;top:160.9px;width:50.1px;height:6px;font-size:3.4px;color:#262626;justify-content:center;text-align:center;line-height:1.4;-webkit-text-stroke:0.05px #444;">合计</div><div style="left:109.85px;top:160.45px;width:0.9px;height:6.9px;background:#b4b4b4"></div><div style="left:73.85px;top:166.45px;width:36.9px;height:0.9px;background:#b4b4b4"></div><div class="t" style="left:74.3px;top:160.9px;width:36px;height:6px;font-size:3.4px;color:#262626;justify-content:center;text-align:center;line-height:1.4;-webkit-text-stroke:0.05px #444;">2180</div><div style="left:137.25px;top:160.45px;width:0.9px;height:6.9px;background:#b4b4b4"></div><div style="left:109.85px;top:166.45px;width:28.3px;height:0.9px;background:#b4b4b4"></div><div class="t" style="left:110.3px;top:160.9px;width:27.4px;height:6px;font-size:3.4px;color:#262626;justify-content:center;text-align:center;line-height:1.4;-webkit-text-stroke:0.05px #444;">1670</div><div style="left:160.05px;top:160.45px;width:0.9px;height:6.9px;background:#b4b4b4"></div><div style="left:137.25px;top:166.45px;width:23.7px;height:0.9px;background:#b4b4b4"></div><div class="t" style="left:137.7px;top:160.9px;width:22.8px;height:6px;font-size:3.4px;color:#262626;justify-content:center;text-align:center;line-height:1.4;-webkit-text-stroke:0.05px #444;">76%</div><div style="left:185.75px;top:160.45px;width:0.9px;height:6.9px;background:#b4b4b4"></div><div style="left:160.05px;top:166.45px;width:26.6px;height:0.9px;background:#b4b4b4"></div><div class="t" style="left:160.5px;top:160.9px;width:25.7px;height:6px;font-size:3.4px;color:#262626;justify-content:center;text-align:center;line-height:1.4;-webkit-text-stroke:0.05px #444;">218</div><div style="left:211.25px;top:160.45px;width:0.9px;height:6.9px;background:#b4b4b4"></div><div style="left:185.75px;top:166.45px;width:26.4px;height:0.9px;background:#b4b4b4"></div><div class="t" style="left:186.2px;top:160.9px;width:25.5px;height:6px;font-size:3.4px;color:#262626;justify-content:center;text-align:center;line-height:1.4;-webkit-text-stroke:0.05px #444;">167</div><div style="left:228.55px;top:160.45px;width:0.9px;height:6.9px;background:#b4b4b4"></div><div style="left:211.25px;top:166.45px;width:18.2px;height:0.9px;background:#b4b4b4"></div><div class="t" style="left:211.7px;top:160.9px;width:17.3px;height:6px;font-size:3.4px;color:#262626;justify-content:center;text-align:center;line-height:1.4;-webkit-text-stroke:0.05px #444;">76%</div><div style="left:247.25px;top:160.45px;width:0.9px;height:6.9px;background:#b4b4b4"></div><div style="left:228.55px;top:166.45px;width:19.6px;height:0.9px;background:#b4b4b4"></div><div class="t" style="left:229px;top:160.9px;width:18.7px;height:6px;font-size:3.4px;color:#262626;justify-content:center;text-align:center;line-height:1.4;-webkit-text-stroke:0.05px #444;">218</div><div style="left:265.25px;top:160.45px;width:0.9px;height:6.9px;background:#b4b4b4"></div><div style="left:247.25px;top:166.45px;width:18.9px;height:0.9px;background:#b4b4b4"></div><div class="t" style="left:247.7px;top:160.9px;width:18px;height:6px;font-size:3.4px;color:#262626;justify-content:center;text-align:center;line-height:1.4;-webkit-text-stroke:0.05px #444;">167</div><div style="left:286.95px;top:160.45px;width:0.9px;height:6.9px;background:#b4b4b4"></div><div style="left:265.25px;top:166.45px;width:22.6px;height:0.9px;background:#b4b4b4"></div><div class="t" style="left:265.7px;top:160.9px;width:21.7px;height:6px;font-size:3.4px;color:#262626;justify-content:center;text-align:center;line-height:1.4;-webkit-text-stroke:0.05px #444;">76%</div><div style="left:304.95px;top:160.45px;width:0.9px;height:6.9px;background:#b4b4b4"></div><div style="left:286.95px;top:166.45px;width:18.9px;height:0.9px;background:#b4b4b4"></div><div class="t" style="left:287.4px;top:160.9px;width:18px;height:6px;font-size:3.4px;color:#262626;justify-content:center;text-align:center;line-height:1.4;-webkit-text-stroke:0.05px #444;">C</div><div style="left:23.75px;top:120.25px;width:0.9px;height:47.1px;background:#b4b4b4"></div><div style="left:23.75px;top:120.25px;width:282.1px;height:0.9px;background:#b4b4b4"></div><div class="fr"></div></div><div class="c" style="left:670px;top:130.6px;background:#fff"><div style="left:77px;top:25.5px;width:176px;height:15.4px;border-radius:7.7px;background:linear-gradient(90deg,#0f214d 0%,#172d5f 50%,#1e3870 100%);box-shadow:inset 0 0 0.7px 0.5px rgba(8,16,40,.8);"></div><div class="t" style="left:77px;top:25.5px;width:176px;height:15.4px;font-size:6.95px;color:#fff;font-weight:bold;justify-content:center;text-align:center;">8 、 2021 年区域或者城市销售目标完成情况</div><div style="left:56px;top:102.2px;width:220.6px;height:1px;background:#c8cacd"></div><div style="left:56px;top:92.2px;width:220.6px;height:1px;background:#c8cacd"></div><div style="left:56px;top:82.2px;width:220.6px;height:1px;background:#c8cacd"></div><div style="left:56px;top:72.2px;width:220.6px;height:1px;background:#c8cacd"></div><div style="left:56px;top:62.2px;width:220.6px;height:1px;background:#c8cacd"></div><div style="left:56px;top:52.2px;width:220.6px;height:1px;background:#c8cacd"></div><div style="left:56px;top:42.2px;width:220.6px;height:1px;background:#c8cacd"></div><div style="left:61.2px;top:77.7px;width:4.35px;height:25px;background:#4472c4"></div><div style="left:67.05px;top:87.7px;width:4.35px;height:15px;background:#ed7d31"></div><div style="left:72.9px;top:100.2px;width:4.35px;height:2.5px;background:#a5a5a5"></div><div style="left:78.75px;top:101.2px;width:4.35px;height:1.5px;background:#ffc000"></div><div style="left:84.6px;top:100.2px;width:4.35px;height:2.5px;background:#5b9bd5"></div><div style="left:90.45px;top:101.2px;width:4.35px;height:1.5px;background:#70ad47"></div><div class="t" style="left:56px;top:103.1px;width:44.2px;height:6px;font-size:3.6px;color:#404040;justify-content:center;text-align:center;-webkit-text-stroke:0.1px #555;">华北</div><div style="left:105.4px;top:82.7px;width:4.35px;height:20px;background:#4472c4"></div><div style="left:111.25px;top:87.7px;width:4.35px;height:15px;background:#ed7d31"></div><div style="left:117.1px;top:100.7px;width:4.35px;height:2px;background:#a5a5a5"></div><div style="left:122.95px;top:101.2px;width:4.35px;height:1.5px;background:#ffc000"></div><div style="left:128.8px;top:100.7px;width:4.35px;height:2px;background:#5b9bd5"></div><div style="left:134.65px;top:101.2px;width:4.35px;height:1.5px;background:#70ad47"></div><div class="t" style="left:100.2px;top:103.1px;width:44.2px;height:6px;font-size:3.6px;color:#404040;justify-content:center;text-align:center;-webkit-text-stroke:0.1px #555;">华南</div><div style="left:149.6px;top:92.7px;width:4.35px;height:10px;background:#4472c4"></div><div style="left:155.45px;top:92.7px;width:4.35px;height:10px;background:#ed7d31"></div><div style="left:161.3px;top:101.7px;width:4.35px;height:1px;background:#a5a5a5"></div><div style="left:167.15px;top:101.7px;width:4.35px;height:1px;background:#ffc000"></div><div style="left:173px;top:101.7px;width:4.35px;height:1px;background:#5b9bd5"></div><div style="left:178.85px;top:101.7px;width:4.35px;height:1px;background:#70ad47"></div><div class="t" style="left:144.4px;top:103.1px;width:44.2px;height:6px;font-size:3.6px;color:#404040;justify-content:center;text-align:center;-webkit-text-stroke:0.1px #555;">华东</div><div style="left:193.8px;top:98.7px;width:4.35px;height:4px;background:#4472c4"></div><div style="left:199.65px;top:99.2px;width:4.35px;height:3.5px;background:#ed7d31"></div><div style="left:205.5px;top:102.3px;width:4.35px;height:0.4px;background:#a5a5a5"></div><div style="left:211.35px;top:99.2px;width:4.35px;height:3.5px;background:#ffc000"></div><div style="left:217.2px;top:102.3px;width:4.35px;height:0.4px;background:#5b9bd5"></div><div style="left:223.05px;top:99.2px;width:4.35px;height:3.5px;background:#70ad47"></div><div class="t" style="left:188.6px;top:103.1px;width:44.2px;height:6px;font-size:3.6px;color:#404040;justify-content:center;text-align:center;-webkit-text-stroke:0.1px #555;">华中</div><div style="left:238px;top:52.7px;width:4.35px;height:50px;background:#4472c4"></div><div style="left:243.85px;top:62.7px;width:4.35px;height:40px;background:#ed7d31"></div><div style="left:249.7px;top:97.7px;width:4.35px;height:5px;background:#a5a5a5"></div><div style="left:255.55px;top:97.7px;width:4.35px;height:5px;background:#ffc000"></div><div style="left:261.4px;top:97.7px;width:4.35px;height:5px;background:#5b9bd5"></div><div style="left:267.25px;top:97.7px;width:4.35px;height:5px;background:#70ad47"></div><div class="t" style="left:232.8px;top:103.1px;width:44.2px;height:6px;font-size:3.6px;color:#404040;justify-content:center;text-align:center;-webkit-text-stroke:0.1px #555;">东北</div><div style="left:111.9px;top:113px;width:2.2px;height:2.2px;background:#4472c4"></div><div class="t" style="left:114.7px;top:111.1px;width:16.65px;height:6px;font-size:3.6px;color:#404040;justify-content:flex-start;text-align:left;-webkit-text-stroke:0.1px #555;">销售目标</div><div style="left:130.75px;top:113px;width:2.2px;height:2.2px;background:#ed7d31"></div><div class="t" style="left:133.55px;top:111.1px;width:16.65px;height:6px;font-size:3.6px;color:#404040;justify-content:flex-start;text-align:left;-webkit-text-stroke:0.1px #555;">实际完成</div><div style="left:149.6px;top:113px;width:2.2px;height:2.2px;background:#a5a5a5"></div><div class="t" style="left:152.4px;top:111.1px;width:16.65px;height:6px;font-size:3.6px;color:#404040;justify-content:flex-start;text-align:left;-webkit-text-stroke:0.1px #555;">利润目标</div><div style="left:168.45px;top:113px;width:2.2px;height:2.2px;background:#ffc000"></div><div class="t" style="left:171.25px;top:111.1px;width:16.65px;height:6px;font-size:3.6px;color:#404040;justify-content:flex-start;text-align:left;-webkit-text-stroke:0.1px #555;">利润完成</div><div style="left:187.3px;top:113px;width:2.2px;height:2.2px;background:#5b9bd5"></div><div class="t" style="left:190.1px;top:111.1px;width:16.65px;height:6px;font-size:3.6px;color:#404040;justify-content:flex-start;text-align:left;-webkit-text-stroke:0.1px #555;">投入预算</div><div style="left:206.15px;top:113px;width:2.2px;height:2.2px;background:#70ad47"></div><div class="t" style="left:208.95px;top:111.1px;width:16.65px;height:6px;font-size:3.6px;color:#404040;justify-content:flex-start;text-align:left;-webkit-text-stroke:0.1px #555;">实际投入</div><div style="left:52.85px;top:121.75px;width:0.9px;height:11.5px;background:#b4b4b4"></div><div style="left:24.75px;top:132.35px;width:29px;height:0.9px;background:#b4b4b4"></div><div class="t" style="left:25.2px;top:122.2px;width:28.1px;height:10.6px;font-size:3.6px;color:#000;font-weight:bold;justify-content:center;text-align:center;line-height:1.4;-webkit-text-stroke:0.1px #000;">模块</div><div style="left:94.95px;top:121.75px;width:0.9px;height:11.5px;background:#b4b4b4"></div><div style="left:52.85px;top:132.35px;width:43px;height:0.9px;background:#b4b4b4"></div><div class="t" style="left:53.3px;top:122.2px;width:42.1px;height:10.6px;font-size:3.6px;color:#000;font-weight:bold;justify-content:center;text-align:center;line-height:1.4;-webkit-text-stroke:0.1px #000;">团队</div><div style="left:126.25px;top:121.75px;width:0.9px;height:11.5px;background:#b4b4b4"></div><div style="left:94.95px;top:132.35px;width:32.2px;height:0.9px;background:#b4b4b4"></div><div class="t" style="left:95.4px;top:122.2px;width:31.3px;height:10.6px;font-size:3.6px;color:#000;font-weight:bold;justify-content:center;text-align:center;line-height:1.4;-webkit-text-stroke:0.1px #000;">销售目标</div><div style="left:151.75px;top:121.75px;width:0.9px;height:11.5px;background:#b4b4b4"></div><div style="left:126.25px;top:132.35px;width:26.4px;height:0.9px;background:#b4b4b4"></div><div class="t" style="left:126.7px;top:122.2px;width:25.5px;height:10.6px;font-size:3.6px;color:#000;font-weight:bold;justify-content:center;text-align:center;line-height:1.4;-webkit-text-stroke:0.1px #000;">实际完成</div><div style="left:172.75px;top:121.75px;width:0.9px;height:11.5px;background:#b4b4b4"></div><div style="left:151.75px;top:132.35px;width:21.9px;height:0.9px;background:#b4b4b4"></div><div class="t" style="left:152.2px;top:122.2px;width:21px;height:10.6px;font-size:3.6px;color:#000;font-weight:bold;justify-content:center;text-align:center;line-height:1.4;-webkit-text-stroke:0.1px #000;">完成率</div><div style="left:190.05px;top:121.75px;width:0.9px;height:11.5px;background:#b4b4b4"></div><div style="left:172.75px;top:132.35px;width:18.2px;height:0.9px;background:#b4b4b4"></div><div class="t" style="left:173.2px;top:122.2px;width:17.3px;height:10.6px;font-size:3.6px;color:#000;font-weight:bold;justify-content:center;text-align:center;line-height:1.4;-webkit-text-stroke:0.1px #000;">利润目标</div><div style="left:216.75px;top:121.75px;width:0.9px;height:11.5px;background:#b4b4b4"></div><div style="left:190.05px;top:132.35px;width:27.6px;height:0.9px;background:#b4b4b4"></div><div class="t" style="left:190.5px;top:122.2px;width:26.7px;height:10.6px;font-size:3.6px;color:#000;font-weight:bold;justify-content:center;text-align:center;line-height:1.4;-webkit-text-stroke:0.1px #000;">利润实际完成</div><div style="left:229.35px;top:121.75px;width:0.9px;height:11.5px;background:#b4b4b4"></div><div style="left:216.75px;top:132.35px;width:13.5px;height:0.9px;background:#b4b4b4"></div><div class="t" style="left:217.2px;top:122.2px;width:12.6px;height:10.6px;font-size:3.6px;color:#000;font-weight:bold;justify-content:center;text-align:center;line-height:1.4;-webkit-text-stroke:0.1px #000;">达成率</div><div style="left:246.75px;top:121.75px;width:0.9px;height:11.5px;background:#b4b4b4"></div><div style="left:229.35px;top:132.35px;width:18.3px;height:0.9px;background:#b4b4b4"></div><div class="t" style="left:229.8px;top:122.2px;width:17.4px;height:10.6px;font-size:3.6px;color:#000;font-weight:bold;justify-content:center;text-align:center;line-height:1.4;-webkit-text-stroke:0.1px #000;">投入预算</div><div style="left:267.65px;top:121.75px;width:0.9px;height:11.5px;background:#b4b4b4"></div><div style="left:246.75px;top:132.35px;width:21.8px;height:0.9px;background:#b4b4b4"></div><div class="t" style="left:247.2px;top:122.2px;width:20.9px;height:10.6px;font-size:3.6px;color:#000;font-weight:bold;justify-content:center;text-align:center;line-height:1.4;-webkit-text-stroke:0.1px #000;">实际投入</div><div style="left:288.95px;top:121.75px;width:0.9px;height:11.5px;background:#b4b4b4"></div><div style="left:267.65px;top:132.35px;width:22.2px;height:0.9px;background:#b4b4b4"></div><div class="t" style="left:268.1px;top:122.2px;width:21.3px;height:10.6px;font-size:3.6px;color:#000;font-weight:bold;justify-content:center;text-align:center;line-height:1.4;-webkit-text-stroke:0.1px #000;">投入产出比</div><div style="left:303.95px;top:121.75px;width:0.9px;height:11.5px;background:#b4b4b4"></div><div style="left:288.95px;top:132.35px;width:15.9px;height:0.9px;background:#b4b4b4"></div><div class="t" style="left:289.4px;top:122.2px;width:15px;height:10.6px;font-size:3.6px;color:#000;font-weight:bold;justify-content:center;text-align:center;line-height:1.4;-webkit-text-stroke:0.1px #000;">整体贡献</div><div style="left:52.85px;top:132.35px;width:0.9px;height:30.9px;background:#b4b4b4"></div><div style="left:24.75px;top:162.35px;width:29px;height:0.9px;background:#b4b4b4"></div><div class="t" style="left:25.2px;top:132.8px;width:28.1px;height:30px;font-size:3.4px;color:#262626;justify-content:center;text-align:center;line-height:1.4;-webkit-text-stroke:0.05px #444;">区域<br>完成<br>情况</div><div style="left:94.95px;top:132.35px;width:0.9px;height:6px;background:#b4b4b4"></div><div style="left:52.85px;top:137.45px;width:43px;height:0.9px;background:#b4b4b4"></div><div class="t" style="left:53.3px;top:132.8px;width:42.1px;height:5.1px;font-size:3.4px;color:#262626;justify-content:center;text-align:center;line-height:1.4;-webkit-text-stroke:0.05px #444;">华北</div><div style="left:126.25px;top:132.35px;width:0.9px;height:6px;background:#b4b4b4"></div><div style="left:94.95px;top:137.45px;width:32.2px;height:0.9px;background:#b4b4b4"></div><div class="t" style="left:95.4px;top:132.8px;width:31.3px;height:5.1px;font-size:3.4px;color:#262626;justify-content:center;text-align:center;line-height:1.4;-webkit-text-stroke:0.05px #444;">500</div><div style="left:151.75px;top:132.35px;width:0.9px;height:6px;background:#b4b4b4"></div><div style="left:126.25px;top:137.45px;width:26.4px;height:0.9px;background:#b4b4b4"></div><div class="t" style="left:126.7px;top:132.8px;width:25.5px;height:5.1px;font-size:3.4px;color:#262626;justify-content:center;text-align:center;line-height:1.4;-webkit-text-stroke:0.05px #444;">300</div><div style="left:172.75px;top:132.35px;width:0.9px;height:6px;background:#b4b4b4"></div><div style="left:151.75px;top:137.45px;width:21.9px;height:0.9px;background:#b4b4b4"></div><div class="t" style="left:152.2px;top:132.8px;width:21px;height:5.1px;font-size:3.4px;color:#262626;justify-content:center;text-align:center;line-height:1.4;-webkit-text-stroke:0.05px #444;">60%</div><div style="left:190.05px;top:132.35px;width:0.9px;height:6px;background:#b4b4b4"></div><div style="left:172.75px;top:137.45px;width:18.2px;height:0.9px;background:#b4b4b4"></div><div class="t" style="left:173.2px;top:132.8px;width:17.3px;height:5.1px;font-size:3.4px;color:#262626;justify-content:center;text-align:center;line-height:1.4;-webkit-text-stroke:0.05px #444;">50</div><div style="left:216.75px;top:132.35px;width:0.9px;height:6px;background:#b4b4b4"></div><div style="left:190.05px;top:137.45px;width:27.6px;height:0.9px;background:#b4b4b4"></div><div class="t" style="left:190.5px;top:132.8px;width:26.7px;height:5.1px;font-size:3.4px;color:#262626;justify-content:center;text-align:center;line-height:1.4;-webkit-text-stroke:0.05px #444;">30</div><div style="left:229.35px;top:132.35px;width:0.9px;height:6px;background:#b4b4b4"></div><div style="left:216.75px;top:137.45px;width:13.5px;height:0.9px;background:#b4b4b4"></div><div class="t" style="left:217.2px;top:132.8px;width:12.6px;height:5.1px;font-size:3.4px;color:#262626;justify-content:center;text-align:center;line-height:1.4;-webkit-text-stroke:0.05px #444;">60%</div><div style="left:246.75px;top:132.35px;width:0.9px;height:6px;background:#b4b4b4"></div><div style="left:229.35px;top:137.45px;width:18.3px;height:0.9px;background:#b4b4b4"></div><div class="t" style="left:229.8px;top:132.8px;width:17.4px;height:5.1px;font-size:3.4px;color:#262626;justify-content:center;text-align:center;line-height:1.4;-webkit-text-stroke:0.05px #444;">50</div><div style="left:267.65px;top:132.35px;width:0.9px;height:6px;background:#b4b4b4"></div><div style="left:246.75px;top:137.45px;width:21.8px;height:0.9px;background:#b4b4b4"></div><div class="t" style="left:247.2px;top:132.8px;width:20.9px;height:5.1px;font-size:3.4px;color:#262626;justify-content:center;text-align:center;line-height:1.4;-webkit-text-stroke:0.05px #444;">30</div><div style="left:288.95px;top:132.35px;width:0.9px;height:6px;background:#b4b4b4"></div><div style="left:267.65px;top:137.45px;width:22.2px;height:0.9px;background:#b4b4b4"></div><div class="t" style="left:268.1px;top:132.8px;width:21.3px;height:5.1px;font-size:3.4px;color:#262626;justify-content:center;text-align:center;line-height:1.4;-webkit-text-stroke:0.05px #444;">60%</div><div style="left:303.95px;top:132.35px;width:0.9px;height:6px;background:#b4b4b4"></div><div style="left:288.95px;top:137.45px;width:15.9px;height:0.9px;background:#b4b4b4"></div><div class="t" style="left:289.4px;top:132.8px;width:15px;height:5.1px;font-size:3.4px;color:#262626;justify-content:center;text-align:center;line-height:1.4;-webkit-text-stroke:0.05px #444;">D</div><div style="left:94.95px;top:137.45px;width:0.9px;height:6.6px;background:#b4b4b4"></div><div style="left:52.85px;top:143.15px;width:43px;height:0.9px;background:#b4b4b4"></div><div class="t" style="left:53.3px;top:137.9px;width:42.1px;height:5.7px;font-size:3.4px;color:#262626;justify-content:center;text-align:center;line-height:1.4;-webkit-text-stroke:0.05px #444;">华南</div><div style="left:126.25px;top:137.45px;width:0.9px;height:6.6px;background:#b4b4b4"></div><div style="left:94.95px;top:143.15px;width:32.2px;height:0.9px;background:#b4b4b4"></div><div class="t" style="left:95.4px;top:137.9px;width:31.3px;height:5.7px;font-size:3.4px;color:#262626;justify-content:center;text-align:center;line-height:1.4;-webkit-text-stroke:0.05px #444;">400</div><div style="left:151.75px;top:137.45px;width:0.9px;height:6.6px;background:#b4b4b4"></div><div style="left:126.25px;top:143.15px;width:26.4px;height:0.9px;background:#b4b4b4"></div><div class="t" style="left:126.7px;top:137.9px;width:25.5px;height:5.7px;font-size:3.4px;color:#262626;justify-content:center;text-align:center;line-height:1.4;-webkit-text-stroke:0.05px #444;">300</div><div style="left:172.75px;top:137.45px;width:0.9px;height:6.6px;background:#b4b4b4"></div><div style="left:151.75px;top:143.15px;width:21.9px;height:0.9px;background:#b4b4b4"></div><div class="t" style="left:152.2px;top:137.9px;width:21px;height:5.7px;font-size:3.4px;color:#262626;justify-content:center;text-align:center;line-height:1.4;-webkit-text-stroke:0.05px #444;">75%</div><div style="left:190.05px;top:137.45px;width:0.9px;height:6.6px;background:#b4b4b4"></div><div style="left:172.75px;top:143.15px;width:18.2px;height:0.9px;background:#b4b4b4"></div><div class="t" style="left:173.2px;top:137.9px;width:17.3px;height:5.7px;font-size:3.4px;color:#262626;justify-content:center;text-align:center;line-height:1.4;-webkit-text-stroke:0.05px #444;">40</div><div style="left:216.75px;top:137.45px;width:0.9px;height:6.6px;background:#b4b4b4"></div><div style="left:190.05px;top:143.15px;width:27.6px;height:0.9px;background:#b4b4b4"></div><div class="t" style="left:190.5px;top:137.9px;width:26.7px;height:5.7px;font-size:3.4px;color:#262626;justify-content:center;text-align:center;line-height:1.4;-webkit-text-stroke:0.05px #444;">30</div><div style="left:229.35px;top:137.45px;width:0.9px;height:6.6px;background:#b4b4b4"></div><div style="left:216.75px;top:143.15px;width:13.5px;height:0.9px;background:#b4b4b4"></div><div class="t" style="left:217.2px;top:137.9px;width:12.6px;height:5.7px;font-size:3.4px;color:#262626;justify-content:center;text-align:center;line-height:1.4;-webkit-text-stroke:0.05px #444;">75%</div><div style="left:246.75px;top:137.45px;width:0.9px;height:6.6px;background:#b4b4b4"></div><div style="left:229.35px;top:143.15px;width:18.3px;height:0.9px;background:#b4b4b4"></div><div class="t" style="left:229.8px;top:137.9px;width:17.4px;height:5.7px;font-size:3.4px;color:#262626;justify-content:center;text-align:center;line-height:1.4;-webkit-text-stroke:0.05px #444;">40</div><div style="left:267.65px;top:137.45px;width:0.9px;height:6.6px;background:#b4b4b4"></div><div style="left:246.75px;top:143.15px;width:21.8px;height:0.9px;background:#b4b4b4"></div><div class="t" style="left:247.2px;top:137.9px;width:20.9px;height:5.7px;font-size:3.4px;color:#262626;justify-content:center;text-align:center;line-height:1.4;-webkit-text-stroke:0.05px #444;">30</div><div style="left:288.95px;top:137.45px;width:0.9px;height:6.6px;background:#b4b4b4"></div><div style="left:267.65px;top:143.15px;width:22.2px;height:0.9px;background:#b4b4b4"></div><div class="t" style="left:268.1px;top:137.9px;width:21.3px;height:5.7px;font-size:3.4px;color:#262626;justify-content:center;text-align:center;line-height:1.4;-webkit-text-stroke:0.05px #444;">75%</div><div style="left:303.95px;top:137.45px;width:0.9px;height:6.6px;background:#b4b4b4"></div><div style="left:288.95px;top:143.15px;width:15.9px;height:0.9px;background:#b4b4b4"></div><div class="t" style="left:289.4px;top:137.9px;width:15px;height:5.7px;font-size:3.4px;color:#262626;justify-content:center;text-align:center;line-height:1.4;-webkit-text-stroke:0.05px #444;">C</div><div style="left:94.95px;top:143.15px;width:0.9px;height:6.5px;background:#b4b4b4"></div><div style="left:52.85px;top:148.75px;width:43px;height:0.9px;background:#b4b4b4"></div><div class="t" style="left:53.3px;top:143.6px;width:42.1px;height:5.6px;font-size:3.4px;color:#262626;justify-content:center;text-align:center;line-height:1.4;-webkit-text-stroke:0.05px #444;">华东</div><div style="left:126.25px;top:143.15px;width:0.9px;height:6.5px;background:#b4b4b4"></div><div style="left:94.95px;top:148.75px;width:32.2px;height:0.9px;background:#b4b4b4"></div><div class="t" style="left:95.4px;top:143.6px;width:31.3px;height:5.6px;font-size:3.4px;color:#262626;justify-content:center;text-align:center;line-height:1.4;-webkit-text-stroke:0.05px #444;">200</div><div style="left:151.75px;top:143.15px;width:0.9px;height:6.5px;background:#b4b4b4"></div><div style="left:126.25px;top:148.75px;width:26.4px;height:0.9px;background:#b4b4b4"></div><div class="t" style="left:126.7px;top:143.6px;width:25.5px;height:5.6px;font-size:3.4px;color:#262626;justify-content:center;text-align:center;line-height:1.4;-webkit-text-stroke:0.05px #444;">200</div><div style="left:172.75px;top:143.15px;width:0.9px;height:6.5px;background:#b4b4b4"></div><div style="left:151.75px;top:148.75px;width:21.9px;height:0.9px;background:#b4b4b4"></div><div class="t" style="left:152.2px;top:143.6px;width:21px;height:5.6px;font-size:3.4px;color:#262626;justify-content:center;text-align:center;line-height:1.4;-webkit-text-stroke:0.05px #444;">100%</div><div style="left:190.05px;top:143.15px;width:0.9px;height:6.5px;background:#b4b4b4"></div><div style="left:172.75px;top:148.75px;width:18.2px;height:0.9px;background:#b4b4b4"></div><div class="t" style="left:173.2px;top:143.6px;width:17.3px;height:5.6px;font-size:3.4px;color:#262626;justify-content:center;text-align:center;line-height:1.4;-webkit-text-stroke:0.05px #444;">20</div><div style="left:216.75px;top:143.15px;width:0.9px;height:6.5px;background:#b4b4b4"></div><div style="left:190.05px;top:148.75px;width:27.6px;height:0.9px;background:#b4b4b4"></div><div class="t" style="left:190.5px;top:143.6px;width:26.7px;height:5.6px;font-size:3.4px;color:#262626;justify-content:center;text-align:center;line-height:1.4;-webkit-text-stroke:0.05px #444;">20</div><div style="left:229.35px;top:143.15px;width:0.9px;height:6.5px;background:#b4b4b4"></div><div style="left:216.75px;top:148.75px;width:13.5px;height:0.9px;background:#b4b4b4"></div><div class="t" style="left:217.2px;top:143.6px;width:12.6px;height:5.6px;font-size:3.4px;color:#262626;justify-content:center;text-align:center;line-height:1.4;-webkit-text-stroke:0.05px #444;">100%</div><div style="left:246.75px;top:143.15px;width:0.9px;height:6.5px;background:#b4b4b4"></div><div style="left:229.35px;top:148.75px;width:18.3px;height:0.9px;background:#b4b4b4"></div><div class="t" style="left:229.8px;top:143.6px;width:17.4px;height:5.6px;font-size:3.4px;color:#262626;justify-content:center;text-align:center;line-height:1.4;-webkit-text-stroke:0.05px #444;">20</div><div style="left:267.65px;top:143.15px;width:0.9px;height:6.5px;background:#b4b4b4"></div><div style="left:246.75px;top:148.75px;width:21.8px;height:0.9px;background:#b4b4b4"></div><div class="t" style="left:247.2px;top:143.6px;width:20.9px;height:5.6px;font-size:3.4px;color:#262626;justify-content:center;text-align:center;line-height:1.4;-webkit-text-stroke:0.05px #444;">20</div><div style="left:288.95px;top:143.15px;width:0.9px;height:6.5px;background:#b4b4b4"></div><div style="left:267.65px;top:148.75px;width:22.2px;height:0.9px;background:#b4b4b4"></div><div class="t" style="left:268.1px;top:143.6px;width:21.3px;height:5.6px;font-size:3.4px;color:#262626;justify-content:center;text-align:center;line-height:1.4;-webkit-text-stroke:0.05px #444;">100%</div><div style="left:303.95px;top:143.15px;width:0.9px;height:6.5px;background:#b4b4b4"></div><div style="left:288.95px;top:148.75px;width:15.9px;height:0.9px;background:#b4b4b4"></div><div class="t" style="left:289.4px;top:143.6px;width:15px;height:5.6px;font-size:3.4px;color:#262626;justify-content:center;text-align:center;line-height:1.4;-webkit-text-stroke:0.05px #444;">A</div><div style="left:94.95px;top:148.75px;width:0.9px;height:9.6px;background:#b4b4b4"></div><div style="left:52.85px;top:157.45px;width:43px;height:0.9px;background:#b4b4b4"></div><div class="t" style="left:53.3px;top:149.2px;width:42.1px;height:8.7px;font-size:3.4px;color:#262626;justify-content:center;text-align:center;line-height:1.4;-webkit-text-stroke:0.05px #444;">华中</div><div style="left:126.25px;top:148.75px;width:0.9px;height:9.6px;background:#b4b4b4"></div><div style="left:94.95px;top:157.45px;width:32.2px;height:0.9px;background:#b4b4b4"></div><div class="t" style="left:95.4px;top:149.2px;width:31.3px;height:8.7px;font-size:3.4px;color:#262626;justify-content:center;text-align:center;line-height:1.4;-webkit-text-stroke:0.05px #444;">80</div><div style="left:151.75px;top:148.75px;width:0.9px;height:9.6px;background:#b4b4b4"></div><div style="left:126.25px;top:157.45px;width:26.4px;height:0.9px;background:#b4b4b4"></div><div class="t" style="left:126.7px;top:149.2px;width:25.5px;height:8.7px;font-size:3.4px;color:#262626;justify-content:center;text-align:center;line-height:1.4;-webkit-text-stroke:0.05px #444;">70</div><div style="left:172.75px;top:148.75px;width:0.9px;height:9.6px;background:#b4b4b4"></div><div style="left:151.75px;top:157.45px;width:21.9px;height:0.9px;background:#b4b4b4"></div><div class="t" style="left:152.2px;top:149.2px;width:21px;height:8.7px;font-size:3.4px;color:#262626;justify-content:center;text-align:center;line-height:1.4;-webkit-text-stroke:0.05px #444;">87.5%</div><div style="left:190.05px;top:148.75px;width:0.9px;height:9.6px;background:#b4b4b4"></div><div style="left:172.75px;top:157.45px;width:18.2px;height:0.9px;background:#b4b4b4"></div><div class="t" style="left:173.2px;top:149.2px;width:17.3px;height:8.7px;font-size:3.4px;color:#262626;justify-content:center;text-align:center;line-height:1.4;-webkit-text-stroke:0.05px #444;">8</div><div style="left:216.75px;top:148.75px;width:0.9px;height:9.6px;background:#b4b4b4"></div><div style="left:190.05px;top:157.45px;width:27.6px;height:0.9px;background:#b4b4b4"></div><div class="t" style="left:190.5px;top:149.2px;width:26.7px;height:8.7px;font-size:3.4px;color:#262626;justify-content:center;text-align:center;line-height:1.4;-webkit-text-stroke:0.05px #444;">70</div><div style="left:229.35px;top:148.75px;width:0.9px;height:9.6px;background:#b4b4b4"></div><div style="left:216.75px;top:157.45px;width:13.5px;height:0.9px;background:#b4b4b4"></div><div class="t" style="left:217.2px;top:149.2px;width:12.6px;height:8.7px;font-size:3.4px;color:#262626;justify-content:center;text-align:center;line-height:1.4;-webkit-text-stroke:0.05px #444;">87.5%</div><div style="left:246.75px;top:148.75px;width:0.9px;height:9.6px;background:#b4b4b4"></div><div style="left:229.35px;top:157.45px;width:18.3px;height:0.9px;background:#b4b4b4"></div><div class="t" style="left:229.8px;top:149.2px;width:17.4px;height:8.7px;font-size:3.4px;color:#262626;justify-content:center;text-align:center;line-height:1.4;-webkit-text-stroke:0.05px #444;">8</div><div style="left:267.65px;top:148.75px;width:0.9px;height:9.6px;background:#b4b4b4"></div><div style="left:246.75px;top:157.45px;width:21.8px;height:0.9px;background:#b4b4b4"></div><div class="t" style="left:247.2px;top:149.2px;width:20.9px;height:8.7px;font-size:3.4px;color:#262626;justify-content:center;text-align:center;line-height:1.4;-webkit-text-stroke:0.05px #444;">70</div><div style="left:288.95px;top:148.75px;width:0.9px;height:9.6px;background:#b4b4b4"></div><div style="left:267.65px;top:157.45px;width:22.2px;height:0.9px;background:#b4b4b4"></div><div class="t" style="left:268.1px;top:149.2px;width:21.3px;height:8.7px;font-size:3.4px;color:#262626;justify-content:center;text-align:center;line-height:1.4;-webkit-text-stroke:0.05px #444;">87.5%</div><div style="left:303.95px;top:148.75px;width:0.9px;height:9.6px;background:#b4b4b4"></div><div style="left:288.95px;top:157.45px;width:15.9px;height:0.9px;background:#b4b4b4"></div><div class="t" style="left:289.4px;top:149.2px;width:15px;height:8.7px;font-size:3.4px;color:#262626;justify-content:center;text-align:center;line-height:1.4;-webkit-text-stroke:0.05px #444;">B</div><div style="left:94.95px;top:157.45px;width:0.9px;height:5.8px;background:#b4b4b4"></div><div style="left:52.85px;top:162.35px;width:43px;height:0.9px;background:#b4b4b4"></div><div class="t" style="left:53.3px;top:157.9px;width:42.1px;height:4.9px;font-size:3.4px;color:#262626;justify-content:center;text-align:center;line-height:1.4;-webkit-text-stroke:0.05px #444;">东北</div><div style="left:126.25px;top:157.45px;width:0.9px;height:5.8px;background:#b4b4b4"></div><div style="left:94.95px;top:162.35px;width:32.2px;height:0.9px;background:#b4b4b4"></div><div class="t" style="left:95.4px;top:157.9px;width:31.3px;height:4.9px;font-size:3.4px;color:#262626;justify-content:center;text-align:center;line-height:1.4;-webkit-text-stroke:0.05px #444;">1000</div><div style="left:151.75px;top:157.45px;width:0.9px;height:5.8px;background:#b4b4b4"></div><div style="left:126.25px;top:162.35px;width:26.4px;height:0.9px;background:#b4b4b4"></div><div class="t" style="left:126.7px;top:157.9px;width:25.5px;height:4.9px;font-size:3.4px;color:#262626;justify-content:center;text-align:center;line-height:1.4;-webkit-text-stroke:0.05px #444;">800</div><div style="left:172.75px;top:157.45px;width:0.9px;height:5.8px;background:#b4b4b4"></div><div style="left:151.75px;top:162.35px;width:21.9px;height:0.9px;background:#b4b4b4"></div><div class="t" style="left:152.2px;top:157.9px;width:21px;height:4.9px;font-size:3.4px;color:#262626;justify-content:center;text-align:center;line-height:1.4;-webkit-text-stroke:0.05px #444;">80%</div><div style="left:190.05px;top:157.45px;width:0.9px;height:5.8px;background:#b4b4b4"></div><div style="left:172.75px;top:162.35px;width:18.2px;height:0.9px;background:#b4b4b4"></div><div class="t" style="left:173.2px;top:157.9px;width:17.3px;height:4.9px;font-size:3.4px;color:#262626;justify-content:center;text-align:center;line-height:1.4;-webkit-text-stroke:0.05px #444;">100</div><div style="left:216.75px;top:157.45px;width:0.9px;height:5.8px;background:#b4b4b4"></div><div style="left:190.05px;top:162.35px;width:27.6px;height:0.9px;background:#b4b4b4"></div><div class="t" style="left:190.5px;top:157.9px;width:26.7px;height:4.9px;font-size:3.4px;color:#262626;justify-content:center;text-align:center;line-height:1.4;-webkit-text-stroke:0.05px #444;">100</div><div style="left:229.35px;top:157.45px;width:0.9px;height:5.8px;background:#b4b4b4"></div><div style="left:216.75px;top:162.35px;width:13.5px;height:0.9px;background:#b4b4b4"></div><div class="t" style="left:217.2px;top:157.9px;width:12.6px;height:4.9px;font-size:3.4px;color:#262626;justify-content:center;text-align:center;line-height:1.4;-webkit-text-stroke:0.05px #444;">100%</div><div style="left:246.75px;top:157.45px;width:0.9px;height:5.8px;background:#b4b4b4"></div><div style="left:229.35px;top:162.35px;width:18.3px;height:0.9px;background:#b4b4b4"></div><div class="t" style="left:229.8px;top:157.9px;width:17.4px;height:4.9px;font-size:3.4px;color:#262626;justify-content:center;text-align:center;line-height:1.4;-webkit-text-stroke:0.05px #444;">100</div><div style="left:267.65px;top:157.45px;width:0.9px;height:5.8px;background:#b4b4b4"></div><div style="left:246.75px;top:162.35px;width:21.8px;height:0.9px;background:#b4b4b4"></div><div class="t" style="left:247.2px;top:157.9px;width:20.9px;height:4.9px;font-size:3.4px;color:#262626;justify-content:center;text-align:center;line-height:1.4;-webkit-text-stroke:0.05px #444;">100</div><div style="left:288.95px;top:157.45px;width:0.9px;height:5.8px;background:#b4b4b4"></div><div style="left:267.65px;top:162.35px;width:22.2px;height:0.9px;background:#b4b4b4"></div><div class="t" style="left:268.1px;top:157.9px;width:21.3px;height:4.9px;font-size:3.4px;color:#262626;justify-content:center;text-align:center;line-height:1.4;-webkit-text-stroke:0.05px #444;">100%</div><div style="left:303.95px;top:157.45px;width:0.9px;height:5.8px;background:#b4b4b4"></div><div style="left:288.95px;top:162.35px;width:15.9px;height:0.9px;background:#b4b4b4"></div><div class="t" style="left:289.4px;top:157.9px;width:15px;height:4.9px;font-size:3.4px;color:#262626;justify-content:center;text-align:center;line-height:1.4;-webkit-text-stroke:0.05px #444;">B</div><div style="left:94.95px;top:162.35px;width:0.9px;height:6.8px;background:#b4b4b4"></div><div style="left:24.75px;top:168.25px;width:71.1px;height:0.9px;background:#b4b4b4"></div><div class="t" style="left:25.2px;top:162.8px;width:70.2px;height:5.9px;font-size:3.4px;color:#262626;justify-content:center;text-align:center;line-height:1.4;-webkit-text-stroke:0.05px #444;">合计</div><div style="left:126.25px;top:162.35px;width:0.9px;height:6.8px;background:#b4b4b4"></div><div style="left:94.95px;top:168.25px;width:32.2px;height:0.9px;background:#b4b4b4"></div><div class="t" style="left:95.4px;top:162.8px;width:31.3px;height:5.9px;font-size:3.4px;color:#262626;justify-content:center;text-align:center;line-height:1.4;-webkit-text-stroke:0.05px #444;">2180</div><div style="left:151.75px;top:162.35px;width:0.9px;height:6.8px;background:#b4b4b4"></div><div style="left:126.25px;top:168.25px;width:26.4px;height:0.9px;background:#b4b4b4"></div><div class="t" style="left:126.7px;top:162.8px;width:25.5px;height:5.9px;font-size:3.4px;color:#262626;justify-content:center;text-align:center;line-height:1.4;-webkit-text-stroke:0.05px #444;">1670</div><div style="left:172.75px;top:162.35px;width:0.9px;height:6.8px;background:#b4b4b4"></div><div style="left:151.75px;top:168.25px;width:21.9px;height:0.9px;background:#b4b4b4"></div><div class="t" style="left:152.2px;top:162.8px;width:21px;height:5.9px;font-size:3.4px;color:#262626;justify-content:center;text-align:center;line-height:1.4;-webkit-text-stroke:0.05px #444;">76%</div><div style="left:190.05px;top:162.35px;width:0.9px;height:6.8px;background:#b4b4b4"></div><div style="left:172.75px;top:168.25px;width:18.2px;height:0.9px;background:#b4b4b4"></div><div class="t" style="left:173.2px;top:162.8px;width:17.3px;height:5.9px;font-size:3.4px;color:#262626;justify-content:center;text-align:center;line-height:1.4;-webkit-text-stroke:0.05px #444;">218</div><div style="left:216.75px;top:162.35px;width:0.9px;height:6.8px;background:#b4b4b4"></div><div style="left:190.05px;top:168.25px;width:27.6px;height:0.9px;background:#b4b4b4"></div><div class="t" style="left:190.5px;top:162.8px;width:26.7px;height:5.9px;font-size:3.4px;color:#262626;justify-content:center;text-align:center;line-height:1.4;-webkit-text-stroke:0.05px #444;">167</div><div style="left:229.35px;top:162.35px;width:0.9px;height:6.8px;background:#b4b4b4"></div><div style="left:216.75px;top:168.25px;width:13.5px;height:0.9px;background:#b4b4b4"></div><div class="t" style="left:217.2px;top:162.8px;width:12.6px;height:5.9px;font-size:3.4px;color:#262626;justify-content:center;text-align:center;line-height:1.4;-webkit-text-stroke:0.05px #444;">76%</div><div style="left:246.75px;top:162.35px;width:0.9px;height:6.8px;background:#b4b4b4"></div><div style="left:229.35px;top:168.25px;width:18.3px;height:0.9px;background:#b4b4b4"></div><div class="t" style="left:229.8px;top:162.8px;width:17.4px;height:5.9px;font-size:3.4px;color:#262626;justify-content:center;text-align:center;line-height:1.4;-webkit-text-stroke:0.05px #444;">218</div><div style="left:267.65px;top:162.35px;width:0.9px;height:6.8px;background:#b4b4b4"></div><div style="left:246.75px;top:168.25px;width:21.8px;height:0.9px;background:#b4b4b4"></div><div class="t" style="left:247.2px;top:162.8px;width:20.9px;height:5.9px;font-size:3.4px;color:#262626;justify-content:center;text-align:center;line-height:1.4;-webkit-text-stroke:0.05px #444;">167</div><div style="left:288.95px;top:162.35px;width:0.9px;height:6.8px;background:#b4b4b4"></div><div style="left:267.65px;top:168.25px;width:22.2px;height:0.9px;background:#b4b4b4"></div><div class="t" style="left:268.1px;top:162.8px;width:21.3px;height:5.9px;font-size:3.4px;color:#262626;justify-content:center;text-align:center;line-height:1.4;-webkit-text-stroke:0.05px #444;">76%</div><div style="left:303.95px;top:162.35px;width:0.9px;height:6.8px;background:#b4b4b4"></div><div style="left:288.95px;top:168.25px;width:15.9px;height:0.9px;background:#b4b4b4"></div><div class="t" style="left:289.4px;top:162.8px;width:15px;height:5.9px;font-size:3.4px;color:#262626;justify-content:center;text-align:center;line-height:1.4;-webkit-text-stroke:0.05px #444;">C</div><div style="left:24.75px;top:121.75px;width:0.9px;height:47.4px;background:#b4b4b4"></div><div style="left:24.75px;top:121.75px;width:280.1px;height:0.9px;background:#b4b4b4"></div><div class="fr"></div></div><div class="c" style="left:0px;top:321.6px;background:#fff"><div style="left:77px;top:25.3px;width:176px;height:15.4px;border-radius:7.7px;background:linear-gradient(90deg,#0f214d 0%,#172d5f 50%,#1e3870 100%);box-shadow:inset 0 0 0.7px 0.5px rgba(8,16,40,.8);"></div><div class="t" style="left:77px;top:25.3px;width:176px;height:15.4px;font-size:6.95px;color:#fff;font-weight:bold;justify-content:center;text-align:center;">9 、 2021 年各品牌销售目标完成情况</div><div style="left:56px;top:100.2px;width:220.6px;height:1px;background:#c8cacd"></div><div style="left:56px;top:90.57px;width:220.6px;height:1px;background:#c8cacd"></div><div style="left:56px;top:80.94px;width:220.6px;height:1px;background:#c8cacd"></div><div style="left:56px;top:71.31px;width:220.6px;height:1px;background:#c8cacd"></div><div style="left:56px;top:61.68px;width:220.6px;height:1px;background:#c8cacd"></div><div style="left:56px;top:52.05px;width:220.6px;height:1px;background:#c8cacd"></div><div style="left:56px;top:42.42px;width:220.6px;height:1px;background:#c8cacd"></div><div style="left:61.2px;top:76.62px;width:4.35px;height:24.08px;background:#4472c4"></div><div style="left:67.05px;top:86.25px;width:4.35px;height:14.45px;background:#ed7d31"></div><div style="left:72.9px;top:98.29px;width:4.35px;height:2.41px;background:#a5a5a5"></div><div style="left:78.75px;top:99.26px;width:4.35px;height:1.44px;background:#ffc000"></div><div style="left:84.6px;top:98.29px;width:4.35px;height:2.41px;background:#5b9bd5"></div><div style="left:90.45px;top:99.26px;width:4.35px;height:1.44px;background:#70ad47"></div><div class="t" style="left:56px;top:101.2px;width:44.2px;height:6px;font-size:4.2px;color:#404040;justify-content:center;text-align:center;-webkit-text-stroke:0.1px #555;">品牌 A</div><div style="left:105.4px;top:81.44px;width:4.35px;height:19.26px;background:#4472c4"></div><div style="left:111.25px;top:86.25px;width:4.35px;height:14.45px;background:#ed7d31"></div><div style="left:117.1px;top:98.77px;width:4.35px;height:1.93px;background:#a5a5a5"></div><div style="left:122.95px;top:99.26px;width:4.35px;height:1.44px;background:#ffc000"></div><div style="left:128.8px;top:98.77px;width:4.35px;height:1.93px;background:#5b9bd5"></div><div style="left:134.65px;top:99.26px;width:4.35px;height:1.44px;background:#70ad47"></div><div class="t" style="left:100.2px;top:101.2px;width:44.2px;height:6px;font-size:4.2px;color:#404040;justify-content:center;text-align:center;-webkit-text-stroke:0.1px #555;">品牌 B</div><div style="left:149.6px;top:91.07px;width:4.35px;height:9.63px;background:#4472c4"></div><div style="left:155.45px;top:91.07px;width:4.35px;height:9.63px;background:#ed7d31"></div><div style="left:161.3px;top:99.74px;width:4.35px;height:0.96px;background:#a5a5a5"></div><div style="left:167.15px;top:99.74px;width:4.35px;height:0.96px;background:#ffc000"></div><div style="left:173px;top:99.74px;width:4.35px;height:0.96px;background:#5b9bd5"></div><div style="left:178.85px;top:99.74px;width:4.35px;height:0.96px;background:#70ad47"></div><div class="t" style="left:144.4px;top:101.2px;width:44.2px;height:6px;font-size:4.2px;color:#404040;justify-content:center;text-align:center;-webkit-text-stroke:0.1px #555;">品牌 C</div><div style="left:193.8px;top:96.85px;width:4.35px;height:3.85px;background:#4472c4"></div><div style="left:199.65px;top:97.33px;width:4.35px;height:3.37px;background:#ed7d31"></div><div style="left:205.5px;top:100.31px;width:4.35px;height:0.39px;background:#a5a5a5"></div><div style="left:211.35px;top:97.33px;width:4.35px;height:3.37px;background:#ffc000"></div><div style="left:217.2px;top:100.31px;width:4.35px;height:0.39px;background:#5b9bd5"></div><div style="left:223.05px;top:97.33px;width:4.35px;height:3.37px;background:#70ad47"></div><div class="t" style="left:188.6px;top:101.2px;width:44.2px;height:6px;font-size:4.2px;color:#404040;justify-content:center;text-align:center;-webkit-text-stroke:0.1px #555;">品牌 D</div><div style="left:238px;top:52.55px;width:4.35px;height:48.15px;background:#4472c4"></div><div style="left:243.85px;top:62.18px;width:4.35px;height:38.52px;background:#ed7d31"></div><div style="left:249.7px;top:95.88px;width:4.35px;height:4.82px;background:#a5a5a5"></div><div style="left:255.55px;top:95.88px;width:4.35px;height:4.82px;background:#ffc000"></div><div style="left:261.4px;top:95.88px;width:4.35px;height:4.82px;background:#5b9bd5"></div><div style="left:267.25px;top:95.88px;width:4.35px;height:4.82px;background:#70ad47"></div><div class="t" style="left:232.8px;top:101.2px;width:44.2px;height:6px;font-size:4.2px;color:#404040;justify-content:center;text-align:center;-webkit-text-stroke:0.1px #555;">品牌 E</div><div style="left:100.7px;top:112.7px;width:2.4px;height:2.4px;background:#4472c4"></div><div class="t" style="left:103.7px;top:110.9px;width:20.3px;height:6px;font-size:4.2px;color:#404040;justify-content:flex-start;text-align:left;-webkit-text-stroke:0.1px #555;">销售目标</div><div style="left:123.4px;top:112.7px;width:2.4px;height:2.4px;background:#ed7d31"></div><div class="t" style="left:126.4px;top:110.9px;width:20.3px;height:6px;font-size:4.2px;color:#404040;justify-content:flex-start;text-align:left;-webkit-text-stroke:0.1px #555;">实际完成</div><div style="left:146.1px;top:112.7px;width:2.4px;height:2.4px;background:#a5a5a5"></div><div class="t" style="left:149.1px;top:110.9px;width:20.3px;height:6px;font-size:4.2px;color:#404040;justify-content:flex-start;text-align:left;-webkit-text-stroke:0.1px #555;">利润目标</div><div style="left:168.8px;top:112.7px;width:2.4px;height:2.4px;background:#ffc000"></div><div class="t" style="left:171.8px;top:110.9px;width:20.3px;height:6px;font-size:4.2px;color:#404040;justify-content:flex-start;text-align:left;-webkit-text-stroke:0.1px #555;">利润完成</div><div style="left:191.5px;top:112.7px;width:2.4px;height:2.4px;background:#5b9bd5"></div><div class="t" style="left:194.5px;top:110.9px;width:20.3px;height:6px;font-size:4.2px;color:#404040;justify-content:flex-start;text-align:left;-webkit-text-stroke:0.1px #555;">投入预算</div><div style="left:214.2px;top:112.7px;width:2.4px;height:2.4px;background:#70ad47"></div><div class="t" style="left:217.2px;top:110.9px;width:20.3px;height:6px;font-size:4.2px;color:#404040;justify-content:flex-start;text-align:left;-webkit-text-stroke:0.1px #555;">实际投入</div><div style="left:56.05px;top:121.15px;width:0.9px;height:10.2px;background:#b4b4b4"></div><div style="left:27.85px;top:130.45px;width:29.1px;height:0.9px;background:#b4b4b4"></div><div class="t" style="left:28.3px;top:121.6px;width:28.2px;height:9.3px;font-size:3.7px;color:#000;font-weight:bold;justify-content:center;text-align:center;line-height:1.4;-webkit-text-stroke:0.1px #000;">模块</div><div style="left:87.05px;top:121.15px;width:0.9px;height:10.2px;background:#b4b4b4"></div><div style="left:56.05px;top:130.45px;width:31.9px;height:0.9px;background:#b4b4b4"></div><div class="t" style="left:56.5px;top:121.6px;width:31px;height:9.3px;font-size:3.7px;color:#000;font-weight:bold;justify-content:center;text-align:center;line-height:1.4;-webkit-text-stroke:0.1px #000;">品牌</div><div style="left:131.25px;top:121.15px;width:0.9px;height:10.2px;background:#b4b4b4"></div><div style="left:87.05px;top:130.45px;width:45.1px;height:0.9px;background:#b4b4b4"></div><div class="t" style="left:87.5px;top:121.6px;width:44.2px;height:9.3px;font-size:3.7px;color:#000;font-weight:bold;justify-content:center;text-align:center;line-height:1.4;-webkit-text-stroke:0.1px #000;">销售目标</div><div style="left:156.55px;top:121.15px;width:0.9px;height:10.2px;background:#b4b4b4"></div><div style="left:131.25px;top:130.45px;width:26.2px;height:0.9px;background:#b4b4b4"></div><div class="t" style="left:131.7px;top:121.6px;width:25.3px;height:9.3px;font-size:3.7px;color:#000;font-weight:bold;justify-content:center;text-align:center;line-height:1.4;-webkit-text-stroke:0.1px #000;">实际完成</div><div style="left:177.25px;top:121.15px;width:0.9px;height:10.2px;background:#b4b4b4"></div><div style="left:156.55px;top:130.45px;width:21.6px;height:0.9px;background:#b4b4b4"></div><div class="t" style="left:157px;top:121.6px;width:20.7px;height:9.3px;font-size:3.7px;color:#000;font-weight:bold;justify-content:center;text-align:center;line-height:1.4;-webkit-text-stroke:0.1px #000;">完成率</div><div style="left:200.05px;top:121.15px;width:0.9px;height:10.2px;background:#b4b4b4"></div><div style="left:177.25px;top:130.45px;width:23.7px;height:0.9px;background:#b4b4b4"></div><div class="t" style="left:177.7px;top:121.6px;width:22.8px;height:9.3px;font-size:3.7px;color:#000;font-weight:bold;justify-content:center;text-align:center;line-height:1.4;-webkit-text-stroke:0.1px #000;">利润目标</div><div style="left:221.95px;top:121.15px;width:0.9px;height:10.2px;background:#b4b4b4"></div><div style="left:200.05px;top:130.45px;width:22.8px;height:0.9px;background:#b4b4b4"></div><div class="t" style="left:200.5px;top:121.6px;width:21.9px;height:9.3px;font-size:3.7px;color:#000;font-weight:bold;justify-content:center;text-align:center;line-height:1.4;-webkit-text-stroke:0.1px #000;">利润实际完成</div><div style="left:237.25px;top:121.15px;width:0.9px;height:10.2px;background:#b4b4b4"></div><div style="left:221.95px;top:130.45px;width:16.2px;height:0.9px;background:#b4b4b4"></div><div class="t" style="left:222.4px;top:121.6px;width:15.3px;height:9.3px;font-size:3.7px;color:#000;font-weight:bold;justify-content:center;text-align:center;line-height:1.4;-webkit-text-stroke:0.1px #000;">达成率</div><div style="left:252.25px;top:121.15px;width:0.9px;height:10.2px;background:#b4b4b4"></div><div style="left:237.25px;top:130.45px;width:15.9px;height:0.9px;background:#b4b4b4"></div><div class="t" style="left:237.7px;top:121.6px;width:15px;height:9.3px;font-size:3.7px;color:#000;font-weight:bold;justify-content:center;text-align:center;line-height:1.4;-webkit-text-stroke:0.1px #000;">投入预算</div><div style="left:274.25px;top:121.15px;width:0.9px;height:10.2px;background:#b4b4b4"></div><div style="left:252.25px;top:130.45px;width:22.9px;height:0.9px;background:#b4b4b4"></div><div class="t" style="left:252.7px;top:121.6px;width:22px;height:9.3px;font-size:3.7px;color:#000;font-weight:bold;justify-content:center;text-align:center;line-height:1.4;-webkit-text-stroke:0.1px #000;">实际投入</div><div style="left:293.75px;top:121.15px;width:0.9px;height:10.2px;background:#b4b4b4"></div><div style="left:274.25px;top:130.45px;width:20.4px;height:0.9px;background:#b4b4b4"></div><div class="t" style="left:274.7px;top:121.6px;width:19.5px;height:9.3px;font-size:3.7px;color:#000;font-weight:bold;justify-content:center;text-align:center;line-height:1.4;-webkit-text-stroke:0.1px #000;">投入产出比</div><div style="left:309.95px;top:121.15px;width:0.9px;height:10.2px;background:#b4b4b4"></div><div style="left:293.75px;top:130.45px;width:17.1px;height:0.9px;background:#b4b4b4"></div><div class="t" style="left:294.2px;top:121.6px;width:16.2px;height:9.3px;font-size:3.7px;color:#000;font-weight:bold;justify-content:center;text-align:center;line-height:1.4;-webkit-text-stroke:0.1px #000;">整体贡献</div><div style="left:56.05px;top:130.45px;width:0.9px;height:30.9px;background:#b4b4b4"></div><div style="left:27.85px;top:160.45px;width:29.1px;height:0.9px;background:#b4b4b4"></div><div class="t" style="left:28.3px;top:130.9px;width:28.2px;height:30px;font-size:3.5px;color:#262626;justify-content:center;text-align:center;line-height:1.4;-webkit-text-stroke:0.05px #444;">品牌<br>完成<br>情况</div><div style="left:87.05px;top:130.45px;width:0.9px;height:6.9px;background:#b4b4b4"></div><div style="left:56.05px;top:136.45px;width:31.9px;height:0.9px;background:#b4b4b4"></div><div class="t" style="left:56.5px;top:130.9px;width:31px;height:6px;font-size:3.5px;color:#262626;justify-content:center;text-align:center;line-height:1.4;-webkit-text-stroke:0.05px #444;">品牌 A</div><div style="left:131.25px;top:130.45px;width:0.9px;height:6.9px;background:#b4b4b4"></div><div style="left:87.05px;top:136.45px;width:45.1px;height:0.9px;background:#b4b4b4"></div><div class="t" style="left:87.5px;top:130.9px;width:44.2px;height:6px;font-size:3.5px;color:#262626;justify-content:center;text-align:center;line-height:1.4;-webkit-text-stroke:0.05px #444;">500</div><div style="left:156.55px;top:130.45px;width:0.9px;height:6.9px;background:#b4b4b4"></div><div style="left:131.25px;top:136.45px;width:26.2px;height:0.9px;background:#b4b4b4"></div><div class="t" style="left:131.7px;top:130.9px;width:25.3px;height:6px;font-size:3.5px;color:#262626;justify-content:center;text-align:center;line-height:1.4;-webkit-text-stroke:0.05px #444;">300</div><div style="left:177.25px;top:130.45px;width:0.9px;height:6.9px;background:#b4b4b4"></div><div style="left:156.55px;top:136.45px;width:21.6px;height:0.9px;background:#b4b4b4"></div><div class="t" style="left:157px;top:130.9px;width:20.7px;height:6px;font-size:3.5px;color:#262626;justify-content:center;text-align:center;line-height:1.4;-webkit-text-stroke:0.05px #444;">60%</div><div style="left:200.05px;top:130.45px;width:0.9px;height:6.9px;background:#b4b4b4"></div><div style="left:177.25px;top:136.45px;width:23.7px;height:0.9px;background:#b4b4b4"></div><div class="t" style="left:177.7px;top:130.9px;width:22.8px;height:6px;font-size:3.5px;color:#262626;justify-content:center;text-align:center;line-height:1.4;-webkit-text-stroke:0.05px #444;">50</div><div style="left:221.95px;top:130.45px;width:0.9px;height:6.9px;background:#b4b4b4"></div><div style="left:200.05px;top:136.45px;width:22.8px;height:0.9px;background:#b4b4b4"></div><div class="t" style="left:200.5px;top:130.9px;width:21.9px;height:6px;font-size:3.5px;color:#262626;justify-content:center;text-align:center;line-height:1.4;-webkit-text-stroke:0.05px #444;">30</div><div style="left:237.25px;top:130.45px;width:0.9px;height:6.9px;background:#b4b4b4"></div><div style="left:221.95px;top:136.45px;width:16.2px;height:0.9px;background:#b4b4b4"></div><div class="t" style="left:222.4px;top:130.9px;width:15.3px;height:6px;font-size:3.5px;color:#262626;justify-content:center;text-align:center;line-height:1.4;-webkit-text-stroke:0.05px #444;">60%</div><div style="left:252.25px;top:130.45px;width:0.9px;height:6.9px;background:#b4b4b4"></div><div style="left:237.25px;top:136.45px;width:15.9px;height:0.9px;background:#b4b4b4"></div><div class="t" style="left:237.7px;top:130.9px;width:15px;height:6px;font-size:3.5px;color:#262626;justify-content:center;text-align:center;line-height:1.4;-webkit-text-stroke:0.05px #444;">50</div><div style="left:274.25px;top:130.45px;width:0.9px;height:6.9px;background:#b4b4b4"></div><div style="left:252.25px;top:136.45px;width:22.9px;height:0.9px;background:#b4b4b4"></div><div class="t" style="left:252.7px;top:130.9px;width:22px;height:6px;font-size:3.5px;color:#262626;justify-content:center;text-align:center;line-height:1.4;-webkit-text-stroke:0.05px #444;">30</div><div style="left:293.75px;top:130.45px;width:0.9px;height:6.9px;background:#b4b4b4"></div><div style="left:274.25px;top:136.45px;width:20.4px;height:0.9px;background:#b4b4b4"></div><div class="t" style="left:274.7px;top:130.9px;width:19.5px;height:6px;font-size:3.5px;color:#262626;justify-content:center;text-align:center;line-height:1.4;-webkit-text-stroke:0.05px #444;">60%</div><div style="left:309.95px;top:130.45px;width:0.9px;height:6.9px;background:#b4b4b4"></div><div style="left:293.75px;top:136.45px;width:17.1px;height:0.9px;background:#b4b4b4"></div><div class="t" style="left:294.2px;top:130.9px;width:16.2px;height:6px;font-size:3.5px;color:#262626;justify-content:center;text-align:center;line-height:1.4;-webkit-text-stroke:0.05px #444;">D</div><div style="left:87.05px;top:136.45px;width:0.9px;height:6.9px;background:#b4b4b4"></div><div style="left:56.05px;top:142.45px;width:31.9px;height:0.9px;background:#b4b4b4"></div><div class="t" style="left:56.5px;top:136.9px;width:31px;height:6px;font-size:3.5px;color:#262626;justify-content:center;text-align:center;line-height:1.4;-webkit-text-stroke:0.05px #444;">品牌 B</div><div style="left:131.25px;top:136.45px;width:0.9px;height:6.9px;background:#b4b4b4"></div><div style="left:87.05px;top:142.45px;width:45.1px;height:0.9px;background:#b4b4b4"></div><div class="t" style="left:87.5px;top:136.9px;width:44.2px;height:6px;font-size:3.5px;color:#262626;justify-content:center;text-align:center;line-height:1.4;-webkit-text-stroke:0.05px #444;">400</div><div style="left:156.55px;top:136.45px;width:0.9px;height:6.9px;background:#b4b4b4"></div><div style="left:131.25px;top:142.45px;width:26.2px;height:0.9px;background:#b4b4b4"></div><div class="t" style="left:131.7px;top:136.9px;width:25.3px;height:6px;font-size:3.5px;color:#262626;justify-content:center;text-align:center;line-height:1.4;-webkit-text-stroke:0.05px #444;">300</div><div style="left:177.25px;top:136.45px;width:0.9px;height:6.9px;background:#b4b4b4"></div><div style="left:156.55px;top:142.45px;width:21.6px;height:0.9px;background:#b4b4b4"></div><div class="t" style="left:157px;top:136.9px;width:20.7px;height:6px;font-size:3.5px;color:#262626;justify-content:center;text-align:center;line-height:1.4;-webkit-text-stroke:0.05px #444;">75%</div><div style="left:200.05px;top:136.45px;width:0.9px;height:6.9px;background:#b4b4b4"></div><div style="left:177.25px;top:142.45px;width:23.7px;height:0.9px;background:#b4b4b4"></div><div class="t" style="left:177.7px;top:136.9px;width:22.8px;height:6px;font-size:3.5px;color:#262626;justify-content:center;text-align:center;line-height:1.4;-webkit-text-stroke:0.05px #444;">40</div><div style="left:221.95px;top:136.45px;width:0.9px;height:6.9px;background:#b4b4b4"></div><div style="left:200.05px;top:142.45px;width:22.8px;height:0.9px;background:#b4b4b4"></div><div class="t" style="left:200.5px;top:136.9px;width:21.9px;height:6px;font-size:3.5px;color:#262626;justify-content:center;text-align:center;line-height:1.4;-webkit-text-stroke:0.05px #444;">30</div><div style="left:237.25px;top:136.45px;width:0.9px;height:6.9px;background:#b4b4b4"></div><div style="left:221.95px;top:142.45px;width:16.2px;height:0.9px;background:#b4b4b4"></div><div class="t" style="left:222.4px;top:136.9px;width:15.3px;height:6px;font-size:3.5px;color:#262626;justify-content:center;text-align:center;line-height:1.4;-webkit-text-stroke:0.05px #444;">75%</div><div style="left:252.25px;top:136.45px;width:0.9px;height:6.9px;background:#b4b4b4"></div><div style="left:237.25px;top:142.45px;width:15.9px;height:0.9px;background:#b4b4b4"></div><div class="t" style="left:237.7px;top:136.9px;width:15px;height:6px;font-size:3.5px;color:#262626;justify-content:center;text-align:center;line-height:1.4;-webkit-text-stroke:0.05px #444;">40</div><div style="left:274.25px;top:136.45px;width:0.9px;height:6.9px;background:#b4b4b4"></div><div style="left:252.25px;top:142.45px;width:22.9px;height:0.9px;background:#b4b4b4"></div><div class="t" style="left:252.7px;top:136.9px;width:22px;height:6px;font-size:3.5px;color:#262626;justify-content:center;text-align:center;line-height:1.4;-webkit-text-stroke:0.05px #444;">30</div><div style="left:293.75px;top:136.45px;width:0.9px;height:6.9px;background:#b4b4b4"></div><div style="left:274.25px;top:142.45px;width:20.4px;height:0.9px;background:#b4b4b4"></div><div class="t" style="left:274.7px;top:136.9px;width:19.5px;height:6px;font-size:3.5px;color:#262626;justify-content:center;text-align:center;line-height:1.4;-webkit-text-stroke:0.05px #444;">75%</div><div style="left:309.95px;top:136.45px;width:0.9px;height:6.9px;background:#b4b4b4"></div><div style="left:293.75px;top:142.45px;width:17.1px;height:0.9px;background:#b4b4b4"></div><div class="t" style="left:294.2px;top:136.9px;width:16.2px;height:6px;font-size:3.5px;color:#262626;justify-content:center;text-align:center;line-height:1.4;-webkit-text-stroke:0.05px #444;">C</div><div style="left:87.05px;top:142.45px;width:0.9px;height:6.9px;background:#b4b4b4"></div><div style="left:56.05px;top:148.45px;width:31.9px;height:0.9px;background:#b4b4b4"></div><div class="t" style="left:56.5px;top:142.9px;width:31px;height:6px;font-size:3.5px;color:#262626;justify-content:center;text-align:center;line-height:1.4;-webkit-text-stroke:0.05px #444;">品牌 C</div><div style="left:131.25px;top:142.45px;width:0.9px;height:6.9px;background:#b4b4b4"></div><div style="left:87.05px;top:148.45px;width:45.1px;height:0.9px;background:#b4b4b4"></div><div class="t" style="left:87.5px;top:142.9px;width:44.2px;height:6px;font-size:3.5px;color:#262626;justify-content:center;text-align:center;line-height:1.4;-webkit-text-stroke:0.05px #444;">200</div><div style="left:156.55px;top:142.45px;width:0.9px;height:6.9px;background:#b4b4b4"></div><div style="left:131.25px;top:148.45px;width:26.2px;height:0.9px;background:#b4b4b4"></div><div class="t" style="left:131.7px;top:142.9px;width:25.3px;height:6px;font-size:3.5px;color:#262626;justify-content:center;text-align:center;line-height:1.4;-webkit-text-stroke:0.05px #444;">200</div><div style="left:177.25px;top:142.45px;width:0.9px;height:6.9px;background:#b4b4b4"></div><div style="left:156.55px;top:148.45px;width:21.6px;height:0.9px;background:#b4b4b4"></div><div class="t" style="left:157px;top:142.9px;width:20.7px;height:6px;font-size:3.5px;color:#262626;justify-content:center;text-align:center;line-height:1.4;-webkit-text-stroke:0.05px #444;">100%</div><div style="left:200.05px;top:142.45px;width:0.9px;height:6.9px;background:#b4b4b4"></div><div style="left:177.25px;top:148.45px;width:23.7px;height:0.9px;background:#b4b4b4"></div><div class="t" style="left:177.7px;top:142.9px;width:22.8px;height:6px;font-size:3.5px;color:#262626;justify-content:center;text-align:center;line-height:1.4;-webkit-text-stroke:0.05px #444;">20</div><div style="left:221.95px;top:142.45px;width:0.9px;height:6.9px;background:#b4b4b4"></div><div style="left:200.05px;top:148.45px;width:22.8px;height:0.9px;background:#b4b4b4"></div><div class="t" style="left:200.5px;top:142.9px;width:21.9px;height:6px;font-size:3.5px;color:#262626;justify-content:center;text-align:center;line-height:1.4;-webkit-text-stroke:0.05px #444;">20</div><div style="left:237.25px;top:142.45px;width:0.9px;height:6.9px;background:#b4b4b4"></div><div style="left:221.95px;top:148.45px;width:16.2px;height:0.9px;background:#b4b4b4"></div><div class="t" style="left:222.4px;top:142.9px;width:15.3px;height:6px;font-size:3.5px;color:#262626;justify-content:center;text-align:center;line-height:1.4;-webkit-text-stroke:0.05px #444;">100%</div><div style="left:252.25px;top:142.45px;width:0.9px;height:6.9px;background:#b4b4b4"></div><div style="left:237.25px;top:148.45px;width:15.9px;height:0.9px;background:#b4b4b4"></div><div class="t" style="left:237.7px;top:142.9px;width:15px;height:6px;font-size:3.5px;color:#262626;justify-content:center;text-align:center;line-height:1.4;-webkit-text-stroke:0.05px #444;">20</div><div style="left:274.25px;top:142.45px;width:0.9px;height:6.9px;background:#b4b4b4"></div><div style="left:252.25px;top:148.45px;width:22.9px;height:0.9px;background:#b4b4b4"></div><div class="t" style="left:252.7px;top:142.9px;width:22px;height:6px;font-size:3.5px;color:#262626;justify-content:center;text-align:center;line-height:1.4;-webkit-text-stroke:0.05px #444;">20</div><div style="left:293.75px;top:142.45px;width:0.9px;height:6.9px;background:#b4b4b4"></div><div style="left:274.25px;top:148.45px;width:20.4px;height:0.9px;background:#b4b4b4"></div><div class="t" style="left:274.7px;top:142.9px;width:19.5px;height:6px;font-size:3.5px;color:#262626;justify-content:center;text-align:center;line-height:1.4;-webkit-text-stroke:0.05px #444;">100%</div><div style="left:309.95px;top:142.45px;width:0.9px;height:6.9px;background:#b4b4b4"></div><div style="left:293.75px;top:148.45px;width:17.1px;height:0.9px;background:#b4b4b4"></div><div class="t" style="left:294.2px;top:142.9px;width:16.2px;height:6px;font-size:3.5px;color:#262626;justify-content:center;text-align:center;line-height:1.4;-webkit-text-stroke:0.05px #444;">A</div><div style="left:87.05px;top:148.45px;width:0.9px;height:6.9px;background:#b4b4b4"></div><div style="left:56.05px;top:154.45px;width:31.9px;height:0.9px;background:#b4b4b4"></div><div class="t" style="left:56.5px;top:148.9px;width:31px;height:6px;font-size:3.5px;color:#262626;justify-content:center;text-align:center;line-height:1.4;-webkit-text-stroke:0.05px #444;">品牌 D</div><div style="left:131.25px;top:148.45px;width:0.9px;height:6.9px;background:#b4b4b4"></div><div style="left:87.05px;top:154.45px;width:45.1px;height:0.9px;background:#b4b4b4"></div><div class="t" style="left:87.5px;top:148.9px;width:44.2px;height:6px;font-size:3.5px;color:#262626;justify-content:center;text-align:center;line-height:1.4;-webkit-text-stroke:0.05px #444;">80</div><div style="left:156.55px;top:148.45px;width:0.9px;height:6.9px;background:#b4b4b4"></div><div style="left:131.25px;top:154.45px;width:26.2px;height:0.9px;background:#b4b4b4"></div><div class="t" style="left:131.7px;top:148.9px;width:25.3px;height:6px;font-size:3.5px;color:#262626;justify-content:center;text-align:center;line-height:1.4;-webkit-text-stroke:0.05px #444;">70</div><div style="left:177.25px;top:148.45px;width:0.9px;height:6.9px;background:#b4b4b4"></div><div style="left:156.55px;top:154.45px;width:21.6px;height:0.9px;background:#b4b4b4"></div><div class="t" style="left:157px;top:148.9px;width:20.7px;height:6px;font-size:3.5px;color:#262626;justify-content:center;text-align:center;line-height:1.4;-webkit-text-stroke:0.05px #444;">87.5%</div><div style="left:200.05px;top:148.45px;width:0.9px;height:6.9px;background:#b4b4b4"></div><div style="left:177.25px;top:154.45px;width:23.7px;height:0.9px;background:#b4b4b4"></div><div class="t" style="left:177.7px;top:148.9px;width:22.8px;height:6px;font-size:3.5px;color:#262626;justify-content:center;text-align:center;line-height:1.4;-webkit-text-stroke:0.05px #444;">8</div><div style="left:221.95px;top:148.45px;width:0.9px;height:6.9px;background:#b4b4b4"></div><div style="left:200.05px;top:154.45px;width:22.8px;height:0.9px;background:#b4b4b4"></div><div class="t" style="left:200.5px;top:148.9px;width:21.9px;height:6px;font-size:3.5px;color:#262626;justify-content:center;text-align:center;line-height:1.4;-webkit-text-stroke:0.05px #444;">70</div><div style="left:237.25px;top:148.45px;width:0.9px;height:6.9px;background:#b4b4b4"></div><div style="left:221.95px;top:154.45px;width:16.2px;height:0.9px;background:#b4b4b4"></div><div class="t" style="left:222.4px;top:148.9px;width:15.3px;height:6px;font-size:3.5px;color:#262626;justify-content:center;text-align:center;line-height:1.4;-webkit-text-stroke:0.05px #444;">87.5%</div><div style="left:252.25px;top:148.45px;width:0.9px;height:6.9px;background:#b4b4b4"></div><div style="left:237.25px;top:154.45px;width:15.9px;height:0.9px;background:#b4b4b4"></div><div class="t" style="left:237.7px;top:148.9px;width:15px;height:6px;font-size:3.5px;color:#262626;justify-content:center;text-align:center;line-height:1.4;-webkit-text-stroke:0.05px #444;">8</div><div style="left:274.25px;top:148.45px;width:0.9px;height:6.9px;background:#b4b4b4"></div><div style="left:252.25px;top:154.45px;width:22.9px;height:0.9px;background:#b4b4b4"></div><div class="t" style="left:252.7px;top:148.9px;width:22px;height:6px;font-size:3.5px;color:#262626;justify-content:center;text-align:center;line-height:1.4;-webkit-text-stroke:0.05px #444;">70</div><div style="left:293.75px;top:148.45px;width:0.9px;height:6.9px;background:#b4b4b4"></div><div style="left:274.25px;top:154.45px;width:20.4px;height:0.9px;background:#b4b4b4"></div><div class="t" style="left:274.7px;top:148.9px;width:19.5px;height:6px;font-size:3.5px;color:#262626;justify-content:center;text-align:center;line-height:1.4;-webkit-text-stroke:0.05px #444;">87.5%</div><div style="left:309.95px;top:148.45px;width:0.9px;height:6.9px;background:#b4b4b4"></div><div style="left:293.75px;top:154.45px;width:17.1px;height:0.9px;background:#b4b4b4"></div><div class="t" style="left:294.2px;top:148.9px;width:16.2px;height:6px;font-size:3.5px;color:#262626;justify-content:center;text-align:center;line-height:1.4;-webkit-text-stroke:0.05px #444;">B</div><div style="left:87.05px;top:154.45px;width:0.9px;height:6.9px;background:#b4b4b4"></div><div style="left:56.05px;top:160.45px;width:31.9px;height:0.9px;background:#b4b4b4"></div><div class="t" style="left:56.5px;top:154.9px;width:31px;height:6px;font-size:3.5px;color:#262626;justify-content:center;text-align:center;line-height:1.4;-webkit-text-stroke:0.05px #444;">品牌 E</div><div style="left:131.25px;top:154.45px;width:0.9px;height:6.9px;background:#b4b4b4"></div><div style="left:87.05px;top:160.45px;width:45.1px;height:0.9px;background:#b4b4b4"></div><div class="t" style="left:87.5px;top:154.9px;width:44.2px;height:6px;font-size:3.5px;color:#262626;justify-content:center;text-align:center;line-height:1.4;-webkit-text-stroke:0.05px #444;">1000</div><div style="left:156.55px;top:154.45px;width:0.9px;height:6.9px;background:#b4b4b4"></div><div style="left:131.25px;top:160.45px;width:26.2px;height:0.9px;background:#b4b4b4"></div><div class="t" style="left:131.7px;top:154.9px;width:25.3px;height:6px;font-size:3.5px;color:#262626;justify-content:center;text-align:center;line-height:1.4;-webkit-text-stroke:0.05px #444;">800</div><div style="left:177.25px;top:154.45px;width:0.9px;height:6.9px;background:#b4b4b4"></div><div style="left:156.55px;top:160.45px;width:21.6px;height:0.9px;background:#b4b4b4"></div><div class="t" style="left:157px;top:154.9px;width:20.7px;height:6px;font-size:3.5px;color:#262626;justify-content:center;text-align:center;line-height:1.4;-webkit-text-stroke:0.05px #444;">80%</div><div style="left:200.05px;top:154.45px;width:0.9px;height:6.9px;background:#b4b4b4"></div><div style="left:177.25px;top:160.45px;width:23.7px;height:0.9px;background:#b4b4b4"></div><div class="t" style="left:177.7px;top:154.9px;width:22.8px;height:6px;font-size:3.5px;color:#262626;justify-content:center;text-align:center;line-height:1.4;-webkit-text-stroke:0.05px #444;">100</div><div style="left:221.95px;top:154.45px;width:0.9px;height:6.9px;background:#b4b4b4"></div><div style="left:200.05px;top:160.45px;width:22.8px;height:0.9px;background:#b4b4b4"></div><div class="t" style="left:200.5px;top:154.9px;width:21.9px;height:6px;font-size:3.5px;color:#262626;justify-content:center;text-align:center;line-height:1.4;-webkit-text-stroke:0.05px #444;">100</div><div style="left:237.25px;top:154.45px;width:0.9px;height:6.9px;background:#b4b4b4"></div><div style="left:221.95px;top:160.45px;width:16.2px;height:0.9px;background:#b4b4b4"></div><div class="t" style="left:222.4px;top:154.9px;width:15.3px;height:6px;font-size:3.5px;color:#262626;justify-content:center;text-align:center;line-height:1.4;-webkit-text-stroke:0.05px #444;">100%</div><div style="left:252.25px;top:154.45px;width:0.9px;height:6.9px;background:#b4b4b4"></div><div style="left:237.25px;top:160.45px;width:15.9px;height:0.9px;background:#b4b4b4"></div><div class="t" style="left:237.7px;top:154.9px;width:15px;height:6px;font-size:3.5px;color:#262626;justify-content:center;text-align:center;line-height:1.4;-webkit-text-stroke:0.05px #444;">100</div><div style="left:274.25px;top:154.45px;width:0.9px;height:6.9px;background:#b4b4b4"></div><div style="left:252.25px;top:160.45px;width:22.9px;height:0.9px;background:#b4b4b4"></div><div class="t" style="left:252.7px;top:154.9px;width:22px;height:6px;font-size:3.5px;color:#262626;justify-content:center;text-align:center;line-height:1.4;-webkit-text-stroke:0.05px #444;">100</div><div style="left:293.75px;top:154.45px;width:0.9px;height:6.9px;background:#b4b4b4"></div><div style="left:274.25px;top:160.45px;width:20.4px;height:0.9px;background:#b4b4b4"></div><div class="t" style="left:274.7px;top:154.9px;width:19.5px;height:6px;font-size:3.5px;color:#262626;justify-content:center;text-align:center;line-height:1.4;-webkit-text-stroke:0.05px #444;">100%</div><div style="left:309.95px;top:154.45px;width:0.9px;height:6.9px;background:#b4b4b4"></div><div style="left:293.75px;top:160.45px;width:17.1px;height:0.9px;background:#b4b4b4"></div><div class="t" style="left:294.2px;top:154.9px;width:16.2px;height:6px;font-size:3.5px;color:#262626;justify-content:center;text-align:center;line-height:1.4;-webkit-text-stroke:0.05px #444;">B</div><div style="left:87.05px;top:160.45px;width:0.9px;height:7.4px;background:#b4b4b4"></div><div style="left:27.85px;top:166.95px;width:60.1px;height:0.9px;background:#b4b4b4"></div><div class="t" style="left:28.3px;top:160.9px;width:59.2px;height:6.5px;font-size:3.5px;color:#262626;justify-content:center;text-align:center;line-height:1.4;-webkit-text-stroke:0.05px #444;">合计</div><div style="left:131.25px;top:160.45px;width:0.9px;height:7.4px;background:#b4b4b4"></div><div style="left:87.05px;top:166.95px;width:45.1px;height:0.9px;background:#b4b4b4"></div><div class="t" style="left:87.5px;top:160.9px;width:44.2px;height:6.5px;font-size:3.5px;color:#262626;justify-content:center;text-align:center;line-height:1.4;-webkit-text-stroke:0.05px #444;">2180</div><div style="left:156.55px;top:160.45px;width:0.9px;height:7.4px;background:#b4b4b4"></div><div style="left:131.25px;top:166.95px;width:26.2px;height:0.9px;background:#b4b4b4"></div><div class="t" style="left:131.7px;top:160.9px;width:25.3px;height:6.5px;font-size:3.5px;color:#262626;justify-content:center;text-align:center;line-height:1.4;-webkit-text-stroke:0.05px #444;">1670</div><div style="left:177.25px;top:160.45px;width:0.9px;height:7.4px;background:#b4b4b4"></div><div style="left:156.55px;top:166.95px;width:21.6px;height:0.9px;background:#b4b4b4"></div><div class="t" style="left:157px;top:160.9px;width:20.7px;height:6.5px;font-size:3.5px;color:#262626;justify-content:center;text-align:center;line-height:1.4;-webkit-text-stroke:0.05px #444;">76%</div><div style="left:200.05px;top:160.45px;width:0.9px;height:7.4px;background:#b4b4b4"></div><div style="left:177.25px;top:166.95px;width:23.7px;height:0.9px;background:#b4b4b4"></div><div class="t" style="left:177.7px;top:160.9px;width:22.8px;height:6.5px;font-size:3.5px;color:#262626;justify-content:center;text-align:center;line-height:1.4;-webkit-text-stroke:0.05px #444;">218</div><div style="left:221.95px;top:160.45px;width:0.9px;height:7.4px;background:#b4b4b4"></div><div style="left:200.05px;top:166.95px;width:22.8px;height:0.9px;background:#b4b4b4"></div><div class="t" style="left:200.5px;top:160.9px;width:21.9px;height:6.5px;font-size:3.5px;color:#262626;justify-content:center;text-align:center;line-height:1.4;-webkit-text-stroke:0.05px #444;">167</div><div style="left:237.25px;top:160.45px;width:0.9px;height:7.4px;background:#b4b4b4"></div><div style="left:221.95px;top:166.95px;width:16.2px;height:0.9px;background:#b4b4b4"></div><div class="t" style="left:222.4px;top:160.9px;width:15.3px;height:6.5px;font-size:3.5px;color:#262626;justify-content:center;text-align:center;line-height:1.4;-webkit-text-stroke:0.05px #444;">76%</div><div style="left:252.25px;top:160.45px;width:0.9px;height:7.4px;background:#b4b4b4"></div><div style="left:237.25px;top:166.95px;width:15.9px;height:0.9px;background:#b4b4b4"></div><div class="t" style="left:237.7px;top:160.9px;width:15px;height:6.5px;font-size:3.5px;color:#262626;justify-content:center;text-align:center;line-height:1.4;-webkit-text-stroke:0.05px #444;">218</div><div style="left:274.25px;top:160.45px;width:0.9px;height:7.4px;background:#b4b4b4"></div><div style="left:252.25px;top:166.95px;width:22.9px;height:0.9px;background:#b4b4b4"></div><div class="t" style="left:252.7px;top:160.9px;width:22px;height:6.5px;font-size:3.5px;color:#262626;justify-content:center;text-align:center;line-height:1.4;-webkit-text-stroke:0.05px #444;">167</div><div style="left:293.75px;top:160.45px;width:0.9px;height:7.4px;background:#b4b4b4"></div><div style="left:274.25px;top:166.95px;width:20.4px;height:0.9px;background:#b4b4b4"></div><div class="t" style="left:274.7px;top:160.9px;width:19.5px;height:6.5px;font-size:3.5px;color:#262626;justify-content:center;text-align:center;line-height:1.4;-webkit-text-stroke:0.05px #444;">76%</div><div style="left:309.95px;top:160.45px;width:0.9px;height:7.4px;background:#b4b4b4"></div><div style="left:293.75px;top:166.95px;width:17.1px;height:0.9px;background:#b4b4b4"></div><div class="t" style="left:294.2px;top:160.9px;width:16.2px;height:6.5px;font-size:3.5px;color:#262626;justify-content:center;text-align:center;line-height:1.4;-webkit-text-stroke:0.05px #444;">C</div><div style="left:27.85px;top:121.15px;width:0.9px;height:46.7px;background:#b4b4b4"></div><div style="left:27.85px;top:121.15px;width:283px;height:0.9px;background:#b4b4b4"></div><div class="fr"></div></div><div class="c" style="left:335px;top:321.6px;background:#fff"><div style="left:77.2px;top:34.6px;width:176.5px;height:17.4px;border-radius:8.7px;background:linear-gradient(90deg,#6e0010 0%,#95000f 45%,#c0000c 100%);"></div><div class="t" style="left:77.2px;top:34.6px;width:176.5px;height:17.4px;font-size:7px;color:#fff;font-weight:bold;justify-content:center;text-align:center;">2021 年目标完成总结描述</div><div style="left:55.4px;top:65.5px;width:40px;height:11.8px;background:linear-gradient(90deg,#4f1c86 0%,#6a2a9e 60%,#7834ae 100%);box-shadow:0 0.8px 1px rgba(60,20,90,.35)"></div><div class="t" style="left:55.4px;top:65.5px;width:40px;height:11.8px;font-size:5.4px;color:#fff;font-weight:bold;justify-content:center;text-align:center;">整体完成</div><div style="left:55.4px;top:79.7px;width:40px;height:28.2px;background:#fff;border:0.6px solid #d6d6d6;box-sizing:border-box;box-shadow:0 0.5px 1px rgba(0,0,0,.12)"></div><div class="t" style="left:55.4px;top:79.7px;width:40px;height:28.2px;font-size:4.1px;color:#3a3a3a;justify-content:center;text-align:center;line-height:5px;-webkit-text-stroke:0.1px #555;">整体完成率<br>90%、利润完成<br>80%、费用率超<br>20%、增长率<br>12.5%</div><div style="left:100.7px;top:65.5px;width:40px;height:11.8px;background:linear-gradient(90deg,#4f1c86 0%,#6a2a9e 60%,#7834ae 100%);box-shadow:0 0.8px 1px rgba(60,20,90,.35)"></div><div class="t" style="left:100.7px;top:65.5px;width:40px;height:11.8px;font-size:5.4px;color:#fff;font-weight:bold;justify-content:center;text-align:center;">月度完成</div><div style="left:100.7px;top:79.7px;width:40px;height:28.2px;background:#fff;border:0.6px solid #d6d6d6;box-sizing:border-box;box-shadow:0 0.5px 1px rgba(0,0,0,.12)"></div><div class="t" style="left:100.7px;top:79.7px;width:40px;height:28.2px;font-size:4.1px;color:#3a3a3a;justify-content:center;text-align:center;line-height:5px;-webkit-text-stroke:0.1px #555;">月度表现 12 月份<br>增长率最高，销售<br>额最高一个月是 5<br>月份</div><div style="left:146px;top:65.5px;width:40px;height:11.8px;background:linear-gradient(90deg,#4f1c86 0%,#6a2a9e 60%,#7834ae 100%);box-shadow:0 0.8px 1px rgba(60,20,90,.35)"></div><div class="t" style="left:146px;top:65.5px;width:40px;height:11.8px;font-size:5.4px;color:#fff;font-weight:bold;justify-content:center;text-align:center;">渠道完成</div><div style="left:146px;top:79.7px;width:40px;height:28.2px;background:#fff;border:0.6px solid #d6d6d6;box-sizing:border-box;box-shadow:0 0.5px 1px rgba(0,0,0,.12)"></div><div class="t" style="left:146px;top:79.7px;width:40px;height:28.2px;font-size:4.1px;color:#3a3a3a;justify-content:center;text-align:center;line-height:5px;-webkit-text-stroke:0.1px #555;">线上渠道增长 50%<br>超过线下渠道</div><div style="left:191.8px;top:65.5px;width:40px;height:11.8px;background:linear-gradient(90deg,#4f1c86 0%,#6a2a9e 60%,#7834ae 100%);box-shadow:0 0.8px 1px rgba(60,20,90,.35)"></div><div class="t" style="left:191.8px;top:65.5px;width:40px;height:11.8px;font-size:5.4px;color:#fff;font-weight:bold;justify-content:center;text-align:center;">团队完成</div><div style="left:191.8px;top:79.7px;width:40px;height:28.2px;background:#fff;border:0.6px solid #d6d6d6;box-sizing:border-box;box-shadow:0 0.5px 1px rgba(0,0,0,.12)"></div><div class="t" style="left:191.8px;top:79.7px;width:40px;height:28.2px;font-size:4.1px;color:#3a3a3a;justify-content:center;text-align:center;line-height:5px;-webkit-text-stroke:0.1px #555;">C 组表现最优秀，<br>完成 100%，投入<br>产出比最优秀为 E<br>组</div><div style="left:237.6px;top:65.5px;width:40px;height:11.8px;background:linear-gradient(90deg,#4f1c86 0%,#6a2a9e 60%,#7834ae 100%);box-shadow:0 0.8px 1px rgba(60,20,90,.35)"></div><div class="t" style="left:237.6px;top:65.5px;width:40px;height:11.8px;font-size:5.4px;color:#fff;font-weight:bold;justify-content:center;text-align:center;">客户完成</div><div style="left:237.6px;top:79.7px;width:40px;height:28.2px;background:#fff;border:0.6px solid #d6d6d6;box-sizing:border-box;box-shadow:0 0.5px 1px rgba(0,0,0,.12)"></div><div class="t" style="left:237.6px;top:79.7px;width:40px;height:28.2px;font-size:4.1px;color:#3a3a3a;justify-content:center;text-align:center;line-height:5px;-webkit-text-stroke:0.1px #555;">客户整体完成<br>75%，客户 C 整体<br>表现，利润完成最<br>佳</div><div style="left:55.4px;top:115.9px;width:40px;height:12px;background:linear-gradient(90deg,#4f1c86 0%,#6a2a9e 60%,#7834ae 100%);box-shadow:0 0.8px 1px rgba(60,20,90,.35)"></div><div class="t" style="left:55.4px;top:115.9px;width:40px;height:12px;font-size:5.4px;color:#fff;font-weight:bold;justify-content:center;text-align:center;">产品完成</div><div style="left:55.4px;top:129.8px;width:40px;height:28.6px;background:#fff;border:0.6px solid #d6d6d6;box-sizing:border-box;box-shadow:0 0.5px 1px rgba(0,0,0,.12)"></div><div class="t" style="left:55.4px;top:129.8px;width:40px;height:28.6px;font-size:4.1px;color:#3a3a3a;justify-content:center;text-align:center;line-height:5px;-webkit-text-stroke:0.1px #555;">产品表现最好的是<br>C 产品，销量贡献<br>和利润贡献最大</div><div style="left:100.7px;top:115.9px;width:40px;height:12px;background:linear-gradient(90deg,#4f1c86 0%,#6a2a9e 60%,#7834ae 100%);box-shadow:0 0.8px 1px rgba(60,20,90,.35)"></div><div class="t" style="left:100.7px;top:115.9px;width:40px;height:12px;font-size:5.4px;color:#fff;font-weight:bold;justify-content:center;text-align:center;">品牌完成</div><div style="left:100.7px;top:129.8px;width:40px;height:28.6px;background:#fff;border:0.6px solid #d6d6d6;box-sizing:border-box;box-shadow:0 0.5px 1px rgba(0,0,0,.12)"></div><div class="t" style="left:100.7px;top:129.8px;width:40px;height:28.6px;font-size:4.1px;color:#3a3a3a;justify-content:center;text-align:center;line-height:5px;-webkit-text-stroke:0.1px #555;">C 品牌年增长率最<br>高</div><div style="left:146px;top:115.9px;width:40px;height:12px;background:linear-gradient(90deg,#4f1c86 0%,#6a2a9e 60%,#7834ae 100%);box-shadow:0 0.8px 1px rgba(60,20,90,.35)"></div><div class="t" style="left:146px;top:115.9px;width:40px;height:12px;font-size:5.4px;color:#fff;font-weight:bold;justify-content:center;text-align:center;">区域完成</div><div style="left:146px;top:129.8px;width:40px;height:28.6px;background:#fff;border:0.6px solid #d6d6d6;box-sizing:border-box;box-shadow:0 0.5px 1px rgba(0,0,0,.12)"></div><div class="t" style="left:146px;top:129.8px;width:40px;height:28.6px;font-size:4.1px;color:#3a3a3a;justify-content:center;text-align:center;line-height:5px;-webkit-text-stroke:0.1px #555;">华南内部整体增长<br>率最高</div><div style="left:191.8px;top:115.9px;width:40px;height:12px;background:linear-gradient(90deg,#4f1c86 0%,#6a2a9e 60%,#7834ae 100%);box-shadow:0 0.8px 1px rgba(60,20,90,.35)"></div><div class="t" style="left:191.8px;top:115.9px;width:40px;height:12px;font-size:5.4px;color:#fff;font-weight:bold;justify-content:center;text-align:center;">门店完成</div><div style="left:191.8px;top:129.8px;width:40px;height:28.6px;background:#fff;border:0.6px solid #d6d6d6;box-sizing:border-box;box-shadow:0 0.5px 1px rgba(0,0,0,.12)"></div><div class="t" style="left:191.8px;top:129.8px;width:40px;height:28.6px;font-size:4.1px;color:#3a3a3a;justify-content:center;text-align:center;line-height:5px;-webkit-text-stroke:0.1px #555;">门店平均贡献 100<br>万，其中 A 类门店<br>增长率超额整体目标</div><div style="left:237.6px;top:115.9px;width:40px;height:12px;background:linear-gradient(90deg,#4f1c86 0%,#6a2a9e 60%,#7834ae 100%);box-shadow:0 0.8px 1px rgba(60,20,90,.35)"></div><div class="t" style="left:237.6px;top:115.9px;width:40px;height:12px;font-size:5.4px;color:#fff;font-weight:bold;justify-content:center;text-align:center;">市场完成</div><div style="left:237.6px;top:129.8px;width:40px;height:28.6px;background:#fff;border:0.6px solid #d6d6d6;box-sizing:border-box;box-shadow:0 0.5px 1px rgba(0,0,0,.12)"></div><div class="t" style="left:237.6px;top:129.8px;width:40px;height:28.6px;font-size:4.1px;color:#3a3a3a;justify-content:center;text-align:center;line-height:5px;-webkit-text-stroke:0.1px #555;">市场覆盖率提升<br>3%，表现最好的<br>市场是上海</div><div class="fr"></div></div><div class="c" style="left:670px;top:321.6px;background:#dee8f4"><div style="left:57.2px;top:39.8px;width:216.1px;height:17.2px;border-radius:8.6px;background:linear-gradient(90deg,#0a3a78 0%,#0d4a8f 55%,#1561ad 100%);box-shadow:0 0 2px 1px rgba(120,170,230,.6)"></div><div class="t" style="left:57.2px;top:39.8px;width:216.1px;height:17.2px;font-size:8.4px;color:#fff;font-weight:bold;justify-content:center;text-align:center;">二、 2021 年工作完成 - 具体工作汇报</div><div style="left:37.3px;top:73.8px;width:34px;height:62.4px;background:linear-gradient(200deg,#c80008 0%,#b20006 45%,#8a0004 100%);box-shadow:0 0 0.5px 1px rgba(255,236,246,.95)"></div><div style="left:47.25px;top:78.75px;width:14.1px;height:14.1px;border-radius:50%;background:#050505;border:1.9px solid #f6a83c;box-sizing:border-box;box-shadow:inset 0 0 0.6px 0.4px rgba(255,210,110,.7), 0 0 0.4px 0.2px rgba(255,190,90,.6)"></div><div class="t" style="left:47.25px;top:78.75px;width:14.1px;height:14.1px;font-size:7.4px;color:#e8e8e8;font-weight:bold;justify-content:center;text-align:center;">1</div><div class="t" style="left:37.3px;top:94.8px;width:34px;height:10px;font-size:8px;color:#fbeef6;font-weight:bold;justify-content:center;text-align:center;">管理</div><div class="t" style="left:37.3px;top:104.9px;width:34px;height:10px;font-size:8px;color:#fbeef6;font-weight:bold;justify-content:center;text-align:center;">工作</div><div class="t" style="left:37.3px;top:115px;width:34px;height:10px;font-size:8px;color:#fbeef6;font-weight:bold;justify-content:center;text-align:center;">回顾</div><div style="left:74.4px;top:73.8px;width:34px;height:62.4px;background:linear-gradient(200deg,#7632ac 0%,#62259a 45%,#4a1a7e 100%);box-shadow:0 0 0.5px 1px rgba(255,236,246,.95)"></div><div style="left:84.35px;top:78.75px;width:14.1px;height:14.1px;border-radius:50%;background:#050505;border:1.9px solid #f6a83c;box-sizing:border-box;box-shadow:inset 0 0 0.6px 0.4px rgba(255,210,110,.7), 0 0 0.4px 0.2px rgba(255,190,90,.6)"></div><div class="t" style="left:84.35px;top:78.75px;width:14.1px;height:14.1px;font-size:7.4px;color:#e8e8e8;font-weight:bold;justify-content:center;text-align:center;">2</div><div class="t" style="left:74.4px;top:94.8px;width:34px;height:10px;font-size:8px;color:#fbeef6;font-weight:bold;justify-content:center;text-align:center;">市场</div><div class="t" style="left:74.4px;top:104.9px;width:34px;height:10px;font-size:8px;color:#fbeef6;font-weight:bold;justify-content:center;text-align:center;">工作</div><div class="t" style="left:74.4px;top:115px;width:34px;height:10px;font-size:8px;color:#fbeef6;font-weight:bold;justify-content:center;text-align:center;">回顾</div><div style="left:111.3px;top:73.8px;width:34px;height:62.4px;background:linear-gradient(200deg,#c80008 0%,#b20006 45%,#8a0004 100%);box-shadow:0 0 0.5px 1px rgba(255,236,246,.95)"></div><div style="left:121.25px;top:78.75px;width:14.1px;height:14.1px;border-radius:50%;background:#050505;border:1.9px solid #f6a83c;box-sizing:border-box;box-shadow:inset 0 0 0.6px 0.4px rgba(255,210,110,.7), 0 0 0.4px 0.2px rgba(255,190,90,.6)"></div><div class="t" style="left:121.25px;top:78.75px;width:14.1px;height:14.1px;font-size:7.4px;color:#e8e8e8;font-weight:bold;justify-content:center;text-align:center;">3</div><div class="t" style="left:111.3px;top:94.8px;width:34px;height:10px;font-size:8px;color:#fbeef6;font-weight:bold;justify-content:center;text-align:center;">营销</div><div class="t" style="left:111.3px;top:104.9px;width:34px;height:10px;font-size:8px;color:#fbeef6;font-weight:bold;justify-content:center;text-align:center;">工作</div><div class="t" style="left:111.3px;top:115px;width:34px;height:10px;font-size:8px;color:#fbeef6;font-weight:bold;justify-content:center;text-align:center;">回顾</div><div style="left:148.4px;top:73.8px;width:34px;height:62.4px;background:linear-gradient(200deg,#7632ac 0%,#62259a 45%,#4a1a7e 100%);box-shadow:0 0 0.5px 1px rgba(255,236,246,.95)"></div><div style="left:158.35px;top:78.75px;width:14.1px;height:14.1px;border-radius:50%;background:#050505;border:1.9px solid #f6a83c;box-sizing:border-box;box-shadow:inset 0 0 0.6px 0.4px rgba(255,210,110,.7), 0 0 0.4px 0.2px rgba(255,190,90,.6)"></div><div class="t" style="left:158.35px;top:78.75px;width:14.1px;height:14.1px;font-size:7.4px;color:#e8e8e8;font-weight:bold;justify-content:center;text-align:center;">4</div><div class="t" style="left:148.4px;top:94.8px;width:34px;height:10px;font-size:8px;color:#fbeef6;font-weight:bold;justify-content:center;text-align:center;">渠道</div><div class="t" style="left:148.4px;top:104.9px;width:34px;height:10px;font-size:8px;color:#fbeef6;font-weight:bold;justify-content:center;text-align:center;">工作</div><div class="t" style="left:148.4px;top:115px;width:34px;height:10px;font-size:8px;color:#fbeef6;font-weight:bold;justify-content:center;text-align:center;">回顾</div><div style="left:185.8px;top:73.8px;width:34px;height:62.4px;background:linear-gradient(200deg,#c80008 0%,#b20006 45%,#8a0004 100%);box-shadow:0 0 0.5px 1px rgba(255,236,246,.95)"></div><div style="left:195.75px;top:78.75px;width:14.1px;height:14.1px;border-radius:50%;background:#050505;border:1.9px solid #f6a83c;box-sizing:border-box;box-shadow:inset 0 0 0.6px 0.4px rgba(255,210,110,.7), 0 0 0.4px 0.2px rgba(255,190,90,.6)"></div><div class="t" style="left:195.75px;top:78.75px;width:14.1px;height:14.1px;font-size:7.4px;color:#e8e8e8;font-weight:bold;justify-content:center;text-align:center;">5</div><div class="t" style="left:185.8px;top:94.8px;width:34px;height:10px;font-size:8px;color:#fbeef6;font-weight:bold;justify-content:center;text-align:center;">品牌</div><div class="t" style="left:185.8px;top:104.9px;width:34px;height:10px;font-size:8px;color:#fbeef6;font-weight:bold;justify-content:center;text-align:center;">工作</div><div class="t" style="left:185.8px;top:115px;width:34px;height:10px;font-size:8px;color:#fbeef6;font-weight:bold;justify-content:center;text-align:center;">回顾</div><div style="left:224px;top:73.8px;width:34px;height:62.4px;background:linear-gradient(200deg,#7632ac 0%,#62259a 45%,#4a1a7e 100%);box-shadow:0 0 0.5px 1px rgba(255,236,246,.95)"></div><div style="left:233.95px;top:78.75px;width:14.1px;height:14.1px;border-radius:50%;background:#050505;border:1.9px solid #f6a83c;box-sizing:border-box;box-shadow:inset 0 0 0.6px 0.4px rgba(255,210,110,.7), 0 0 0.4px 0.2px rgba(255,190,90,.6)"></div><div class="t" style="left:233.95px;top:78.75px;width:14.1px;height:14.1px;font-size:7.4px;color:#e8e8e8;font-weight:bold;justify-content:center;text-align:center;">6</div><div class="t" style="left:224px;top:94.8px;width:34px;height:10px;font-size:8px;color:#fbeef6;font-weight:bold;justify-content:center;text-align:center;">产品</div><div class="t" style="left:224px;top:104.9px;width:34px;height:10px;font-size:8px;color:#fbeef6;font-weight:bold;justify-content:center;text-align:center;">工作</div><div class="t" style="left:224px;top:115px;width:34px;height:10px;font-size:8px;color:#fbeef6;font-weight:bold;justify-content:center;text-align:center;">回顾</div><div style="left:262.4px;top:73.8px;width:34px;height:62.4px;background:linear-gradient(200deg,#c80008 0%,#b20006 45%,#8a0004 100%);box-shadow:0 0 0.5px 1px rgba(255,236,246,.95)"></div><div style="left:272.35px;top:78.75px;width:14.1px;height:14.1px;border-radius:50%;background:#050505;border:1.9px solid #f6a83c;box-sizing:border-box;box-shadow:inset 0 0 0.6px 0.4px rgba(255,210,110,.7), 0 0 0.4px 0.2px rgba(255,190,90,.6)"></div><div class="t" style="left:272.35px;top:78.75px;width:14.1px;height:14.1px;font-size:7.4px;color:#e8e8e8;font-weight:bold;justify-content:center;text-align:center;">7</div><div class="t" style="left:262.4px;top:94.8px;width:34px;height:10px;font-size:8px;color:#fbeef6;font-weight:bold;justify-content:center;text-align:center;">推广</div><div class="t" style="left:262.4px;top:104.9px;width:34px;height:10px;font-size:8px;color:#fbeef6;font-weight:bold;justify-content:center;text-align:center;">工作</div><div class="t" style="left:262.4px;top:115px;width:34px;height:10px;font-size:8px;color:#fbeef6;font-weight:bold;justify-content:center;text-align:center;">回顾</div><div class="fr"></div></div><div class="c" style="left:0px;top:512.6px;background:#fff"><div style="left:61px;top:24.3px;width:208.5px;height:16.1px;border-radius:8.05px;background:linear-gradient(90deg,#09427f 0%,#0c529a 50%,#176ec0 100%);"></div><div class="t" style="left:61px;top:24.3px;width:208.5px;height:16.1px;font-size:7.2px;color:#fff;font-weight:bold;justify-content:center;text-align:center;">1 、营销管理工作情况总结 - 复盘</div><div style="left:68.4px;top:45.4px;width:193.6px;height:9.5px;background:#fff;border:0.7px solid #8a8a8a;box-sizing:border-box"></div><div class="t" style="left:68.4px;top:45.4px;width:193.6px;height:9.5px;font-size:4.6px;color:#222;font-weight:bold;justify-content:center;text-align:center;">管理工作完成情况</div><div style="left:68.4px;top:58.4px;width:63.2px;height:20.6px;background:#fff;border:0.7px solid #a8a8a8;box-sizing:border-box"></div><div class="t" style="left:70.8px;top:58.4px;width:59.8px;height:20.6px;font-size:3.45px;color:#333;justify-content:flex-start;text-align:left;white-space:nowrap;line-height:4.1px;-webkit-text-stroke:0.1px #444;"><span style="display:block"><span style="display:block;padding-left:4.6px;text-indent:-4.6px"><span style="display:inline-block;width:4.6px;text-indent:0">①</span>团队人数计：30 人</span><span style="display:block;padding-left:4.6px;text-indent:-4.6px"><span style="display:inline-block;width:4.6px;text-indent:0">②</span>新增 5 人，离职 3 人</span><span style="display:block;padding-left:4.6px;text-indent:-4.6px"><span style="display:inline-block;width:4.6px;text-indent:0">③</span>10 年以上员工 3 人</span></span></div><div style="left:133.2px;top:58.4px;width:63.2px;height:20.6px;background:#fff;border:0.7px solid #a8a8a8;box-sizing:border-box"></div><div class="t" style="left:135.6px;top:58.4px;width:59.8px;height:20.6px;font-size:3.45px;color:#333;justify-content:flex-start;text-align:left;white-space:nowrap;line-height:4.1px;-webkit-text-stroke:0.1px #444;"><span style="display:block"><span style="display:block;padding-left:4.6px;text-indent:-4.6px"><span style="display:inline-block;width:4.6px;text-indent:0">①</span>人均贡献 200 万</span><span style="display:block;padding-left:4.6px;text-indent:-4.6px"><span style="display:inline-block;width:4.6px;text-indent:0">②</span>3 人晋升岗位</span><span style="display:block;padding-left:4.6px;text-indent:-4.6px"><span style="display:inline-block;width:4.6px;text-indent:0">③</span>新增 2 项新岗位</span></span></div><div style="left:198.3px;top:58.4px;width:63.2px;height:20.6px;background:#fff;border:0.7px solid #a8a8a8;box-sizing:border-box"></div><div class="t" style="left:200.7px;top:58.4px;width:59.8px;height:20.6px;font-size:3.45px;color:#333;justify-content:flex-start;text-align:left;white-space:nowrap;line-height:4.1px;-webkit-text-stroke:0.1px #444;"><span style="display:block"><span style="display:block;padding-left:4.6px;text-indent:-4.6px"><span style="display:inline-block;width:4.6px;text-indent:0">①</span>团建活动 2 次</span><span style="display:block;padding-left:4.6px;text-indent:-4.6px"><span style="display:inline-block;width:4.6px;text-indent:0">②</span>外聘老师培训 2 次</span><span style="display:block;padding-left:4.6px;text-indent:-4.6px"><span style="display:inline-block;width:4.6px;text-indent:0">③</span>组织企业文化学习 4 次</span></span></div><div style="left:60.3px;top:82.4px;width:209.2px;height:20px;background:#dbe5f3;border:0.7px solid #8a8a8a;box-sizing:border-box"></div><div class="t" style="left:60.3px;top:82.9px;width:209.2px;height:8px;font-size:4.6px;color:#222;font-weight:bold;justify-content:center;text-align:center;">整体成绩</div><div class="fr"></div></div><div class="c" style="left:335px;top:512.6px;background:#fff"><div style="left:72px;top:23.8px;width:185.4px;height:15.5px;border-radius:7.75px;background:linear-gradient(90deg,#09427f 0%,#0c529a 50%,#176ec0 100%);"></div><div class="t" style="left:72px;top:23.8px;width:185.4px;height:15.5px;font-size:7.2px;color:#fff;font-weight:bold;justify-content:center;text-align:center;">2 、市场工作情况总结 - 合理布局</div><div style="left:74.3px;top:45.9px;width:181.5px;height:9.2px;background:#dde6f3;border:0.7px solid #8a8a8a;box-sizing:border-box"></div><div class="t" style="left:74.3px;top:45.9px;width:181.5px;height:9.2px;font-size:4.6px;color:#222;font-weight:bold;justify-content:center;text-align:center;">市场工作完成情况</div><div style="left:74.3px;top:58.4px;width:58.4px;height:20.5px;background:#fff;border:0.7px solid #a8a8a8;box-sizing:border-box"></div><div class="t" style="left:79.1px;top:58.4px;width:52.6px;height:20.5px;font-size:3.45px;color:#333;justify-content:flex-start;text-align:left;white-space:nowrap;line-height:4.1px;-webkit-text-stroke:0.1px #444;"><span style="display:block"><span style="display:block;padding-left:4.6px;text-indent:-4.6px"><span style="display:inline-block;width:4.6px;text-indent:0">①</span>市场覆盖率达到 20%</span><span style="display:block;padding-left:4.6px;text-indent:-4.6px"><span style="display:inline-block;width:4.6px;text-indent:0">②</span>新增 2 个区域市场</span></span></div><div style="left:136px;top:58.4px;width:58px;height:20.5px;background:#fff;border:0.7px solid #a8a8a8;box-sizing:border-box"></div><div class="t" style="left:140.8px;top:58.4px;width:52.2px;height:20.5px;font-size:3.45px;color:#333;justify-content:flex-start;text-align:left;white-space:nowrap;line-height:4.1px;-webkit-text-stroke:0.1px #444;"><span style="display:block"><span style="display:block;padding-left:4.6px;text-indent:-4.6px"><span style="display:inline-block;width:4.6px;text-indent:0">①</span>市场分布密度，重组市场，战<br>略市场，空白市场</span></span></div><div style="left:197px;top:58.4px;width:58.8px;height:20.5px;background:#fff;border:0.7px solid #a8a8a8;box-sizing:border-box"></div><div class="t" style="left:201.8px;top:58.4px;width:53px;height:20.5px;font-size:3.45px;color:#333;justify-content:flex-start;text-align:left;white-space:nowrap;line-height:4.1px;-webkit-text-stroke:0.1px #444;"><span style="display:block"><span style="display:block;padding-left:4.6px;text-indent:-4.6px"><span style="display:inline-block;width:4.6px;text-indent:0">①</span>老市场挖掘深度，新市场招商<br>广度，新增客户 10 个</span></span></div><div style="left:69.3px;top:81.7px;width:191.4px;height:20px;background:#dbe5f3;border:0.7px solid #8a8a8a;box-sizing:border-box"></div><div class="t" style="left:69.3px;top:82.2px;width:191.4px;height:8px;font-size:4.6px;color:#222;font-weight:bold;justify-content:center;text-align:center;">整体成绩</div><div class="fr"></div></div><div class="c" style="left:670px;top:512.6px;background:#fff"><div style="left:72px;top:24.4px;width:186px;height:15.2px;border-radius:7.6px;background:linear-gradient(90deg,#09427f 0%,#0c529a 50%,#176ec0 100%);"></div><div class="t" style="left:72px;top:24.4px;width:186px;height:15.2px;font-size:7.2px;color:#fff;font-weight:bold;justify-content:center;text-align:center;">3 、营销工作情况总结 - 完成业绩</div><div style="left:73.3px;top:46.2px;width:183.5px;height:9.6px;background:#d6dff0;border:0.7px solid #8a8a8a;box-sizing:border-box"></div><div class="t" style="left:73.3px;top:46.2px;width:183.5px;height:9.6px;font-size:4.6px;color:#222;font-weight:bold;justify-content:center;text-align:center;">营销完成情况</div><div style="left:76.6px;top:59.4px;width:57.1px;height:20.5px;background:#fff;border:0.7px solid #a8a8a8;box-sizing:border-box"></div><div class="t" style="left:81px;top:59.4px;width:51.7px;height:20.5px;font-size:3.45px;color:#333;justify-content:flex-start;text-align:left;white-space:nowrap;line-height:4.1px;-webkit-text-stroke:0.1px #444;"><span style="display:block"><span style="display:block;padding-left:4.6px;text-indent:-4.6px"><span style="display:inline-block;width:4.6px;text-indent:0">①</span>完成年度销售目标 4500 万，<br>完成率 90%</span></span></div><div style="left:136.3px;top:59.4px;width:56.1px;height:20.5px;background:#fff;border:0.7px solid #a8a8a8;box-sizing:border-box"></div><div class="t" style="left:140.7px;top:59.4px;width:50.7px;height:20.5px;font-size:3.45px;color:#333;justify-content:flex-start;text-align:left;white-space:nowrap;line-height:4.1px;-webkit-text-stroke:0.1px #444;"><span style="display:block"><span style="display:block;padding-left:4.6px;text-indent:-4.6px"><span style="display:inline-block;width:4.6px;text-indent:0">①</span>同比 2020 全年度目标，增长<br>率 12.5%</span></span></div><div style="left:195.7px;top:59.4px;width:56.1px;height:20.5px;background:#fff;border:0.7px solid #a8a8a8;box-sizing:border-box"></div><div class="t" style="left:200.1px;top:59.4px;width:50.7px;height:20.5px;font-size:3.45px;color:#333;justify-content:flex-start;text-align:left;white-space:nowrap;line-height:4.1px;-webkit-text-stroke:0.1px #444;"><span style="display:block"><span style="display:block;padding-left:4.6px;text-indent:-4.6px"><span style="display:inline-block;width:4.6px;text-indent:0">①</span>线上渠道增长了 50%，线下<br>渠道增长 8%</span></span></div><div style="left:73.3px;top:82.2px;width:183.5px;height:20px;background:#dbe5f3;border:0.7px solid #8a8a8a;box-sizing:border-box"></div><div class="t" style="left:73.3px;top:82.7px;width:183.5px;height:8px;font-size:4.6px;color:#222;font-weight:bold;justify-content:center;text-align:center;">整体成绩</div><div class="fr"></div></div>
</body></html>
